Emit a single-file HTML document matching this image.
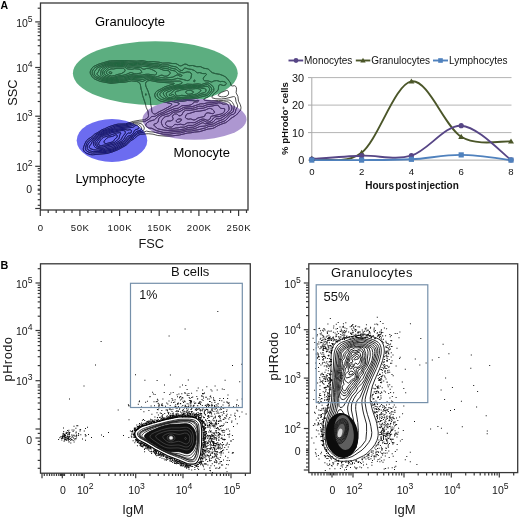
<!DOCTYPE html>
<html><head><meta charset="utf-8"><style>
html,body{margin:0;padding:0;background:#fff;width:520px;height:517px;overflow:hidden}
svg{display:block;font-family:'Liberation Sans',sans-serif}
</style></head><body>
<svg width="520" height="517" viewBox="0 0 520 517" style="will-change:transform">
<defs><clipPath id="cg"><ellipse cx="155.3" cy="73.2" rx="82.4" ry="32" /></clipPath><clipPath id="cp"><ellipse cx="194.5" cy="119.3" rx="52" ry="20.5" /></clipPath><clipPath id="cb"><ellipse cx="112" cy="140.5" rx="35.3" ry="21.5" /></clipPath></defs>
<ellipse cx="155.3" cy="73.2" rx="82.4" ry="32" fill="#5cae80"/>
<ellipse cx="194.5" cy="119.3" rx="52" ry="20.5" fill="#ad97d1"/>
<ellipse cx="112" cy="140.5" rx="35.3" ry="21.5" fill="#6c6cf0"/>
<defs><g id="cl"><path d="M93.6,154.7 92.4,154.8 90.6,154.6 88.2,153.9 86.4,153.2 84.9,152.2 84.0,151.2 83.4,149.8 83.3,148.6 83.7,146.8 85.1,143.2 86.4,140.8 88.2,139.1 92.0,136.6 94.6,134.2 97.9,132.4 102.0,129.7 104.6,128.8 108.6,126.9 115.2,124.7 118.2,124.1 125.4,123.9 133.2,121.4 139.8,120.2 144.6,119.8 147.5,118.0 148.3,116.8 148.5,115.6 148.0,111.4 146.1,107.2 145.5,104.2 142.5,95.2 142.0,92.2 141.1,89.2 140.3,84.4 139.2,82.6 138.0,81.9 136.5,81.4 131.4,80.9 124.2,82.3 120.0,82.4 111.0,83.4 100.2,81.4 94.8,79.1 93.6,78.3 92.0,76.6 90.4,73.6 90.2,72.4 90.4,71.2 91.5,68.8 92.9,67.0 94.8,65.9 99.0,64.0 108.0,61.3 110.4,60.9 117.0,60.7 124.8,60.6 136.8,61.1 142.2,60.6 148.2,61.8 153.0,61.6 159.0,62.2 162.6,63.1 168.6,62.9 172.2,63.5 175.8,63.6 177.0,64.1 179.4,65.6 180.6,65.9 181.8,65.6 184.2,64.3 186.0,64.1 189.0,65.7 192.6,65.5 196.8,66.7 200.4,66.6 204.0,68.3 207.6,68.8 208.8,69.4 211.0,71.8 212.4,72.7 215.4,73.6 219.6,74.3 223.2,75.6 225.6,77.0 227.1,78.4 230.3,82.6 231.2,85.6 232.2,86.0 234.6,85.7 235.8,86.5 236.3,87.4 236.5,89.2 236.1,92.8 237.9,96.4 238.5,101.2 240.1,104.2 240.7,106.0 241.0,107.8 240.7,109.6 240.0,110.8 236.3,115.0 231.0,118.4 227.3,121.6 225.6,122.7 222.0,123.9 217.8,125.7 214.8,127.5 212.4,128.5 208.2,129.0 199.8,131.6 194.4,132.1 190.8,132.8 187.8,133.0 179.4,135.0 172.2,135.9 165.0,136.1 157.8,135.5 153.0,134.2 148.2,133.7 140.4,134.3 138.0,135.3 134.4,138.6 130.7,140.8 126.0,145.3 118.2,149.6 112.2,152.0 106.8,153.5 93.6,154.7"/><path d="M155.8,113.8 159.0,111.8 162.6,110.2 170.3,106.0 171.7,104.8 171.8,104.2 171.0,103.6 160.2,101.0 157.2,99.4 155.5,97.6 154.8,95.8 154.7,94.6 155.4,92.8 156.3,91.6 157.2,90.9 161.7,88.6 164.4,87.0 171.0,84.7 173.1,84.4 174.3,83.8 174.1,83.2 158.4,82.1 150.0,80.5 147.8,80.8 146.1,82.0 145.6,83.2 145.6,85.0 146.1,86.8 148.0,91.0 150.4,98.8 150.6,103.6 151.5,107.8 151.8,111.4 152.4,112.6 153.5,113.8 154.8,114.1 155.8,113.8"/><path d="M226.1,96.4 227.9,95.2 228.6,94.0 228.5,92.2 228.0,91.0 227.4,90.4 226.2,90.5 221.4,92.4 219.0,94.0 218.2,95.2 218.4,95.8 219.0,96.2 221.4,96.8 223.8,96.8 226.1,96.4"/><path d="M97.2,152.8 92.4,153.1 90.6,152.8 88.2,151.9 86.6,151.0 85.8,150.0 85.4,148.6 85.5,147.4 86.8,143.2 88.2,141.2 93.5,137.2 96.0,134.8 101.4,131.3 115.8,125.7 121.2,125.1 125.4,124.9 135.0,122.1 144.6,121.6 149.0,119.2 151.8,116.5 154.2,116.4 155.4,116.1 159.6,113.6 163.2,112.2 166.8,110.0 174.6,106.2 177.4,105.4 178.4,104.8 179.0,104.2 179.2,103.6 178.7,103.0 178.2,102.8 173.4,101.7 167.4,101.1 160.8,99.2 159.2,98.2 157.8,96.6 157.2,95.2 157.2,94.0 157.8,92.8 159.0,91.8 165.0,88.3 171.0,86.4 179.2,84.4 181.0,83.8 181.9,83.2 182.1,82.6 181.6,82.0 180.6,81.4 179.4,81.1 169.8,81.2 159.0,80.8 156.0,80.5 151.2,79.3 149.4,79.0 146.5,79.6 143.4,81.2 142.2,81.5 138.0,80.3 131.4,79.3 130.2,79.4 123.6,81.3 119.4,81.3 112.2,82.3 109.8,82.2 100.8,80.1 95.4,77.6 94.2,76.7 93.2,75.4 92.3,73.6 92.2,72.4 92.4,71.2 93.0,70.0 93.8,68.8 95.1,67.6 99.0,65.5 107.4,62.6 109.8,62.1 124.2,61.7 128.4,62.1 132.0,62.0 137.4,62.4 141.6,61.8 148.2,63.1 158.4,63.8 162.6,65.0 168.0,64.8 171.6,66.1 175.8,66.8 177.6,67.8 179.9,70.0 181.2,70.5 182.4,70.5 183.0,70.0 183.7,68.8 184.8,68.0 186.0,68.2 188.4,69.0 191.4,69.4 194.4,70.5 196.8,72.5 197.4,72.8 199.8,72.6 202.8,73.6 205.9,73.6 206.5,74.2 206.4,74.8 204.0,76.9 203.3,78.4 203.5,79.6 203.8,80.2 204.7,80.8 208.2,80.9 211.2,82.0 211.8,82.0 214.2,80.9 216.6,80.6 217.9,80.8 220.2,81.7 222.0,81.4 223.2,81.5 225.0,82.0 225.8,82.6 226.2,83.2 226.3,83.8 226.0,84.4 225.0,85.2 223.2,85.5 220.2,84.5 219.6,84.7 219.0,85.4 218.5,86.8 218.4,89.2 217.9,90.4 213.2,94.6 211.9,97.0 212.0,97.6 212.4,97.9 215.9,98.8 221.4,99.0 226.2,98.4 233.4,96.6 234.6,96.7 235.4,97.6 236.0,101.8 237.4,104.8 237.7,106.0 237.4,107.2 235.9,109.6 235.4,112.0 234.9,113.2 233.4,114.3 231.6,114.7 230.4,115.2 226.8,119.2 225.0,120.8 217.8,123.6 213.6,125.8 212.4,126.1 208.8,126.4 205.8,127.8 198.0,129.8 195.0,130.2 191.4,131.0 187.2,131.1 180.6,132.9 176.4,133.1 169.2,134.2 163.2,134.2 153.0,132.0 150.0,131.8 146.4,131.1 143.4,132.3 139.2,133.1 137.4,133.8 134.0,137.2 129.6,140.1 126.0,143.8 124.8,144.7 118.2,148.4 112.8,150.8 111.0,151.4 105.0,152.6 97.2,152.8"/><path d="M194.9,81.4 195.1,80.8 195.0,80.3 194.4,80.1 193.8,80.6 193.7,81.4 194.4,81.7 194.9,81.4"/><path d="M145.8,95.3 145.5,94.6 145.8,93.7 146.1,94.6 145.8,95.3"/><path d="M115.2,80.8 112.2,81.3 110.4,81.3 103.8,79.8 101.4,79.0 96.5,76.6 95.4,75.8 94.7,74.8 94.3,73.6 94.4,71.8 96.0,69.4 97.9,67.6 107.4,63.6 110.4,63.0 113.4,63.0 116.4,62.7 120.6,62.8 124.2,62.6 129.0,63.5 133.2,63.2 137.4,63.6 141.6,63.1 150.1,64.6 154.2,65.0 158.4,65.1 162.6,66.6 167.4,66.7 171.6,68.3 175.2,68.9 176.4,69.5 178.8,71.5 181.8,72.6 183.6,72.9 187.2,71.9 189.6,72.2 191.0,73.0 191.6,74.2 191.0,77.8 190.4,79.0 189.0,80.2 187.8,80.6 186.6,80.5 183.6,79.6 177.6,78.3 174.0,79.3 171.6,79.7 157.8,79.5 155.4,79.3 150.6,78.0 148.8,77.8 146.4,78.2 143.4,79.3 142.2,79.4 135.0,78.8 132.0,78.0 130.8,78.0 123.6,80.3 119.4,80.2 115.2,80.8"/><path d="M168.0,132.4 163.2,132.4 156.3,130.6 151.8,128.3 149.4,128.1 148.2,127.8 146.2,126.4 145.7,125.2 146.0,124.0 147.0,122.8 149.4,121.3 154.4,119.8 158.2,116.2 160.8,114.6 163.8,113.5 166.8,112.0 174.0,108.9 178.2,108.2 181.8,105.8 183.0,105.6 188.4,105.4 191.1,104.8 194.4,102.2 195.0,101.9 197.4,102.0 198.5,101.2 198.8,100.6 198.0,100.3 195.0,101.0 192.6,100.6 187.2,100.5 181.8,101.4 177.0,100.8 173.4,99.9 169.2,100.0 166.8,99.5 162.3,97.6 160.5,95.8 159.8,94.6 160.1,93.4 161.2,92.2 163.6,90.4 165.6,89.3 172.2,87.2 177.0,86.0 184.1,85.0 187.2,84.1 192.6,84.4 198.0,83.8 201.6,84.5 205.8,83.1 208.2,82.9 209.9,83.8 213.3,86.8 213.8,88.6 213.8,90.4 213.1,91.6 209.4,95.8 207.6,97.1 204.2,98.8 203.9,99.4 204.2,100.0 205.8,100.5 211.2,101.0 218.4,100.4 223.2,100.5 226.8,100.0 228.6,100.0 229.8,100.3 231.3,101.2 232.4,102.4 233.8,104.8 234.2,106.0 234.2,107.2 233.3,111.4 232.8,112.1 229.6,113.8 226.8,116.5 223.2,119.4 217.8,121.4 213.6,123.8 211.8,124.3 208.8,124.7 205.2,126.0 199.8,126.5 195.9,128.2 192.6,129.1 187.8,129.3 184.2,130.5 180.0,131.3 175.8,131.5 168.0,132.4"/><path d="M105.0,151.6 102.6,151.8 99.0,151.5 93.6,151.6 91.8,151.4 90.0,150.9 88.2,149.9 87.3,148.6 87.2,146.8 87.7,145.0 88.8,143.1 92.2,139.6 94.5,137.8 97.2,135.3 102.0,132.1 103.2,131.5 112.8,128.3 115.2,127.1 117.0,126.7 126.0,125.8 131.4,124.4 134.4,123.2 136.2,122.9 138.6,123.1 141.0,123.7 142.2,124.4 142.9,125.2 144.0,127.0 144.3,128.2 144.0,129.4 143.2,130.6 141.6,131.4 138.0,132.2 136.8,132.8 133.7,136.0 129.6,138.6 124.8,143.3 117.0,147.8 111.6,150.3 108.0,150.8 105.0,151.6"/><path d="M113.4,80.2 110.4,80.4 103.8,78.7 101.7,77.8 97.9,75.4 97.3,74.8 97.0,73.6 98.4,71.7 99.6,68.8 100.8,67.9 104.4,65.9 108.0,64.3 109.8,63.9 112.8,63.9 116.4,63.5 120.6,63.7 123.6,63.5 125.4,63.8 128.4,64.8 133.2,64.3 137.4,64.9 141.6,64.4 153.0,66.3 157.8,66.3 162.6,68.1 168.0,68.8 171.6,70.4 174.0,70.7 175.2,71.1 178.2,74.0 180.6,74.4 181.4,74.8 181.9,75.4 181.8,76.0 180.6,76.3 179.6,76.0 178.2,75.1 177.0,74.9 172.8,77.1 165.6,78.1 161.4,77.7 157.8,78.2 155.4,78.2 150.6,76.9 148.8,76.7 146.4,76.9 142.8,77.7 136.2,77.7 131.4,76.8 129.6,77.2 123.6,79.2 119.4,79.1 113.4,80.2"/><path d="M184.8,99.4 182.4,100.0 180.6,100.0 177.0,99.6 173.4,98.3 170.4,98.8 168.0,98.6 166.2,97.7 164.8,96.4 163.3,94.0 163.3,92.8 164.3,91.6 165.6,90.8 174.0,87.7 178.8,86.6 184.2,86.2 187.8,85.5 191.4,85.7 197.4,85.2 202.2,85.9 205.8,84.7 207.6,84.6 209.4,85.6 211.4,88.0 211.8,89.8 211.3,91.0 208.8,94.2 207.0,95.5 200.4,97.1 196.2,98.4 190.8,99.1 184.8,99.4"/><path d="M169.2,130.6 163.8,130.1 157.8,128.8 154.3,125.8 153.9,125.2 153.8,124.6 154.5,124.0 156.6,123.3 157.8,122.3 158.3,121.0 158.8,118.6 160.2,116.8 162.3,115.6 169.2,113.4 173.4,110.9 178.8,110.0 183.6,107.4 186.0,107.0 192.0,106.7 200.4,103.8 203.4,103.8 207.0,102.9 211.8,102.7 218.4,101.6 220.2,101.6 223.2,102.1 226.2,101.7 228.0,101.8 229.8,103.0 231.5,106.0 231.9,107.2 231.8,109.0 231.5,110.2 230.5,111.4 226.2,114.9 220.8,118.3 219.0,118.8 216.0,118.8 213.6,121.6 211.8,122.6 205.8,123.9 204.6,123.6 203.4,122.9 202.2,122.8 193.8,127.1 188.4,127.5 184.2,129.0 179.4,129.8 169.2,130.6"/><path d="M105.6,150.5 102.6,150.8 98.4,150.2 93.7,149.8 90.0,148.5 89.3,147.4 89.4,146.2 91.2,143.9 92.3,141.4 93.2,140.2 98.7,135.4 103.8,132.3 106.8,131.5 109.8,130.2 112.9,129.4 115.8,128.2 125.4,127.0 131.4,125.9 132.6,125.5 134.4,124.4 135.6,124.1 137.4,124.1 138.6,124.5 139.6,125.2 140.7,126.4 141.4,127.6 141.7,128.8 141.6,129.4 141.0,130.0 136.2,131.6 132.8,135.4 129.0,137.6 123.6,142.8 119.4,145.0 116.4,147.0 112.2,149.0 111.0,149.4 108.0,149.7 105.6,150.5"/><path d="M114.6,79.1 112.2,79.5 109.8,79.3 103.8,77.5 102.2,76.6 101.0,75.4 100.6,74.2 101.1,70.6 101.7,69.4 103.8,67.7 107.4,65.6 109.2,64.9 113.4,64.8 116.4,64.4 120.6,64.7 123.6,64.5 125.4,64.8 127.2,65.8 128.4,66.1 133.2,65.5 137.4,66.2 141.0,65.9 148.8,66.9 153.6,68.0 157.8,67.9 163.8,70.3 168.0,70.6 169.2,71.2 169.8,71.8 170.2,73.0 170.1,73.6 169.1,74.8 168.0,75.6 166.2,76.2 164.4,76.1 162.0,75.1 160.8,75.3 157.5,76.6 155.4,77.0 153.6,76.7 150.6,75.8 148.8,75.6 146.4,75.7 142.2,76.4 136.2,76.6 131.4,75.7 123.6,77.9 118.8,78.0 114.6,79.1"/><path d="M184.2,98.3 181.8,98.8 178.2,98.7 177.0,98.4 174.6,97.1 173.4,96.7 170.4,97.6 168.6,97.5 167.1,96.4 166.5,95.2 166.2,93.4 166.4,92.8 167.1,92.2 169.8,91.2 173.1,89.2 175.2,88.4 178.8,87.6 184.2,87.3 187.8,86.6 192.0,86.8 195.0,86.3 197.4,86.2 202.2,87.1 205.8,86.4 207.0,86.3 208.2,86.8 208.8,87.4 209.5,88.6 209.6,89.8 209.1,91.0 207.6,93.1 206.4,94.0 204.6,94.5 201.0,95.1 196.2,97.0 189.6,98.0 184.2,98.3"/><path d="M172.8,128.9 171.0,129.0 169.2,128.9 164.4,127.5 163.6,127.0 162.6,125.8 161.5,123.4 161.3,122.2 161.7,120.4 164.1,117.4 165.6,116.6 169.2,115.8 172.2,113.3 173.4,112.5 175.2,112.0 178.2,112.0 180.0,111.6 183.6,109.3 185.4,108.6 187.2,108.3 190.8,108.5 192.6,108.3 194.7,107.8 198.6,106.3 199.8,106.2 202.8,106.4 207.0,104.8 214.8,103.8 218.4,102.9 220.4,103.0 223.2,104.2 226.8,103.9 227.4,104.2 228.3,105.4 229.1,107.8 229.0,109.6 228.3,110.8 225.8,113.2 223.8,114.7 220.2,116.3 219.0,116.6 216.0,116.7 214.8,117.0 213.5,118.0 211.8,120.4 210.0,121.5 208.2,122.1 206.4,122.1 204.0,120.8 202.8,120.6 201.6,121.0 193.8,125.1 192.6,125.4 188.4,125.4 184.2,127.2 180.6,127.2 178.2,127.8 175.8,128.0 172.8,128.9"/><path d="M105.6,149.2 103.8,149.7 102.0,149.7 97.2,148.4 95.2,147.4 93.8,145.6 93.4,143.2 93.9,141.4 94.9,140.2 100.3,135.4 103.8,133.3 107.4,132.4 110.4,130.9 115.8,129.5 121.8,128.5 132.6,127.4 133.2,127.2 135.0,125.7 136.2,125.4 137.4,125.6 138.4,126.4 139.0,127.6 138.6,128.6 135.0,130.0 134.4,130.6 133.3,133.0 132.4,134.2 130.8,135.3 127.8,136.2 125.3,139.6 123.0,141.8 118.8,144.0 115.8,146.0 112.2,147.7 111.0,148.1 108.0,148.4 105.6,149.2"/><path d="M112.8,78.5 109.8,78.3 104.4,76.3 103.1,75.4 102.5,74.2 102.7,71.8 103.5,70.0 107.4,66.9 109.2,65.9 110.4,65.7 113.4,65.8 116.4,65.5 120.0,65.7 123.6,65.4 124.8,65.7 127.2,67.2 128.4,67.4 133.2,66.9 136.8,67.5 139.8,67.4 141.0,67.7 142.8,69.0 144.0,69.3 146.4,68.5 149.4,68.6 151.7,69.4 155.1,71.2 156.0,71.8 156.5,72.4 156.6,73.0 156.3,74.2 155.7,74.8 154.8,75.1 148.2,74.2 145.8,74.3 142.2,75.0 136.2,75.4 132.0,74.5 130.8,74.5 124.2,76.5 118.8,76.9 112.8,78.5"/><path d="M188.4,97.0 178.2,97.5 176.4,96.9 173.4,94.7 172.2,94.5 170.4,95.6 169.8,95.7 169.1,95.2 169.2,94.6 169.8,94.0 171.6,92.9 173.2,91.0 174.8,89.8 176.4,89.2 180.3,88.6 184.2,88.3 187.8,87.6 192.0,87.8 196.8,87.2 199.2,87.5 202.2,88.4 204.6,88.6 205.8,89.2 206.0,89.8 206.0,91.0 205.3,92.2 204.6,92.6 201.0,93.4 197.6,95.2 196.2,95.7 188.4,97.0"/><path d="M171.6,127.1 169.6,127.0 166.7,125.8 165.7,124.6 165.5,123.4 166.2,122.1 167.4,121.1 170.4,121.0 172.0,120.4 172.8,119.8 173.2,118.6 172.4,116.8 172.5,116.2 173.2,115.0 174.6,114.0 176.4,113.9 177.5,114.4 178.8,115.7 180.0,115.9 181.7,115.0 183.4,112.0 184.2,111.1 185.4,110.4 186.6,110.2 190.2,110.3 194.4,109.7 198.6,108.5 203.4,108.2 207.6,106.6 211.8,106.1 216.0,105.2 217.2,105.2 218.3,105.4 219.6,107.4 220.8,108.3 222.0,108.5 223.8,108.5 224.4,108.6 224.7,109.0 224.7,110.2 224.4,111.4 223.6,112.6 222.9,113.2 220.8,114.1 211.2,116.3 210.7,116.8 210.5,118.0 209.8,119.2 208.2,120.2 207.0,120.3 204.0,119.1 202.2,119.1 199.8,119.9 195.0,122.5 193.8,122.7 190.8,122.6 187.2,122.9 184.2,124.8 183.0,124.8 180.6,124.2 177.6,124.7 175.2,124.4 174.5,124.6 172.8,126.4 171.6,127.1"/><path d="M104.4,148.2 101.4,148.4 98.4,147.6 96.3,146.2 95.5,145.0 95.1,143.8 95.1,142.6 95.6,141.4 99.6,137.2 101.4,135.7 103.8,134.3 107.4,133.5 111.0,131.7 114.0,131.2 120.6,129.6 124.2,129.4 127.8,130.1 130.2,129.6 131.0,130.0 131.4,130.6 131.4,131.8 130.8,133.0 130.2,133.2 128.4,133.0 127.2,133.7 125.9,135.4 123.9,139.0 121.8,141.1 114.0,145.4 111.0,146.5 107.4,147.2 104.4,148.2"/><path d="M114.0,77.2 112.2,77.4 110.4,77.3 105.0,74.8 104.4,74.2 104.2,73.6 104.2,72.4 104.8,71.2 108.6,67.7 110.0,67.0 123.0,66.6 124.7,67.0 126.6,68.5 127.8,69.0 132.0,69.3 134.4,68.7 139.2,69.1 140.4,69.8 141.7,71.8 141.8,72.4 141.2,73.0 136.2,73.9 134.4,73.7 131.4,72.6 130.2,72.6 126.8,74.2 125.0,74.8 122.4,75.4 118.2,75.8 114.0,77.2"/><path d="M188.4,95.8 186.6,95.8 181.8,95.3 178.8,95.9 177.6,95.9 176.4,95.3 175.8,94.6 175.2,92.8 175.8,91.6 177.0,91.1 178.8,90.8 181.4,89.8 184.8,89.5 188.4,88.7 192.6,89.0 195.6,88.6 198.0,88.6 199.8,89.2 200.6,89.8 200.9,90.4 200.8,91.0 200.2,91.6 196.7,94.0 188.4,95.8"/><path d="M195.0,119.9 193.2,119.9 190.8,118.9 188.4,119.2 186.6,118.6 185.7,118.0 185.4,117.4 185.6,116.2 186.5,114.4 187.4,113.8 189.6,113.4 195.7,111.4 199.8,111.1 205.2,110.1 208.2,108.7 209.4,108.4 210.6,108.5 212.4,109.3 213.4,110.2 214.5,112.0 214.5,112.6 214.0,113.2 212.4,113.7 208.2,112.8 207.0,112.9 205.6,113.8 204.6,116.2 203.1,116.8 198.0,117.9 195.0,119.9"/><path d="M178.8,122.2 177.6,122.4 177.0,122.2 176.3,121.6 176.2,121.0 176.4,120.3 177.0,119.7 178.2,119.1 180.0,118.9 181.4,119.2 181.5,119.8 180.8,121.0 178.8,122.2"/><path d="M103.2,146.9 100.8,147.2 99.0,146.7 97.5,145.6 96.8,143.8 96.9,142.6 97.5,141.4 100.2,138.1 101.8,136.6 104.4,135.3 108.0,134.6 111.0,132.9 114.0,132.3 117.0,131.5 121.8,130.5 123.7,130.6 125.0,131.2 125.4,131.8 125.4,132.4 125.0,133.6 122.6,136.6 121.5,139.0 120.4,140.2 114.0,144.1 103.2,146.9"/><path d="M114.6,75.6 111.6,76.0 109.8,75.6 106.6,73.6 106.3,73.0 106.5,71.8 107.4,70.8 108.6,69.9 111.0,68.9 113.4,69.0 117.0,68.3 122.4,68.2 123.6,68.4 124.7,69.4 125.1,70.6 125.0,71.2 124.2,71.9 121.2,73.7 117.0,74.6 114.6,75.6"/><path d="M190.2,94.1 188.4,94.2 187.2,93.9 185.9,92.8 185.6,92.2 185.8,91.6 187.2,90.7 189.0,90.2 190.8,90.4 193.3,91.6 193.5,92.2 193.1,92.8 192.2,93.4 190.2,94.1"/><path d="M101.4,145.7 100.2,145.7 99.1,145.0 98.7,144.4 98.7,143.2 99.3,142.0 100.8,139.8 102.0,138.5 103.2,137.5 104.4,137.0 107.4,136.2 116.4,133.0 120.0,132.7 121.0,133.0 119.9,134.8 119.2,137.8 118.6,139.0 114.1,142.6 106.8,144.9 103.2,145.2 101.4,145.7"/><path d="M111.0,73.7 110.1,73.6 109.2,73.0 109.0,72.4 109.2,72.1 109.8,71.8 110.4,71.7 111.8,72.4 112.0,73.0 111.6,73.5 111.0,73.7"/><path d="M107.4,143.3 106.2,143.6 105.0,143.4 104.1,142.6 103.9,142.0 104.3,140.8 106.6,138.4 108.6,137.1 112.8,136.3 115.6,134.8 116.4,134.7 117.0,135.1 117.3,136.0 117.1,137.2 114.9,139.0 113.3,141.4 112.2,142.0 107.4,143.3"/></g></defs>
<g fill="none" stroke-width="0.9" stroke-linejoin="round">
<use href="#cl" stroke="#3a3a3a"/>
<use href="#cl" clip-path="url(#cg)" stroke="#1d6b40"/>
<use href="#cl" clip-path="url(#cp)" stroke="#4a2c78"/>
<use href="#cl" clip-path="url(#cb)" stroke="#14147e"/>
</g>
<g stroke="#383838" stroke-width="1.2"><line x1="35.2" y1="166.3" x2="40.5" y2="166.3"/><line x1="35.2" y1="116.2" x2="40.5" y2="116.2"/><line x1="35.2" y1="67.5" x2="40.5" y2="67.5"/><line x1="35.2" y1="21.9" x2="40.5" y2="21.9"/><line x1="37.7" y1="151.2" x2="40.5" y2="151.2"/><line x1="37.7" y1="142.4" x2="40.5" y2="142.4"/><line x1="37.7" y1="136.1" x2="40.5" y2="136.1"/><line x1="37.7" y1="131.3" x2="40.5" y2="131.3"/><line x1="37.7" y1="127.3" x2="40.5" y2="127.3"/><line x1="37.7" y1="124.0" x2="40.5" y2="124.0"/><line x1="37.7" y1="121.1" x2="40.5" y2="121.1"/><line x1="37.7" y1="118.5" x2="40.5" y2="118.5"/><line x1="37.7" y1="101.5" x2="40.5" y2="101.5"/><line x1="37.7" y1="93.0" x2="40.5" y2="93.0"/><line x1="37.7" y1="86.9" x2="40.5" y2="86.9"/><line x1="37.7" y1="82.2" x2="40.5" y2="82.2"/><line x1="37.7" y1="78.3" x2="40.5" y2="78.3"/><line x1="37.7" y1="75.0" x2="40.5" y2="75.0"/><line x1="37.7" y1="72.2" x2="40.5" y2="72.2"/><line x1="37.7" y1="69.7" x2="40.5" y2="69.7"/><line x1="37.7" y1="53.8" x2="40.5" y2="53.8"/><line x1="37.7" y1="45.7" x2="40.5" y2="45.7"/><line x1="37.7" y1="40.0" x2="40.5" y2="40.0"/><line x1="37.7" y1="35.6" x2="40.5" y2="35.6"/><line x1="37.7" y1="32.0" x2="40.5" y2="32.0"/><line x1="37.7" y1="29.0" x2="40.5" y2="29.0"/><line x1="37.7" y1="26.3" x2="40.5" y2="26.3"/><line x1="37.7" y1="24.0" x2="40.5" y2="24.0"/><line x1="37.7" y1="8.2" x2="40.5" y2="8.2"/><line x1="37.7" y1="168.6" x2="40.5" y2="168.6"/><line x1="37.7" y1="170.8" x2="40.5" y2="170.8"/><line x1="37.7" y1="173.9" x2="40.5" y2="173.9"/><line x1="37.7" y1="177.0" x2="40.5" y2="177.0"/><line x1="37.7" y1="180.2" x2="40.5" y2="180.2"/><line x1="37.7" y1="185.5" x2="40.5" y2="185.5"/><line x1="37.7" y1="189.2" x2="40.5" y2="189.2"/><line x1="37.7" y1="190.2" x2="40.5" y2="190.2"/><line x1="37.7" y1="194.0" x2="40.5" y2="194.0"/><line x1="37.7" y1="199.7" x2="40.5" y2="199.7"/><line x1="37.7" y1="205.3" x2="40.5" y2="205.3"/><line x1="35.2" y1="208.5" x2="40.5" y2="208.5"/><line x1="40.3" y1="210" x2="40.3" y2="216"/><line x1="48.2" y1="210" x2="48.2" y2="213"/><line x1="56.2" y1="210" x2="56.2" y2="213"/><line x1="64.1" y1="210" x2="64.1" y2="213"/><line x1="72.0" y1="210" x2="72.0" y2="213"/><line x1="79.9" y1="210" x2="79.9" y2="216"/><line x1="87.9" y1="210" x2="87.9" y2="213"/><line x1="95.8" y1="210" x2="95.8" y2="213"/><line x1="103.7" y1="210" x2="103.7" y2="213"/><line x1="111.7" y1="210" x2="111.7" y2="213"/><line x1="119.6" y1="210" x2="119.6" y2="216"/><line x1="127.5" y1="210" x2="127.5" y2="213"/><line x1="135.5" y1="210" x2="135.5" y2="213"/><line x1="143.4" y1="210" x2="143.4" y2="213"/><line x1="151.3" y1="210" x2="151.3" y2="213"/><line x1="159.2" y1="210" x2="159.2" y2="216"/><line x1="167.2" y1="210" x2="167.2" y2="213"/><line x1="175.1" y1="210" x2="175.1" y2="213"/><line x1="183.0" y1="210" x2="183.0" y2="213"/><line x1="191.0" y1="210" x2="191.0" y2="213"/><line x1="198.9" y1="210" x2="198.9" y2="216"/><line x1="206.8" y1="210" x2="206.8" y2="213"/><line x1="214.8" y1="210" x2="214.8" y2="213"/><line x1="222.7" y1="210" x2="222.7" y2="213"/><line x1="230.6" y1="210" x2="230.6" y2="213"/><line x1="238.6" y1="210" x2="238.6" y2="216"/><line x1="246.5" y1="210" x2="246.5" y2="213"/></g>
<rect x="40.5" y="3" width="207.5" height="207" fill="none" stroke="#383838" stroke-width="1.3"/>
<text x="32.6" y="171.1" font-size="10.5" text-anchor="end" fill="#161616">10<tspan font-size="8.6" dy="-5">2</tspan></text>
<text x="32.6" y="121" font-size="10.5" text-anchor="end" fill="#161616">10<tspan font-size="8.6" dy="-5">3</tspan></text>
<text x="32.6" y="72.3" font-size="10.5" text-anchor="end" fill="#161616">10<tspan font-size="8.6" dy="-5">4</tspan></text>
<text x="32.6" y="26.7" font-size="10.5" text-anchor="end" fill="#161616">10<tspan font-size="8.6" dy="-5">5</tspan></text>
<text x="32" y="193.1" font-size="10.5" text-anchor="end" font-weight="normal" fill="#161616" >0</text>
<text x="40.6" y="231.2" font-size="9.6" text-anchor="middle" font-weight="normal" fill="#161616" letter-spacing="0.6">0</text>
<text x="80.2" y="231.2" font-size="9.6" text-anchor="middle" font-weight="normal" fill="#161616" letter-spacing="0.6">50K</text>
<text x="119.9" y="231.2" font-size="9.6" text-anchor="middle" font-weight="normal" fill="#161616" letter-spacing="0.6">100K</text>
<text x="159.6" y="231.2" font-size="9.6" text-anchor="middle" font-weight="normal" fill="#161616" letter-spacing="0.6">150K</text>
<text x="199.2" y="231.2" font-size="9.6" text-anchor="middle" font-weight="normal" fill="#161616" letter-spacing="0.6">200K</text>
<text x="238.9" y="231.2" font-size="9.6" text-anchor="middle" font-weight="normal" fill="#161616" letter-spacing="0.6">250K</text>
<text x="151.2" y="248.4" font-size="12.8" text-anchor="middle" font-weight="normal" fill="#161616" >FSC</text>
<text transform="translate(17.4,92.6) rotate(-90)" font-size="12.8" text-anchor="middle" fill="#161616">SSC</text>
<text x="0.6" y="8.7" font-size="10.5" text-anchor="start" font-weight="bold" fill="#000" >A</text>
<text x="95" y="26" font-size="13" text-anchor="start" font-weight="normal" fill="#000" >Granulocyte</text>
<text x="173.5" y="157.3" font-size="13" text-anchor="start" font-weight="normal" fill="#000" >Monocyte</text>
<text x="75.5" y="183.3" font-size="13" text-anchor="start" font-weight="normal" fill="#000" >Lymphocyte</text>
<line x1="311.8" y1="132.6" x2="511.5" y2="132.6" stroke="#b4b4b4" stroke-width="1"/><line x1="311.8" y1="105.1" x2="511.5" y2="105.1" stroke="#b4b4b4" stroke-width="1"/><line x1="311.8" y1="77.6" x2="511.5" y2="77.6" stroke="#b4b4b4" stroke-width="1"/><line x1="311.8" y1="77.6" x2="311.8" y2="160.1" stroke="#a8a8a8" stroke-width="1"/><line x1="311.8" y1="160.1" x2="511.8" y2="160.1" stroke="#a8a8a8" stroke-width="1"/><line x1="308" y1="160.1" x2="311.8" y2="160.1" stroke="#a8a8a8" stroke-width="1"/><line x1="308" y1="132.6" x2="311.8" y2="132.6" stroke="#a8a8a8" stroke-width="1"/><line x1="308" y1="105.1" x2="311.8" y2="105.1" stroke="#a8a8a8" stroke-width="1"/><line x1="308" y1="77.6" x2="311.8" y2="77.6" stroke="#a8a8a8" stroke-width="1"/>
<text x="304.2" y="164" font-size="10.9" text-anchor="end" font-weight="normal" fill="#111" >0</text>
<text x="304.2" y="136.5" font-size="10.9" text-anchor="end" font-weight="normal" fill="#111" >10</text>
<text x="304.2" y="109" font-size="10.9" text-anchor="end" font-weight="normal" fill="#111" >20</text>
<text x="304.2" y="81.5" font-size="10.9" text-anchor="end" font-weight="normal" fill="#111" >30</text>
<text x="311.8" y="174.7" font-size="9.6" text-anchor="middle" font-weight="normal" fill="#111" >0</text>
<text x="361.6" y="174.7" font-size="9.6" text-anchor="middle" font-weight="normal" fill="#111" >2</text>
<text x="411.4" y="174.7" font-size="9.6" text-anchor="middle" font-weight="normal" fill="#111" >4</text>
<text x="461.2" y="174.7" font-size="9.6" text-anchor="middle" font-weight="normal" fill="#111" >6</text>
<text x="511" y="174.7" font-size="9.6" text-anchor="middle" font-weight="normal" fill="#111" >8</text>
<text x="412" y="189.3" font-size="10" text-anchor="middle" font-weight="bold" fill="#111" word-spacing="-1.5">Hours post injection</text>
<text transform="translate(288.2,118.6) rotate(-90)" font-size="9.6" font-weight="bold" text-anchor="middle" fill="#111">% pHrodo<tspan font-size="6" dy="-3.5">+</tspan><tspan dy="3.5"> cells</tspan></text>
<path d="M311.8,158.7 C320.1,157.7 345.0,165.6 361.6,152.7 C378.2,139.8 394.8,84.1 411.4,81.4 C428.0,78.8 444.6,126.7 461.2,136.7 C477.8,146.7 502.7,140.6 511.0,141.4" fill="none" stroke="#4b5629" stroke-width="1.9"/>
<path d="M311.8,159.0 C320.1,158.4 345.0,156.2 361.6,155.7 C378.2,155.1 394.8,160.7 411.4,155.7 C428.0,150.7 444.6,125.0 461.2,125.7 C477.8,126.4 502.7,154.1 511.0,159.8" fill="none" stroke="#574686" stroke-width="1.9"/>
<path d="M311.8,160.1 C320.1,160.1 345.0,160.2 361.6,160.1 C378.2,160.0 394.8,160.1 411.4,159.3 C428.0,158.4 444.6,154.7 461.2,154.9 C477.8,155.0 502.7,159.2 511.0,160.1" fill="none" stroke="#4f81bd" stroke-width="1.9"/>
<path d="M308.8,160.9 L311.8,155.7 L314.8,160.9Z" fill="#4b5629"/>
<path d="M358.6,154.9 L361.6,149.7 L364.6,154.9Z" fill="#4b5629"/>
<path d="M408.4,83.6 L411.4,78.4 L414.4,83.6Z" fill="#4b5629"/>
<path d="M458.2,138.9 L461.2,133.7 L464.2,138.9Z" fill="#4b5629"/>
<path d="M508.0,143.6 L511.0,138.4 L514.0,143.6Z" fill="#4b5629"/>
<circle cx="311.8" cy="159.0" r="2.6" fill="#574686"/>
<circle cx="361.6" cy="155.7" r="2.6" fill="#574686"/>
<circle cx="411.4" cy="155.7" r="2.6" fill="#574686"/>
<circle cx="461.2" cy="125.7" r="2.6" fill="#574686"/>
<circle cx="511.0" cy="159.8" r="2.6" fill="#574686"/>
<rect x="309.2" y="157.5" width="5.2" height="5.2" fill="#4f81bd"/>
<rect x="359.0" y="157.5" width="5.2" height="5.2" fill="#4f81bd"/>
<rect x="408.8" y="156.7" width="5.2" height="5.2" fill="#4f81bd"/>
<rect x="458.6" y="152.3" width="5.2" height="5.2" fill="#4f81bd"/>
<rect x="508.4" y="157.5" width="5.2" height="5.2" fill="#4f81bd"/>
<line x1="288.5" y1="60.5" x2="303.2" y2="60.5" stroke="#574686" stroke-width="1.9"/><circle cx="296" cy="60.5" r="2.4" fill="#574686"/>
<text x="304" y="64.1" font-size="10" text-anchor="start" font-weight="normal" fill="#111" >Monocytes</text>
<line x1="355.8" y1="60.5" x2="370.3" y2="60.5" stroke="#4b5629" stroke-width="1.9"/><path d="M360.3,62.6 L363,57.8 L365.7,62.6Z" fill="#4b5629"/>
<text x="371.2" y="64.1" font-size="10" text-anchor="start" font-weight="normal" fill="#111" >Granulocytes</text>
<line x1="433" y1="60.5" x2="448" y2="60.5" stroke="#4f81bd" stroke-width="1.9"/><rect x="438.2" y="58.2" width="4.6" height="4.6" fill="#4f81bd"/>
<text x="449" y="64.1" font-size="10" text-anchor="start" font-weight="normal" fill="#111" >Lymphocytes</text>
<path d="M171.7,416.5h1.0v1.0h-1.0zM204.7,438.4h1.0v1.0h-1.0zM204.9,445.3h1.0v1.0h-1.0zM194.0,413.9h1.0v1.0h-1.0zM168.7,416.9h1.0v1.0h-1.0zM197.9,464.0h1.0v1.0h-1.0zM178.7,415.6h1.0v1.0h-1.0zM173.2,416.6h1.0v1.0h-1.0zM190.1,465.0h1.0v1.0h-1.0zM149.6,447.1h1.0v1.0h-1.0zM203.1,426.0h1.0v1.0h-1.0zM136.0,439.9h1.0v1.0h-1.0zM154.0,449.4h1.0v1.0h-1.0zM150.8,421.4h1.0v1.0h-1.0zM193.5,416.6h1.0v1.0h-1.0zM167.6,456.8h1.0v1.0h-1.0zM154.5,450.1h1.0v1.0h-1.0zM137.1,439.8h1.0v1.0h-1.0zM172.0,458.3h1.0v1.0h-1.0zM142.2,442.6h1.0v1.0h-1.0zM188.6,466.7h1.0v1.0h-1.0zM198.3,418.6h1.0v1.0h-1.0zM140.1,443.1h1.0v1.0h-1.0zM204.4,436.9h1.0v1.0h-1.0zM202.3,425.2h1.0v1.0h-1.0zM202.3,445.1h1.0v1.0h-1.0zM151.9,420.2h1.0v1.0h-1.0zM163.5,458.2h1.0v1.0h-1.0zM178.4,460.9h1.0v1.0h-1.0zM171.9,416.7h1.0v1.0h-1.0zM202.6,435.3h1.0v1.0h-1.0zM152.9,421.6h1.0v1.0h-1.0zM190.7,415.4h1.0v1.0h-1.0zM180.9,462.3h1.0v1.0h-1.0zM134.6,431.5h1.0v1.0h-1.0zM168.4,416.9h1.0v1.0h-1.0zM204.7,450.1h1.0v1.0h-1.0zM167.1,418.5h1.0v1.0h-1.0zM174.1,462.9h1.0v1.0h-1.0zM165.3,418.8h1.0v1.0h-1.0zM178.1,414.6h1.0v1.0h-1.0zM165.9,418.6h1.0v1.0h-1.0zM205.1,424.7h1.0v1.0h-1.0zM205.2,435.4h1.0v1.0h-1.0zM182.3,463.2h1.0v1.0h-1.0zM201.8,451.3h1.0v1.0h-1.0zM142.6,424.7h1.0v1.0h-1.0zM186.7,413.6h1.0v1.0h-1.0zM200.7,416.8h1.0v1.0h-1.0zM188.5,468.7h1.0v1.0h-1.0zM204.7,434.3h1.0v1.0h-1.0zM152.8,451.6h1.0v1.0h-1.0zM185.3,414.9h1.0v1.0h-1.0zM180.0,414.6h1.0v1.0h-1.0zM175.0,460.2h1.0v1.0h-1.0zM144.2,444.8h1.0v1.0h-1.0zM145.4,422.9h1.0v1.0h-1.0zM140.5,423.7h1.0v1.0h-1.0zM161.7,416.0h1.0v1.0h-1.0zM172.9,417.3h1.0v1.0h-1.0zM184.0,413.8h1.0v1.0h-1.0zM200.1,459.3h1.0v1.0h-1.0zM134.2,435.3h1.0v1.0h-1.0zM169.8,416.4h1.0v1.0h-1.0zM202.1,454.1h1.0v1.0h-1.0zM161.0,418.5h1.0v1.0h-1.0zM196.5,414.8h1.0v1.0h-1.0zM146.9,445.4h1.0v1.0h-1.0zM180.5,462.5h1.0v1.0h-1.0zM189.5,414.0h1.0v1.0h-1.0zM168.9,458.1h1.0v1.0h-1.0zM198.0,418.1h1.0v1.0h-1.0zM172.1,416.1h1.0v1.0h-1.0zM190.2,413.5h1.0v1.0h-1.0zM154.5,421.8h1.0v1.0h-1.0zM158.9,453.6h1.0v1.0h-1.0zM203.7,438.1h1.0v1.0h-1.0zM172.8,460.6h1.0v1.0h-1.0zM165.3,419.0h1.0v1.0h-1.0zM202.2,423.2h1.0v1.0h-1.0zM200.9,420.3h1.0v1.0h-1.0zM197.8,466.1h1.0v1.0h-1.0zM180.9,465.0h1.0v1.0h-1.0zM143.9,424.6h1.0v1.0h-1.0zM203.4,431.8h1.0v1.0h-1.0zM150.7,423.2h1.0v1.0h-1.0zM163.4,454.3h1.0v1.0h-1.0zM189.3,414.3h1.0v1.0h-1.0zM174.9,415.5h1.0v1.0h-1.0zM135.7,429.0h1.0v1.0h-1.0zM200.5,419.8h1.0v1.0h-1.0zM174.4,459.9h1.0v1.0h-1.0zM158.1,454.7h1.0v1.0h-1.0zM139.7,442.4h1.0v1.0h-1.0zM153.0,449.5h1.0v1.0h-1.0zM155.2,451.3h1.0v1.0h-1.0zM167.4,456.5h1.0v1.0h-1.0zM196.9,464.1h1.0v1.0h-1.0zM170.5,417.1h1.0v1.0h-1.0zM145.4,447.4h1.0v1.0h-1.0zM156.9,416.9h1.0v1.0h-1.0zM133.8,433.1h1.0v1.0h-1.0zM165.9,457.2h1.0v1.0h-1.0zM179.7,462.6h1.0v1.0h-1.0zM161.1,455.4h1.0v1.0h-1.0zM181.8,414.3h1.0v1.0h-1.0zM142.4,425.4h1.0v1.0h-1.0zM164.1,417.5h1.0v1.0h-1.0zM191.2,469.4h1.0v1.0h-1.0zM159.5,417.1h1.0v1.0h-1.0zM200.1,419.9h1.0v1.0h-1.0zM140.4,425.3h1.0v1.0h-1.0zM194.1,415.1h1.0v1.0h-1.0zM200.7,461.1h1.0v1.0h-1.0zM150.0,447.9h1.0v1.0h-1.0zM199.9,416.9h1.0v1.0h-1.0zM202.8,438.4h1.0v1.0h-1.0zM186.6,415.3h1.0v1.0h-1.0zM145.6,446.6h1.0v1.0h-1.0zM199.3,419.3h1.0v1.0h-1.0zM187.5,414.6h1.0v1.0h-1.0zM190.2,416.1h1.0v1.0h-1.0zM141.3,443.0h1.0v1.0h-1.0zM150.3,447.8h1.0v1.0h-1.0zM201.3,423.3h1.0v1.0h-1.0zM149.5,448.5h1.0v1.0h-1.0zM144.4,425.0h1.0v1.0h-1.0zM174.2,416.3h1.0v1.0h-1.0zM201.8,422.8h1.0v1.0h-1.0zM202.9,428.1h1.0v1.0h-1.0zM181.2,463.4h1.0v1.0h-1.0zM190.3,416.1h1.0v1.0h-1.0zM193.9,415.3h1.0v1.0h-1.0zM139.9,443.4h1.0v1.0h-1.0zM190.3,465.7h1.0v1.0h-1.0zM183.4,462.8h1.0v1.0h-1.0zM154.6,452.0h1.0v1.0h-1.0zM174.1,415.5h1.0v1.0h-1.0zM170.1,458.1h1.0v1.0h-1.0zM153.1,450.9h1.0v1.0h-1.0zM159.1,417.1h1.0v1.0h-1.0zM130.8,435.4h1.0v1.0h-1.0zM179.1,415.1h1.0v1.0h-1.0zM161.5,457.8h1.0v1.0h-1.0zM157.9,452.8h1.0v1.0h-1.0zM168.5,457.8h1.0v1.0h-1.0zM162.4,455.3h1.0v1.0h-1.0zM157.2,421.1h1.0v1.0h-1.0zM152.8,420.6h1.0v1.0h-1.0zM193.6,416.7h1.0v1.0h-1.0zM204.6,427.3h1.0v1.0h-1.0zM203.2,438.6h1.0v1.0h-1.0zM148.1,422.2h1.0v1.0h-1.0zM147.5,445.9h1.0v1.0h-1.0zM142.0,445.8h1.0v1.0h-1.0zM159.0,420.0h1.0v1.0h-1.0zM150.0,447.0h1.0v1.0h-1.0zM140.7,425.6h1.0v1.0h-1.0zM158.9,454.0h1.0v1.0h-1.0zM153.1,421.9h1.0v1.0h-1.0zM169.8,457.3h1.0v1.0h-1.0zM134.8,429.9h1.0v1.0h-1.0zM139.7,443.0h1.0v1.0h-1.0zM204.4,449.8h1.0v1.0h-1.0zM137.5,440.4h1.0v1.0h-1.0zM200.7,420.7h1.0v1.0h-1.0zM184.1,466.5h1.0v1.0h-1.0zM176.0,415.8h1.0v1.0h-1.0zM201.6,423.6h1.0v1.0h-1.0zM142.2,442.4h1.0v1.0h-1.0zM194.7,414.0h1.0v1.0h-1.0zM174.8,416.9h1.0v1.0h-1.0zM200.3,457.3h1.0v1.0h-1.0zM159.4,457.1h1.0v1.0h-1.0zM150.3,448.0h1.0v1.0h-1.0zM176.1,463.2h1.0v1.0h-1.0zM201.2,454.8h1.0v1.0h-1.0zM147.8,422.5h1.0v1.0h-1.0zM150.8,448.5h1.0v1.0h-1.0zM143.4,424.5h1.0v1.0h-1.0zM158.6,455.1h1.0v1.0h-1.0zM134.1,427.4h1.0v1.0h-1.0zM173.5,416.9h1.0v1.0h-1.0zM179.1,461.3h1.0v1.0h-1.0zM150.7,451.5h1.0v1.0h-1.0zM162.2,454.5h1.0v1.0h-1.0zM204.3,442.8h1.0v1.0h-1.0zM202.6,456.4h1.0v1.0h-1.0zM134.1,433.4h1.0v1.0h-1.0zM144.2,443.5h1.0v1.0h-1.0zM199.5,414.8h1.0v1.0h-1.0zM141.3,443.1h1.0v1.0h-1.0zM170.0,458.7h1.0v1.0h-1.0zM165.9,457.8h1.0v1.0h-1.0zM135.7,438.3h1.0v1.0h-1.0zM201.1,461.6h1.0v1.0h-1.0zM185.1,416.0h1.0v1.0h-1.0zM178.6,461.3h1.0v1.0h-1.0zM136.8,426.3h1.0v1.0h-1.0zM168.3,416.2h1.0v1.0h-1.0zM146.9,447.1h1.0v1.0h-1.0zM204.7,434.1h1.0v1.0h-1.0zM131.1,431.3h1.0v1.0h-1.0zM171.1,460.7h1.0v1.0h-1.0zM193.1,416.4h1.0v1.0h-1.0zM205.1,446.4h1.0v1.0h-1.0zM132.2,429.9h1.0v1.0h-1.0zM204.6,441.2h1.0v1.0h-1.0zM205.2,438.6h1.0v1.0h-1.0zM176.7,416.5h1.0v1.0h-1.0zM136.6,440.0h1.0v1.0h-1.0zM170.7,461.1h1.0v1.0h-1.0zM171.8,417.5h1.0v1.0h-1.0zM188.8,413.0h1.0v1.0h-1.0zM175.7,415.3h1.0v1.0h-1.0zM204.9,434.7h1.0v1.0h-1.0zM190.9,465.8h1.0v1.0h-1.0zM166.8,415.2h1.0v1.0h-1.0zM186.1,467.7h1.0v1.0h-1.0zM208.3,441.5h1.0v1.0h-1.0zM194.6,415.8h1.0v1.0h-1.0zM129.9,430.4h1.0v1.0h-1.0zM150.1,418.8h1.0v1.0h-1.0zM201.7,452.6h1.0v1.0h-1.0zM202.6,441.9h1.0v1.0h-1.0zM151.0,422.2h1.0v1.0h-1.0zM159.6,420.4h1.0v1.0h-1.0zM178.2,460.9h1.0v1.0h-1.0zM203.6,455.6h1.0v1.0h-1.0zM203.4,432.2h1.0v1.0h-1.0zM136.8,429.0h1.0v1.0h-1.0zM162.2,453.8h1.0v1.0h-1.0zM185.1,465.8h1.0v1.0h-1.0zM186.8,415.6h1.0v1.0h-1.0zM198.5,417.1h1.0v1.0h-1.0zM204.0,425.7h1.0v1.0h-1.0zM202.4,439.5h1.0v1.0h-1.0zM179.7,415.6h1.0v1.0h-1.0zM184.4,415.1h1.0v1.0h-1.0zM200.3,419.0h1.0v1.0h-1.0zM136.9,427.7h1.0v1.0h-1.0zM201.9,453.9h1.0v1.0h-1.0zM142.2,446.3h1.0v1.0h-1.0zM197.1,413.9h1.0v1.0h-1.0zM170.3,414.9h1.0v1.0h-1.0zM133.4,434.2h1.0v1.0h-1.0zM177.3,461.7h1.0v1.0h-1.0zM183.6,463.6h1.0v1.0h-1.0zM139.7,426.2h1.0v1.0h-1.0zM180.3,461.9h1.0v1.0h-1.0zM200.0,464.2h1.0v1.0h-1.0zM202.4,429.2h1.0v1.0h-1.0zM162.9,454.3h1.0v1.0h-1.0zM140.1,425.9h1.0v1.0h-1.0zM174.2,416.9h1.0v1.0h-1.0zM202.4,443.8h1.0v1.0h-1.0zM194.5,415.7h1.0v1.0h-1.0zM201.9,449.4h1.0v1.0h-1.0zM200.3,458.2h1.0v1.0h-1.0zM184.1,463.5h1.0v1.0h-1.0zM133.8,433.3h1.0v1.0h-1.0zM192.1,416.0h1.0v1.0h-1.0zM178.1,463.1h1.0v1.0h-1.0zM200.3,460.9h1.0v1.0h-1.0zM195.5,465.4h1.0v1.0h-1.0zM140.4,445.3h1.0v1.0h-1.0zM204.6,450.0h1.0v1.0h-1.0zM139.4,426.7h1.0v1.0h-1.0zM166.6,417.8h1.0v1.0h-1.0zM154.1,422.2h1.0v1.0h-1.0zM160.0,453.0h1.0v1.0h-1.0zM201.4,423.4h1.0v1.0h-1.0zM154.2,451.7h1.0v1.0h-1.0zM135.9,439.2h1.0v1.0h-1.0zM203.1,433.7h1.0v1.0h-1.0zM195.5,465.5h1.0v1.0h-1.0zM168.0,417.5h1.0v1.0h-1.0zM203.1,437.6h1.0v1.0h-1.0zM199.9,417.2h1.0v1.0h-1.0zM195.6,464.4h1.0v1.0h-1.0zM205.0,437.4h1.0v1.0h-1.0zM146.1,424.0h1.0v1.0h-1.0zM170.1,417.3h1.0v1.0h-1.0zM141.2,445.7h1.0v1.0h-1.0zM137.0,428.5h1.0v1.0h-1.0zM169.9,416.5h1.0v1.0h-1.0zM176.7,414.6h1.0v1.0h-1.0zM134.0,428.2h1.0v1.0h-1.0zM202.5,444.6h1.0v1.0h-1.0zM137.6,440.4h1.0v1.0h-1.0zM199.4,462.4h1.0v1.0h-1.0zM179.2,463.4h1.0v1.0h-1.0zM187.6,464.5h1.0v1.0h-1.0zM200.6,457.7h1.0v1.0h-1.0zM203.4,436.3h1.0v1.0h-1.0zM137.2,441.1h1.0v1.0h-1.0zM134.7,428.7h1.0v1.0h-1.0zM137.6,428.5h1.0v1.0h-1.0zM192.7,414.4h1.0v1.0h-1.0zM169.8,457.5h1.0v1.0h-1.0zM202.1,420.0h1.0v1.0h-1.0zM198.2,414.1h1.0v1.0h-1.0zM134.0,435.3h1.0v1.0h-1.0zM156.3,453.1h1.0v1.0h-1.0zM203.5,432.0h1.0v1.0h-1.0zM137.9,425.9h1.0v1.0h-1.0zM148.3,449.7h1.0v1.0h-1.0zM163.7,417.4h1.0v1.0h-1.0zM188.7,413.1h1.0v1.0h-1.0zM203.6,444.9h1.0v1.0h-1.0zM137.6,441.5h1.0v1.0h-1.0zM177.1,460.8h1.0v1.0h-1.0zM135.5,429.9h1.0v1.0h-1.0zM165.3,456.9h1.0v1.0h-1.0zM189.4,413.3h1.0v1.0h-1.0zM190.0,414.1h1.0v1.0h-1.0zM147.0,445.5h1.0v1.0h-1.0zM160.4,419.4h1.0v1.0h-1.0zM174.8,415.5h1.0v1.0h-1.0zM170.4,416.4h1.0v1.0h-1.0zM140.3,426.5h1.0v1.0h-1.0zM138.7,424.5h1.0v1.0h-1.0zM142.4,443.6h1.0v1.0h-1.0zM180.4,462.0h1.0v1.0h-1.0zM140.0,426.1h1.0v1.0h-1.0zM167.4,418.2h1.0v1.0h-1.0zM139.5,444.7h1.0v1.0h-1.0zM180.0,411.5h1.0v1.0h-1.0zM133.8,427.7h1.0v1.0h-1.0zM140.2,423.7h1.0v1.0h-1.0zM138.5,427.6h1.0v1.0h-1.0zM180.8,414.8h1.0v1.0h-1.0zM140.7,443.1h1.0v1.0h-1.0zM203.3,447.0h1.0v1.0h-1.0zM156.6,455.1h1.0v1.0h-1.0zM181.5,465.4h1.0v1.0h-1.0zM206.9,425.2h1.0v1.0h-1.0zM202.4,448.9h1.0v1.0h-1.0zM131.5,433.2h1.0v1.0h-1.0zM163.9,418.9h1.0v1.0h-1.0zM198.4,462.0h1.0v1.0h-1.0zM163.0,454.6h1.0v1.0h-1.0zM185.0,464.9h1.0v1.0h-1.0zM165.6,459.0h1.0v1.0h-1.0zM196.8,463.6h1.0v1.0h-1.0zM170.8,416.6h1.0v1.0h-1.0zM182.7,413.7h1.0v1.0h-1.0zM164.3,418.5h1.0v1.0h-1.0zM203.1,429.7h1.0v1.0h-1.0zM202.0,450.9h1.0v1.0h-1.0zM133.7,432.6h1.0v1.0h-1.0zM137.3,440.1h1.0v1.0h-1.0zM163.7,455.3h1.0v1.0h-1.0zM178.8,415.6h1.0v1.0h-1.0zM155.3,450.7h1.0v1.0h-1.0zM178.6,415.0h1.0v1.0h-1.0zM151.8,420.7h1.0v1.0h-1.0zM201.5,453.1h1.0v1.0h-1.0zM152.6,450.9h1.0v1.0h-1.0zM136.3,429.2h1.0v1.0h-1.0zM202.6,422.0h1.0v1.0h-1.0zM174.0,459.1h1.0v1.0h-1.0zM150.7,421.7h1.0v1.0h-1.0zM173.3,414.6h1.0v1.0h-1.0zM147.8,420.6h1.0v1.0h-1.0zM175.6,414.2h1.0v1.0h-1.0zM202.4,457.9h1.0v1.0h-1.0zM198.0,415.8h1.0v1.0h-1.0zM190.7,465.8h1.0v1.0h-1.0zM162.4,419.0h1.0v1.0h-1.0zM203.8,422.7h1.0v1.0h-1.0zM205.3,444.5h1.0v1.0h-1.0zM144.5,423.2h1.0v1.0h-1.0zM137.6,426.9h1.0v1.0h-1.0zM182.6,415.8h1.0v1.0h-1.0zM202.5,427.5h1.0v1.0h-1.0zM185.4,414.2h1.0v1.0h-1.0zM157.3,419.7h1.0v1.0h-1.0zM199.4,463.0h1.0v1.0h-1.0zM155.9,421.4h1.0v1.0h-1.0zM202.2,421.1h1.0v1.0h-1.0zM156.0,450.5h1.0v1.0h-1.0zM174.3,461.9h1.0v1.0h-1.0zM141.1,422.6h1.0v1.0h-1.0zM203.0,426.3h1.0v1.0h-1.0zM201.8,452.6h1.0v1.0h-1.0zM203.7,457.2h1.0v1.0h-1.0zM148.7,446.3h1.0v1.0h-1.0zM161.4,418.1h1.0v1.0h-1.0zM164.2,417.8h1.0v1.0h-1.0zM206.5,454.8h1.0v1.0h-1.0zM202.6,451.9h1.0v1.0h-1.0zM181.1,462.7h1.0v1.0h-1.0zM166.6,456.3h1.0v1.0h-1.0zM202.5,430.5h1.0v1.0h-1.0zM175.8,416.5h1.0v1.0h-1.0zM199.7,461.8h1.0v1.0h-1.0zM158.0,451.7h1.0v1.0h-1.0zM203.5,443.9h1.0v1.0h-1.0zM144.1,451.2h1.0v1.0h-1.0zM135.6,427.5h1.0v1.0h-1.0zM146.2,424.6h1.0v1.0h-1.0zM202.4,444.1h1.0v1.0h-1.0zM203.1,437.1h1.0v1.0h-1.0zM154.3,452.7h1.0v1.0h-1.0zM187.3,464.7h1.0v1.0h-1.0zM175.9,459.8h1.0v1.0h-1.0zM138.4,427.3h1.0v1.0h-1.0zM139.0,426.5h1.0v1.0h-1.0zM185.9,463.8h1.0v1.0h-1.0zM202.7,428.0h1.0v1.0h-1.0zM201.0,457.7h1.0v1.0h-1.0zM171.9,416.0h1.0v1.0h-1.0zM131.2,433.8h1.0v1.0h-1.0zM132.6,440.3h1.0v1.0h-1.0zM200.1,458.0h1.0v1.0h-1.0zM180.2,461.6h1.0v1.0h-1.0zM173.1,417.2h1.0v1.0h-1.0zM205.9,446.6h1.0v1.0h-1.0zM150.2,447.5h1.0v1.0h-1.0zM172.3,417.2h1.0v1.0h-1.0zM171.7,459.5h1.0v1.0h-1.0zM139.5,443.1h1.0v1.0h-1.0zM188.9,465.3h1.0v1.0h-1.0zM169.0,418.0h1.0v1.0h-1.0zM138.4,440.8h1.0v1.0h-1.0zM148.7,423.4h1.0v1.0h-1.0zM147.7,448.4h1.0v1.0h-1.0zM203.1,446.0h1.0v1.0h-1.0zM136.9,439.8h1.0v1.0h-1.0zM203.8,438.9h1.0v1.0h-1.0zM138.6,426.4h1.0v1.0h-1.0zM200.3,462.2h1.0v1.0h-1.0zM133.4,435.1h1.0v1.0h-1.0zM133.3,436.4h1.0v1.0h-1.0zM201.7,420.3h1.0v1.0h-1.0zM158.2,420.5h1.0v1.0h-1.0zM194.4,465.1h1.0v1.0h-1.0zM150.7,423.0h1.0v1.0h-1.0zM178.8,460.9h1.0v1.0h-1.0zM143.1,445.3h1.0v1.0h-1.0zM187.4,466.4h1.0v1.0h-1.0zM165.5,417.6h1.0v1.0h-1.0zM182.6,464.8h1.0v1.0h-1.0zM166.4,456.2h1.0v1.0h-1.0zM204.3,443.6h1.0v1.0h-1.0zM154.0,452.5h1.0v1.0h-1.0zM201.6,452.8h1.0v1.0h-1.0zM202.7,433.5h1.0v1.0h-1.0zM146.9,448.2h1.0v1.0h-1.0zM162.4,419.3h1.0v1.0h-1.0zM175.8,413.9h1.0v1.0h-1.0zM153.9,450.3h1.0v1.0h-1.0zM131.3,436.6h1.0v1.0h-1.0zM181.9,463.2h1.0v1.0h-1.0zM154.1,421.0h1.0v1.0h-1.0zM172.3,458.4h1.0v1.0h-1.0zM186.1,467.2h1.0v1.0h-1.0zM182.4,462.5h1.0v1.0h-1.0zM191.4,465.7h1.0v1.0h-1.0zM198.5,416.9h1.0v1.0h-1.0zM167.0,417.3h1.0v1.0h-1.0zM162.0,419.3h1.0v1.0h-1.0zM202.3,425.4h1.0v1.0h-1.0zM190.5,416.0h1.0v1.0h-1.0zM171.7,417.1h1.0v1.0h-1.0zM191.3,413.5h1.0v1.0h-1.0zM184.8,464.4h1.0v1.0h-1.0zM202.5,425.7h1.0v1.0h-1.0zM145.4,447.5h1.0v1.0h-1.0zM203.4,434.1h1.0v1.0h-1.0zM160.7,454.7h1.0v1.0h-1.0zM169.9,458.1h1.0v1.0h-1.0zM203.2,426.9h1.0v1.0h-1.0zM204.1,441.7h1.0v1.0h-1.0zM176.8,415.8h1.0v1.0h-1.0zM147.4,421.8h1.0v1.0h-1.0zM155.3,419.6h1.0v1.0h-1.0zM145.0,423.0h1.0v1.0h-1.0zM149.2,423.4h1.0v1.0h-1.0zM202.3,444.1h1.0v1.0h-1.0zM146.3,423.8h1.0v1.0h-1.0zM204.8,423.5h1.0v1.0h-1.0zM165.9,459.7h1.0v1.0h-1.0zM192.3,413.2h1.0v1.0h-1.0zM172.7,412.6h1.0v1.0h-1.0zM188.6,415.1h1.0v1.0h-1.0zM176.7,461.1h1.0v1.0h-1.0zM144.5,447.9h1.0v1.0h-1.0zM160.2,453.7h1.0v1.0h-1.0zM182.6,465.6h1.0v1.0h-1.0zM198.4,419.0h1.0v1.0h-1.0zM201.6,463.7h1.0v1.0h-1.0zM160.9,420.0h1.0v1.0h-1.0zM138.0,440.4h1.0v1.0h-1.0zM203.7,450.5h1.0v1.0h-1.0zM168.9,457.5h1.0v1.0h-1.0zM150.3,420.7h1.0v1.0h-1.0zM203.2,436.7h1.0v1.0h-1.0zM172.5,414.9h1.0v1.0h-1.0zM150.8,422.0h1.0v1.0h-1.0zM188.4,466.3h1.0v1.0h-1.0zM181.4,463.1h1.0v1.0h-1.0zM145.2,444.7h1.0v1.0h-1.0zM166.0,456.8h1.0v1.0h-1.0zM177.2,463.1h1.0v1.0h-1.0zM146.0,423.8h1.0v1.0h-1.0zM187.7,466.7h1.0v1.0h-1.0zM202.7,433.6h1.0v1.0h-1.0zM198.0,417.2h1.0v1.0h-1.0zM137.1,441.4h1.0v1.0h-1.0zM136.9,445.3h1.0v1.0h-1.0zM155.8,451.5h1.0v1.0h-1.0zM155.1,449.8h1.0v1.0h-1.0zM192.3,414.7h1.0v1.0h-1.0zM180.6,463.8h1.0v1.0h-1.0zM154.6,449.8h1.0v1.0h-1.0zM192.2,466.1h1.0v1.0h-1.0zM135.9,439.8h1.0v1.0h-1.0zM201.7,458.0h1.0v1.0h-1.0zM195.5,416.3h1.0v1.0h-1.0zM180.6,462.6h1.0v1.0h-1.0zM204.0,431.8h1.0v1.0h-1.0zM179.2,461.3h1.0v1.0h-1.0zM146.4,423.6h1.0v1.0h-1.0zM203.3,447.0h1.0v1.0h-1.0zM175.7,459.8h1.0v1.0h-1.0zM158.1,452.7h1.0v1.0h-1.0zM148.1,446.9h1.0v1.0h-1.0zM184.8,466.0h1.0v1.0h-1.0zM197.4,415.6h1.0v1.0h-1.0zM181.1,416.0h1.0v1.0h-1.0zM205.6,442.7h1.0v1.0h-1.0zM195.6,465.0h1.0v1.0h-1.0zM156.5,450.9h1.0v1.0h-1.0zM146.6,423.0h1.0v1.0h-1.0zM184.8,416.2h1.0v1.0h-1.0zM202.5,433.4h1.0v1.0h-1.0zM133.9,437.1h1.0v1.0h-1.0zM203.6,435.5h1.0v1.0h-1.0zM147.0,447.1h1.0v1.0h-1.0zM146.1,421.4h1.0v1.0h-1.0zM199.6,461.4h1.0v1.0h-1.0zM151.2,422.1h1.0v1.0h-1.0zM184.7,416.2h1.0v1.0h-1.0zM141.8,425.0h1.0v1.0h-1.0zM187.1,464.3h1.0v1.0h-1.0zM198.9,417.2h1.0v1.0h-1.0zM153.3,421.5h1.0v1.0h-1.0zM186.0,464.1h1.0v1.0h-1.0zM141.2,424.8h1.0v1.0h-1.0zM172.1,460.1h1.0v1.0h-1.0zM171.8,414.9h1.0v1.0h-1.0zM181.4,462.2h1.0v1.0h-1.0zM156.1,419.9h1.0v1.0h-1.0zM164.2,417.8h1.0v1.0h-1.0zM158.8,454.4h1.0v1.0h-1.0zM194.3,467.1h1.0v1.0h-1.0zM186.1,465.6h1.0v1.0h-1.0zM162.6,455.2h1.0v1.0h-1.0zM183.2,463.4h1.0v1.0h-1.0zM188.3,467.0h1.0v1.0h-1.0zM138.5,442.8h1.0v1.0h-1.0zM162.2,416.9h1.0v1.0h-1.0zM200.4,459.8h1.0v1.0h-1.0zM203.9,428.1h1.0v1.0h-1.0zM149.3,423.2h1.0v1.0h-1.0zM135.1,439.1h1.0v1.0h-1.0zM181.5,414.6h1.0v1.0h-1.0zM192.4,413.7h1.0v1.0h-1.0zM154.1,420.9h1.0v1.0h-1.0zM145.2,445.5h1.0v1.0h-1.0zM156.2,455.2h1.0v1.0h-1.0zM179.9,465.3h1.0v1.0h-1.0zM172.6,458.6h1.0v1.0h-1.0zM180.9,464.8h1.0v1.0h-1.0zM150.2,447.9h1.0v1.0h-1.0zM157.6,453.8h1.0v1.0h-1.0zM143.6,445.0h1.0v1.0h-1.0zM189.2,415.4h1.0v1.0h-1.0zM196.5,414.8h1.0v1.0h-1.0zM162.5,455.5h1.0v1.0h-1.0zM167.3,418.4h1.0v1.0h-1.0zM200.6,457.1h1.0v1.0h-1.0zM203.9,434.8h1.0v1.0h-1.0zM187.0,412.6h1.0v1.0h-1.0zM139.8,443.3h1.0v1.0h-1.0zM133.4,433.0h1.0v1.0h-1.0zM182.1,415.3h1.0v1.0h-1.0zM149.1,421.2h1.0v1.0h-1.0zM139.0,423.0h1.0v1.0h-1.0zM204.9,424.5h1.0v1.0h-1.0zM202.6,451.8h1.0v1.0h-1.0zM169.1,417.6h1.0v1.0h-1.0zM134.0,432.9h1.0v1.0h-1.0zM147.9,446.0h1.0v1.0h-1.0zM188.3,465.1h1.0v1.0h-1.0zM190.0,416.1h1.0v1.0h-1.0zM186.8,415.4h1.0v1.0h-1.0zM200.2,417.8h1.0v1.0h-1.0zM141.9,419.7h1.0v1.0h-1.0zM163.4,417.4h1.0v1.0h-1.0zM184.0,415.3h1.0v1.0h-1.0zM157.8,419.1h1.0v1.0h-1.0zM156.7,419.7h1.0v1.0h-1.0zM133.2,436.8h1.0v1.0h-1.0zM202.2,448.3h1.0v1.0h-1.0zM137.5,426.1h1.0v1.0h-1.0zM170.2,417.5h1.0v1.0h-1.0zM174.4,415.9h1.0v1.0h-1.0zM152.5,420.9h1.0v1.0h-1.0zM171.8,417.6h1.0v1.0h-1.0zM135.0,436.8h1.0v1.0h-1.0zM202.7,460.9h1.0v1.0h-1.0zM151.1,452.9h1.0v1.0h-1.0zM168.0,418.6h1.0v1.0h-1.0zM183.0,414.4h1.0v1.0h-1.0zM175.6,415.3h1.0v1.0h-1.0zM203.1,432.1h1.0v1.0h-1.0zM137.0,426.1h1.0v1.0h-1.0zM151.0,450.8h1.0v1.0h-1.0zM190.8,415.6h1.0v1.0h-1.0zM158.5,420.6h1.0v1.0h-1.0zM156.1,450.9h1.0v1.0h-1.0zM204.4,443.5h1.0v1.0h-1.0zM134.9,440.5h1.0v1.0h-1.0zM175.2,463.1h1.0v1.0h-1.0zM188.3,416.2h1.0v1.0h-1.0zM160.3,418.4h1.0v1.0h-1.0zM144.2,443.3h1.0v1.0h-1.0zM143.8,443.4h1.0v1.0h-1.0zM186.4,466.5h1.0v1.0h-1.0zM195.7,465.9h1.0v1.0h-1.0zM143.5,444.8h1.0v1.0h-1.0zM160.2,455.4h1.0v1.0h-1.0zM202.6,451.7h1.0v1.0h-1.0zM175.8,416.6h1.0v1.0h-1.0zM140.9,445.8h1.0v1.0h-1.0zM203.2,422.4h1.0v1.0h-1.0zM141.9,425.4h1.0v1.0h-1.0zM195.0,416.8h1.0v1.0h-1.0zM170.2,413.2h1.0v1.0h-1.0zM173.8,460.4h1.0v1.0h-1.0zM155.2,453.0h1.0v1.0h-1.0zM162.6,454.9h1.0v1.0h-1.0zM151.1,421.8h1.0v1.0h-1.0zM203.3,429.8h1.0v1.0h-1.0zM200.6,417.6h1.0v1.0h-1.0zM140.7,446.1h1.0v1.0h-1.0zM200.4,459.5h1.0v1.0h-1.0zM165.8,456.3h1.0v1.0h-1.0zM185.3,464.4h1.0v1.0h-1.0zM146.8,421.0h1.0v1.0h-1.0zM156.0,451.9h1.0v1.0h-1.0zM169.2,416.5h1.0v1.0h-1.0zM134.3,442.2h1.0v1.0h-1.0zM186.5,415.8h1.0v1.0h-1.0zM141.0,442.2h1.0v1.0h-1.0zM202.9,442.0h1.0v1.0h-1.0zM139.0,425.2h1.0v1.0h-1.0zM142.5,425.2h1.0v1.0h-1.0zM157.9,452.3h1.0v1.0h-1.0zM135.1,437.1h1.0v1.0h-1.0zM204.0,428.9h1.0v1.0h-1.0zM188.4,416.1h1.0v1.0h-1.0zM202.2,421.7h1.0v1.0h-1.0zM176.1,460.0h1.0v1.0h-1.0zM187.3,466.1h1.0v1.0h-1.0zM139.7,426.6h1.0v1.0h-1.0zM201.5,460.8h1.0v1.0h-1.0zM175.9,461.5h1.0v1.0h-1.0zM198.9,418.9h1.0v1.0h-1.0zM148.3,421.5h1.0v1.0h-1.0zM203.4,422.3h1.0v1.0h-1.0zM196.4,465.0h1.0v1.0h-1.0zM139.7,426.0h1.0v1.0h-1.0zM161.5,453.4h1.0v1.0h-1.0zM202.8,452.2h1.0v1.0h-1.0zM162.9,418.9h1.0v1.0h-1.0zM177.0,461.1h1.0v1.0h-1.0zM141.8,423.8h1.0v1.0h-1.0zM186.5,416.0h1.0v1.0h-1.0zM180.0,414.8h1.0v1.0h-1.0zM133.2,434.2h1.0v1.0h-1.0zM204.5,447.6h1.0v1.0h-1.0zM203.1,420.9h1.0v1.0h-1.0zM169.6,459.9h1.0v1.0h-1.0zM156.8,420.8h1.0v1.0h-1.0zM176.5,460.2h1.0v1.0h-1.0zM178.0,414.7h1.0v1.0h-1.0zM151.8,421.2h1.0v1.0h-1.0zM198.8,417.1h1.0v1.0h-1.0zM133.7,433.4h1.0v1.0h-1.0zM143.3,425.0h1.0v1.0h-1.0zM202.7,428.1h1.0v1.0h-1.0zM169.4,460.5h1.0v1.0h-1.0zM142.8,444.3h1.0v1.0h-1.0zM147.2,446.0h1.0v1.0h-1.0zM203.6,427.3h1.0v1.0h-1.0zM171.0,457.9h1.0v1.0h-1.0zM136.2,439.2h1.0v1.0h-1.0zM163.1,454.6h1.0v1.0h-1.0zM182.5,463.6h1.0v1.0h-1.0zM147.1,446.6h1.0v1.0h-1.0zM202.6,432.1h1.0v1.0h-1.0zM153.3,420.9h1.0v1.0h-1.0zM179.6,463.6h1.0v1.0h-1.0zM201.7,455.3h1.0v1.0h-1.0zM200.6,457.3h1.0v1.0h-1.0zM151.6,419.4h1.0v1.0h-1.0zM204.7,431.8h1.0v1.0h-1.0zM176.1,462.1h1.0v1.0h-1.0zM202.0,419.9h1.0v1.0h-1.0zM169.0,458.3h1.0v1.0h-1.0zM139.6,442.1h1.0v1.0h-1.0zM199.6,419.2h1.0v1.0h-1.0zM201.8,426.6h1.0v1.0h-1.0zM183.8,415.7h1.0v1.0h-1.0zM203.4,450.1h1.0v1.0h-1.0zM159.2,453.7h1.0v1.0h-1.0zM195.4,414.1h1.0v1.0h-1.0zM150.4,422.6h1.0v1.0h-1.0zM163.2,456.1h1.0v1.0h-1.0zM165.8,418.3h1.0v1.0h-1.0zM136.9,441.9h1.0v1.0h-1.0zM169.4,458.1h1.0v1.0h-1.0zM140.3,443.9h1.0v1.0h-1.0zM198.1,416.2h1.0v1.0h-1.0zM198.9,462.8h1.0v1.0h-1.0zM163.5,454.3h1.0v1.0h-1.0zM143.4,443.4h1.0v1.0h-1.0zM146.3,423.9h1.0v1.0h-1.0zM145.7,444.7h1.0v1.0h-1.0zM134.8,427.8h1.0v1.0h-1.0zM192.9,416.2h1.0v1.0h-1.0zM197.6,416.2h1.0v1.0h-1.0zM171.4,414.8h1.0v1.0h-1.0zM171.5,417.7h1.0v1.0h-1.0zM201.4,420.1h1.0v1.0h-1.0zM148.5,447.8h1.0v1.0h-1.0zM143.4,444.7h1.0v1.0h-1.0zM146.5,444.8h1.0v1.0h-1.0zM167.3,458.9h1.0v1.0h-1.0zM174.8,415.9h1.0v1.0h-1.0zM202.5,427.4h1.0v1.0h-1.0zM187.2,415.3h1.0v1.0h-1.0zM132.2,430.4h1.0v1.0h-1.0zM186.7,415.5h1.0v1.0h-1.0zM173.5,415.5h1.0v1.0h-1.0zM182.6,416.0h1.0v1.0h-1.0zM203.6,427.7h1.0v1.0h-1.0zM165.1,455.7h1.0v1.0h-1.0zM201.7,421.3h1.0v1.0h-1.0zM157.9,454.6h1.0v1.0h-1.0zM202.0,419.6h1.0v1.0h-1.0zM150.1,422.2h1.0v1.0h-1.0zM134.4,435.9h1.0v1.0h-1.0zM182.8,415.7h1.0v1.0h-1.0zM202.7,433.5h1.0v1.0h-1.0zM202.8,444.5h1.0v1.0h-1.0zM171.7,459.0h1.0v1.0h-1.0zM187.7,415.0h1.0v1.0h-1.0zM200.8,457.6h1.0v1.0h-1.0zM140.1,444.0h1.0v1.0h-1.0zM140.4,444.7h1.0v1.0h-1.0zM181.4,415.0h1.0v1.0h-1.0zM199.2,461.3h1.0v1.0h-1.0zM153.7,421.3h1.0v1.0h-1.0zM140.1,442.5h1.0v1.0h-1.0zM139.5,442.0h1.0v1.0h-1.0zM201.2,463.2h1.0v1.0h-1.0zM204.5,445.5h1.0v1.0h-1.0zM188.2,467.3h1.0v1.0h-1.0zM200.1,419.4h1.0v1.0h-1.0zM153.3,449.5h1.0v1.0h-1.0zM204.6,444.1h1.0v1.0h-1.0zM202.7,440.1h1.0v1.0h-1.0zM148.7,447.6h1.0v1.0h-1.0zM203.6,442.4h1.0v1.0h-1.0zM136.3,424.5h1.0v1.0h-1.0zM206.7,447.9h1.0v1.0h-1.0zM190.5,415.3h1.0v1.0h-1.0zM128.3,437.1h1.0v1.0h-1.0zM133.9,434.1h1.0v1.0h-1.0zM162.4,419.2h1.0v1.0h-1.0zM204.7,443.6h1.0v1.0h-1.0zM154.3,449.9h1.0v1.0h-1.0zM166.2,416.3h1.0v1.0h-1.0zM144.8,422.5h1.0v1.0h-1.0zM196.6,414.9h1.0v1.0h-1.0zM145.9,445.5h1.0v1.0h-1.0zM189.0,415.4h1.0v1.0h-1.0zM162.8,419.3h1.0v1.0h-1.0zM134.2,433.3h1.0v1.0h-1.0zM132.8,433.9h1.0v1.0h-1.0zM178.0,414.5h1.0v1.0h-1.0zM189.6,464.8h1.0v1.0h-1.0zM163.5,419.3h1.0v1.0h-1.0zM142.4,446.4h1.0v1.0h-1.0zM153.9,419.6h1.0v1.0h-1.0zM144.7,445.6h1.0v1.0h-1.0zM201.8,425.0h1.0v1.0h-1.0zM143.3,423.3h1.0v1.0h-1.0zM131.2,436.7h1.0v1.0h-1.0zM141.7,445.2h1.0v1.0h-1.0zM147.1,445.4h1.0v1.0h-1.0zM202.5,450.8h1.0v1.0h-1.0zM157.7,421.0h1.0v1.0h-1.0zM170.0,415.8h1.0v1.0h-1.0zM157.8,420.4h1.0v1.0h-1.0zM204.0,423.4h1.0v1.0h-1.0zM202.5,445.9h1.0v1.0h-1.0zM134.0,430.2h1.0v1.0h-1.0zM148.7,422.9h1.0v1.0h-1.0zM177.8,415.8h1.0v1.0h-1.0zM145.7,445.5h1.0v1.0h-1.0zM186.5,416.2h1.0v1.0h-1.0zM135.6,440.4h1.0v1.0h-1.0zM202.5,451.0h1.0v1.0h-1.0zM202.4,446.9h1.0v1.0h-1.0zM199.9,417.1h1.0v1.0h-1.0zM138.9,425.4h1.0v1.0h-1.0zM180.5,464.9h1.0v1.0h-1.0zM168.0,416.2h1.0v1.0h-1.0zM156.2,450.7h1.0v1.0h-1.0zM203.8,432.1h1.0v1.0h-1.0zM148.0,446.6h1.0v1.0h-1.0zM138.0,428.2h1.0v1.0h-1.0zM161.7,416.3h1.0v1.0h-1.0zM141.1,443.5h1.0v1.0h-1.0zM181.1,412.6h1.0v1.0h-1.0zM175.1,460.8h1.0v1.0h-1.0zM170.0,457.7h1.0v1.0h-1.0zM140.2,426.6h1.0v1.0h-1.0zM137.7,442.1h1.0v1.0h-1.0zM203.5,441.2h1.0v1.0h-1.0zM184.8,466.5h1.0v1.0h-1.0zM162.0,415.2h1.0v1.0h-1.0zM146.4,422.4h1.0v1.0h-1.0zM202.8,429.2h1.0v1.0h-1.0zM166.9,457.0h1.0v1.0h-1.0zM161.7,453.6h1.0v1.0h-1.0zM131.4,430.9h1.0v1.0h-1.0zM190.0,413.0h1.0v1.0h-1.0zM201.9,448.5h1.0v1.0h-1.0zM202.8,429.0h1.0v1.0h-1.0zM191.5,416.2h1.0v1.0h-1.0zM203.7,433.2h1.0v1.0h-1.0zM209.1,422.3h1.0v1.0h-1.0zM158.2,420.9h1.0v1.0h-1.0zM203.7,440.3h1.0v1.0h-1.0zM149.5,420.3h1.0v1.0h-1.0zM137.3,428.0h1.0v1.0h-1.0zM183.4,464.8h1.0v1.0h-1.0zM203.3,436.6h1.0v1.0h-1.0zM158.1,420.7h1.0v1.0h-1.0zM203.8,440.7h1.0v1.0h-1.0zM185.1,463.3h1.0v1.0h-1.0zM177.4,460.9h1.0v1.0h-1.0zM154.5,450.5h1.0v1.0h-1.0zM198.1,462.3h1.0v1.0h-1.0zM201.9,455.1h1.0v1.0h-1.0zM202.3,450.5h1.0v1.0h-1.0zM205.9,431.0h1.0v1.0h-1.0zM170.7,416.8h1.0v1.0h-1.0zM203.0,453.3h1.0v1.0h-1.0zM146.4,448.2h1.0v1.0h-1.0zM195.8,465.5h1.0v1.0h-1.0zM146.3,423.4h1.0v1.0h-1.0zM178.9,461.7h1.0v1.0h-1.0zM199.1,418.8h1.0v1.0h-1.0zM188.5,464.9h1.0v1.0h-1.0zM197.2,467.8h1.0v1.0h-1.0zM176.2,415.1h1.0v1.0h-1.0zM201.5,423.7h1.0v1.0h-1.0zM194.4,468.9h1.0v1.0h-1.0zM196.6,465.7h1.0v1.0h-1.0zM154.8,450.2h1.0v1.0h-1.0zM177.1,416.4h1.0v1.0h-1.0zM184.7,412.7h1.0v1.0h-1.0zM153.1,420.4h1.0v1.0h-1.0zM186.8,465.1h1.0v1.0h-1.0zM168.5,458.0h1.0v1.0h-1.0zM132.2,431.4h1.0v1.0h-1.0zM163.5,455.6h1.0v1.0h-1.0zM177.7,462.8h1.0v1.0h-1.0zM149.3,422.5h1.0v1.0h-1.0zM177.0,461.5h1.0v1.0h-1.0zM200.5,421.1h1.0v1.0h-1.0zM142.1,424.1h1.0v1.0h-1.0zM169.5,415.2h1.0v1.0h-1.0zM203.4,417.2h1.0v1.0h-1.0zM204.1,442.7h1.0v1.0h-1.0zM182.3,413.9h1.0v1.0h-1.0zM139.4,442.3h1.0v1.0h-1.0zM171.5,417.6h1.0v1.0h-1.0zM203.6,454.3h1.0v1.0h-1.0zM171.0,416.7h1.0v1.0h-1.0zM143.0,419.0h1.0v1.0h-1.0zM158.1,420.9h1.0v1.0h-1.0zM145.6,444.3h1.0v1.0h-1.0zM200.2,458.2h1.0v1.0h-1.0zM163.5,455.2h1.0v1.0h-1.0zM155.0,454.3h1.0v1.0h-1.0zM205.3,450.6h1.0v1.0h-1.0zM204.8,441.8h1.0v1.0h-1.0zM145.4,424.6h1.0v1.0h-1.0zM162.9,418.0h1.0v1.0h-1.0zM174.5,461.1h1.0v1.0h-1.0zM133.8,429.3h1.0v1.0h-1.0zM144.0,449.1h1.0v1.0h-1.0zM176.2,415.6h1.0v1.0h-1.0zM201.8,425.7h1.0v1.0h-1.0zM179.4,416.0h1.0v1.0h-1.0zM205.0,424.9h1.0v1.0h-1.0zM155.3,454.0h1.0v1.0h-1.0zM144.3,424.6h1.0v1.0h-1.0zM149.5,451.1h1.0v1.0h-1.0zM154.4,416.5h1.0v1.0h-1.0zM135.2,427.6h1.0v1.0h-1.0zM135.5,429.6h1.0v1.0h-1.0zM203.6,439.5h1.0v1.0h-1.0zM161.9,419.6h1.0v1.0h-1.0zM204.4,451.4h1.0v1.0h-1.0zM172.2,461.9h1.0v1.0h-1.0zM167.1,458.4h1.0v1.0h-1.0zM172.2,414.6h1.0v1.0h-1.0zM203.9,437.7h1.0v1.0h-1.0zM201.8,424.4h1.0v1.0h-1.0zM144.1,444.1h1.0v1.0h-1.0zM190.3,415.5h1.0v1.0h-1.0zM161.3,453.7h1.0v1.0h-1.0zM202.9,429.8h1.0v1.0h-1.0zM186.1,465.1h1.0v1.0h-1.0zM194.4,413.7h1.0v1.0h-1.0zM204.1,430.2h1.0v1.0h-1.0zM202.5,437.5h1.0v1.0h-1.0zM164.4,459.5h1.0v1.0h-1.0zM201.5,455.2h1.0v1.0h-1.0zM165.6,418.2h1.0v1.0h-1.0zM143.3,422.9h1.0v1.0h-1.0zM160.5,454.2h1.0v1.0h-1.0zM134.3,430.3h1.0v1.0h-1.0zM152.7,420.8h1.0v1.0h-1.0zM209.9,447.7h1.0v1.0h-1.0zM198.9,418.4h1.0v1.0h-1.0zM203.3,432.7h1.0v1.0h-1.0zM200.9,462.5h1.0v1.0h-1.0zM211.5,437.8h1.0v1.0h-1.0zM220.7,425.0h1.0v1.0h-1.0zM210.5,389.3h1.0v1.0h-1.0zM204.2,445.8h1.0v1.0h-1.0zM206.9,441.7h1.0v1.0h-1.0zM214.6,450.4h1.0v1.0h-1.0zM218.4,439.9h1.0v1.0h-1.0zM216.9,442.3h1.0v1.0h-1.0zM223.2,439.0h1.0v1.0h-1.0zM211.7,452.8h1.0v1.0h-1.0zM223.1,449.4h1.0v1.0h-1.0zM204.3,463.4h1.0v1.0h-1.0zM204.6,423.7h1.0v1.0h-1.0zM212.2,452.7h1.0v1.0h-1.0zM209.1,467.6h1.0v1.0h-1.0zM209.3,451.1h1.0v1.0h-1.0zM209.4,444.3h1.0v1.0h-1.0zM211.8,463.2h1.0v1.0h-1.0zM206.3,446.0h1.0v1.0h-1.0zM216.0,439.8h1.0v1.0h-1.0zM213.3,436.5h1.0v1.0h-1.0zM205.0,459.5h1.0v1.0h-1.0zM228.2,451.8h1.0v1.0h-1.0zM202.9,466.3h1.0v1.0h-1.0zM219.3,434.3h1.0v1.0h-1.0zM207.2,434.7h1.0v1.0h-1.0zM216.3,432.6h1.0v1.0h-1.0zM217.6,444.8h1.0v1.0h-1.0zM220.4,428.2h1.0v1.0h-1.0zM225.0,455.7h1.0v1.0h-1.0zM206.5,445.8h1.0v1.0h-1.0zM236.8,423.3h1.0v1.0h-1.0zM216.7,389.6h1.0v1.0h-1.0zM206.8,409.0h1.0v1.0h-1.0zM202.4,464.4h1.0v1.0h-1.0zM232.6,438.9h1.0v1.0h-1.0zM226.9,442.5h1.0v1.0h-1.0zM213.4,432.8h1.0v1.0h-1.0zM219.8,446.7h1.0v1.0h-1.0zM224.3,407.3h1.0v1.0h-1.0zM214.4,406.0h1.0v1.0h-1.0zM210.1,412.2h1.0v1.0h-1.0zM213.3,441.1h1.0v1.0h-1.0zM220.5,451.9h1.0v1.0h-1.0zM213.8,448.0h1.0v1.0h-1.0zM203.6,437.8h1.0v1.0h-1.0zM219.8,418.2h1.0v1.0h-1.0zM207.5,435.2h1.0v1.0h-1.0zM223.7,439.6h1.0v1.0h-1.0zM215.6,438.7h1.0v1.0h-1.0zM215.5,432.0h1.0v1.0h-1.0zM214.5,427.6h1.0v1.0h-1.0zM222.1,429.9h1.0v1.0h-1.0zM213.2,418.0h1.0v1.0h-1.0zM215.6,437.0h1.0v1.0h-1.0zM196.8,409.1h1.0v1.0h-1.0zM226.6,459.9h1.0v1.0h-1.0zM222.1,438.7h1.0v1.0h-1.0zM209.8,437.2h1.0v1.0h-1.0zM213.0,426.2h1.0v1.0h-1.0zM214.3,426.0h1.0v1.0h-1.0zM221.8,414.5h1.0v1.0h-1.0zM207.3,455.2h1.0v1.0h-1.0zM206.4,436.3h1.0v1.0h-1.0zM208.4,452.1h1.0v1.0h-1.0zM214.7,454.0h1.0v1.0h-1.0zM215.7,431.4h1.0v1.0h-1.0zM210.3,435.9h1.0v1.0h-1.0zM219.8,434.1h1.0v1.0h-1.0zM205.2,457.4h1.0v1.0h-1.0zM212.9,442.2h1.0v1.0h-1.0zM207.9,442.8h1.0v1.0h-1.0zM205.3,452.2h1.0v1.0h-1.0zM223.6,438.7h1.0v1.0h-1.0zM205.3,424.2h1.0v1.0h-1.0zM213.9,461.3h1.0v1.0h-1.0zM205.4,463.8h1.0v1.0h-1.0zM218.4,420.6h1.0v1.0h-1.0zM220.5,454.6h1.0v1.0h-1.0zM222.0,444.7h1.0v1.0h-1.0zM204.9,454.8h1.0v1.0h-1.0zM212.4,419.6h1.0v1.0h-1.0zM228.7,444.1h1.0v1.0h-1.0zM211.8,423.3h1.0v1.0h-1.0zM223.9,434.4h1.0v1.0h-1.0zM226.1,464.1h1.0v1.0h-1.0zM202.3,437.7h1.0v1.0h-1.0zM223.5,401.7h1.0v1.0h-1.0zM219.8,416.2h1.0v1.0h-1.0zM220.8,420.6h1.0v1.0h-1.0zM227.4,457.3h1.0v1.0h-1.0zM217.4,428.1h1.0v1.0h-1.0zM214.2,413.5h1.0v1.0h-1.0zM218.6,459.0h1.0v1.0h-1.0zM210.8,444.3h1.0v1.0h-1.0zM217.7,445.8h1.0v1.0h-1.0zM227.8,464.3h1.0v1.0h-1.0zM209.3,437.9h1.0v1.0h-1.0zM218.0,406.4h1.0v1.0h-1.0zM216.2,420.7h1.0v1.0h-1.0zM214.5,425.7h1.0v1.0h-1.0zM214.5,437.3h1.0v1.0h-1.0zM214.1,453.0h1.0v1.0h-1.0zM209.1,429.8h1.0v1.0h-1.0zM205.2,441.4h1.0v1.0h-1.0zM205.0,431.0h1.0v1.0h-1.0zM230.9,440.6h1.0v1.0h-1.0zM223.5,418.7h1.0v1.0h-1.0zM226.4,449.1h1.0v1.0h-1.0zM213.5,456.5h1.0v1.0h-1.0zM215.8,430.1h1.0v1.0h-1.0zM219.8,457.0h1.0v1.0h-1.0zM218.2,435.1h1.0v1.0h-1.0zM212.9,444.9h1.0v1.0h-1.0zM207.6,426.4h1.0v1.0h-1.0zM201.2,414.5h1.0v1.0h-1.0zM226.4,443.7h1.0v1.0h-1.0zM210.2,435.2h1.0v1.0h-1.0zM212.0,435.7h1.0v1.0h-1.0zM215.8,420.8h1.0v1.0h-1.0zM213.6,420.1h1.0v1.0h-1.0zM217.8,429.3h1.0v1.0h-1.0zM208.4,448.0h1.0v1.0h-1.0zM227.7,428.4h1.0v1.0h-1.0zM207.6,445.0h1.0v1.0h-1.0zM209.5,469.9h1.0v1.0h-1.0zM206.9,441.8h1.0v1.0h-1.0zM213.5,447.4h1.0v1.0h-1.0zM219.5,462.6h1.0v1.0h-1.0zM204.8,431.0h1.0v1.0h-1.0zM215.7,460.0h1.0v1.0h-1.0zM207.8,419.9h1.0v1.0h-1.0zM223.1,444.1h1.0v1.0h-1.0zM203.3,434.3h1.0v1.0h-1.0zM214.1,406.1h1.0v1.0h-1.0zM219.1,416.8h1.0v1.0h-1.0zM202.2,459.2h1.0v1.0h-1.0zM214.2,448.3h1.0v1.0h-1.0zM214.5,462.0h1.0v1.0h-1.0zM206.8,443.3h1.0v1.0h-1.0zM211.5,390.6h1.0v1.0h-1.0zM221.3,444.2h1.0v1.0h-1.0zM215.2,430.3h1.0v1.0h-1.0zM209.9,431.4h1.0v1.0h-1.0zM211.5,432.3h1.0v1.0h-1.0zM216.9,426.9h1.0v1.0h-1.0zM223.5,423.6h1.0v1.0h-1.0zM219.7,461.1h1.0v1.0h-1.0zM219.1,447.5h1.0v1.0h-1.0zM225.9,428.8h1.0v1.0h-1.0zM201.6,456.5h1.0v1.0h-1.0zM219.9,443.2h1.0v1.0h-1.0zM212.8,432.5h1.0v1.0h-1.0zM219.2,420.6h1.0v1.0h-1.0zM201.8,407.3h1.0v1.0h-1.0zM207.8,455.1h1.0v1.0h-1.0zM211.0,434.3h1.0v1.0h-1.0zM219.0,432.9h1.0v1.0h-1.0zM215.7,452.7h1.0v1.0h-1.0zM214.2,449.8h1.0v1.0h-1.0zM214.4,455.7h1.0v1.0h-1.0zM223.1,418.7h1.0v1.0h-1.0zM214.9,442.9h1.0v1.0h-1.0zM212.9,443.6h1.0v1.0h-1.0zM210.4,465.2h1.0v1.0h-1.0zM218.3,440.0h1.0v1.0h-1.0zM210.7,423.8h1.0v1.0h-1.0zM218.3,438.7h1.0v1.0h-1.0zM213.9,432.5h1.0v1.0h-1.0zM222.1,464.4h1.0v1.0h-1.0zM206.7,451.2h1.0v1.0h-1.0zM213.6,445.6h1.0v1.0h-1.0zM215.9,442.9h1.0v1.0h-1.0zM216.4,454.2h1.0v1.0h-1.0zM222.1,431.5h1.0v1.0h-1.0zM216.2,424.2h1.0v1.0h-1.0zM220.3,407.8h1.0v1.0h-1.0zM228.8,460.0h1.0v1.0h-1.0zM219.8,448.4h1.0v1.0h-1.0zM204.5,450.7h1.0v1.0h-1.0zM218.4,468.1h1.0v1.0h-1.0zM210.0,423.1h1.0v1.0h-1.0zM215.4,460.2h1.0v1.0h-1.0zM211.6,425.4h1.0v1.0h-1.0zM223.5,432.1h1.0v1.0h-1.0zM222.7,419.1h1.0v1.0h-1.0zM204.0,441.3h1.0v1.0h-1.0zM215.2,434.8h1.0v1.0h-1.0zM210.6,447.1h1.0v1.0h-1.0zM202.5,429.8h1.0v1.0h-1.0zM218.2,416.0h1.0v1.0h-1.0zM211.9,449.3h1.0v1.0h-1.0zM216.6,461.6h1.0v1.0h-1.0zM232.9,452.2h1.0v1.0h-1.0zM223.7,438.7h1.0v1.0h-1.0zM221.9,446.5h1.0v1.0h-1.0zM209.8,410.8h1.0v1.0h-1.0zM203.5,434.0h1.0v1.0h-1.0zM223.0,459.4h1.0v1.0h-1.0zM210.6,447.4h1.0v1.0h-1.0zM213.4,425.1h1.0v1.0h-1.0zM210.0,454.2h1.0v1.0h-1.0zM213.8,437.4h1.0v1.0h-1.0zM232.3,452.0h1.0v1.0h-1.0zM210.5,415.7h1.0v1.0h-1.0zM210.8,430.6h1.0v1.0h-1.0zM214.6,445.1h1.0v1.0h-1.0zM215.3,444.8h1.0v1.0h-1.0zM203.4,449.0h1.0v1.0h-1.0zM208.3,436.2h1.0v1.0h-1.0zM211.3,447.6h1.0v1.0h-1.0zM206.7,454.3h1.0v1.0h-1.0zM204.9,413.9h1.0v1.0h-1.0zM205.4,434.1h1.0v1.0h-1.0zM209.7,436.2h1.0v1.0h-1.0zM211.9,442.3h1.0v1.0h-1.0zM208.5,417.1h1.0v1.0h-1.0zM215.7,448.7h1.0v1.0h-1.0zM211.8,410.2h1.0v1.0h-1.0zM201.9,426.8h1.0v1.0h-1.0zM210.0,430.8h1.0v1.0h-1.0zM212.7,435.0h1.0v1.0h-1.0zM219.0,429.2h1.0v1.0h-1.0zM218.3,433.8h1.0v1.0h-1.0zM209.1,435.0h1.0v1.0h-1.0zM214.4,408.4h1.0v1.0h-1.0zM218.2,415.9h1.0v1.0h-1.0zM205.8,432.2h1.0v1.0h-1.0zM206.3,448.6h1.0v1.0h-1.0zM211.9,456.6h1.0v1.0h-1.0zM208.4,441.5h1.0v1.0h-1.0zM207.2,442.7h1.0v1.0h-1.0zM215.8,451.2h1.0v1.0h-1.0zM222.0,442.0h1.0v1.0h-1.0zM208.7,421.7h1.0v1.0h-1.0zM210.1,437.9h1.0v1.0h-1.0zM211.3,438.9h1.0v1.0h-1.0zM211.6,415.8h1.0v1.0h-1.0zM205.1,419.2h1.0v1.0h-1.0zM209.1,459.9h1.0v1.0h-1.0zM214.4,401.9h1.0v1.0h-1.0zM213.5,442.5h1.0v1.0h-1.0zM212.8,435.2h1.0v1.0h-1.0zM204.6,463.1h1.0v1.0h-1.0zM208.3,450.0h1.0v1.0h-1.0zM207.0,425.0h1.0v1.0h-1.0zM221.0,461.0h1.0v1.0h-1.0zM224.2,430.2h1.0v1.0h-1.0zM225.4,467.7h1.0v1.0h-1.0zM210.3,438.3h1.0v1.0h-1.0zM210.4,452.8h1.0v1.0h-1.0zM202.3,442.8h1.0v1.0h-1.0zM214.5,424.4h1.0v1.0h-1.0zM209.1,457.7h1.0v1.0h-1.0zM213.4,446.9h1.0v1.0h-1.0zM216.6,454.1h1.0v1.0h-1.0zM210.8,457.8h1.0v1.0h-1.0zM203.8,463.6h1.0v1.0h-1.0zM212.3,457.3h1.0v1.0h-1.0zM212.1,438.3h1.0v1.0h-1.0zM212.9,441.3h1.0v1.0h-1.0zM218.1,446.8h1.0v1.0h-1.0zM211.0,437.8h1.0v1.0h-1.0zM210.6,435.9h1.0v1.0h-1.0zM226.5,471.3h1.0v1.0h-1.0zM221.3,448.1h1.0v1.0h-1.0zM212.0,471.9h1.0v1.0h-1.0zM205.3,426.9h1.0v1.0h-1.0zM209.2,439.2h1.0v1.0h-1.0zM215.8,432.6h1.0v1.0h-1.0zM219.5,433.3h1.0v1.0h-1.0zM231.9,435.0h1.0v1.0h-1.0zM210.9,437.8h1.0v1.0h-1.0zM214.0,432.6h1.0v1.0h-1.0zM210.0,470.3h1.0v1.0h-1.0zM213.5,451.3h1.0v1.0h-1.0zM209.8,427.4h1.0v1.0h-1.0zM204.4,430.8h1.0v1.0h-1.0zM221.0,452.5h1.0v1.0h-1.0zM213.9,449.1h1.0v1.0h-1.0zM223.1,429.7h1.0v1.0h-1.0zM208.9,455.5h1.0v1.0h-1.0zM215.0,415.8h1.0v1.0h-1.0zM218.2,432.0h1.0v1.0h-1.0zM198.1,469.0h1.0v1.0h-1.0zM202.5,396.1h1.0v1.0h-1.0zM218.9,436.5h1.0v1.0h-1.0zM213.8,456.6h1.0v1.0h-1.0zM207.2,426.8h1.0v1.0h-1.0zM204.7,425.0h1.0v1.0h-1.0zM209.2,404.9h1.0v1.0h-1.0zM225.3,417.7h1.0v1.0h-1.0zM208.5,441.1h1.0v1.0h-1.0zM229.1,430.4h1.0v1.0h-1.0zM211.1,439.8h1.0v1.0h-1.0zM207.3,437.5h1.0v1.0h-1.0zM225.5,444.8h1.0v1.0h-1.0zM220.6,412.0h1.0v1.0h-1.0zM224.0,434.8h1.0v1.0h-1.0zM228.5,434.3h1.0v1.0h-1.0zM221.5,434.7h1.0v1.0h-1.0zM222.8,425.0h1.0v1.0h-1.0zM199.6,403.1h1.0v1.0h-1.0zM206.7,450.6h1.0v1.0h-1.0zM216.7,453.7h1.0v1.0h-1.0zM218.9,452.3h1.0v1.0h-1.0zM209.5,467.6h1.0v1.0h-1.0zM222.0,450.0h1.0v1.0h-1.0zM229.2,433.6h1.0v1.0h-1.0zM217.9,448.3h1.0v1.0h-1.0zM219.9,420.3h1.0v1.0h-1.0zM217.3,444.1h1.0v1.0h-1.0zM220.7,438.1h1.0v1.0h-1.0zM215.0,422.2h1.0v1.0h-1.0zM209.4,460.5h1.0v1.0h-1.0zM214.9,458.8h1.0v1.0h-1.0zM214.2,447.8h1.0v1.0h-1.0zM201.3,453.7h1.0v1.0h-1.0zM215.2,467.7h1.0v1.0h-1.0zM213.6,437.8h1.0v1.0h-1.0zM215.0,417.2h1.0v1.0h-1.0zM209.0,424.0h1.0v1.0h-1.0zM217.2,451.8h1.0v1.0h-1.0zM218.3,443.9h1.0v1.0h-1.0zM207.8,415.0h1.0v1.0h-1.0zM215.9,462.3h1.0v1.0h-1.0zM219.5,443.7h1.0v1.0h-1.0zM219.2,467.2h1.0v1.0h-1.0zM206.1,459.1h1.0v1.0h-1.0zM205.2,432.8h1.0v1.0h-1.0zM213.5,441.7h1.0v1.0h-1.0zM205.0,427.7h1.0v1.0h-1.0zM233.0,426.0h1.0v1.0h-1.0zM206.8,435.1h1.0v1.0h-1.0zM206.9,448.6h1.0v1.0h-1.0zM218.3,463.2h1.0v1.0h-1.0zM209.4,425.1h1.0v1.0h-1.0zM211.9,440.9h1.0v1.0h-1.0zM205.2,436.5h1.0v1.0h-1.0zM208.9,459.3h1.0v1.0h-1.0zM205.8,463.5h1.0v1.0h-1.0zM211.6,434.7h1.0v1.0h-1.0zM212.3,424.8h1.0v1.0h-1.0zM204.0,453.3h1.0v1.0h-1.0zM207.1,415.8h1.0v1.0h-1.0zM206.0,420.4h1.0v1.0h-1.0zM213.8,437.3h1.0v1.0h-1.0zM211.5,440.5h1.0v1.0h-1.0zM202.8,435.9h1.0v1.0h-1.0zM217.7,407.1h1.0v1.0h-1.0zM207.1,417.9h1.0v1.0h-1.0zM215.7,449.1h1.0v1.0h-1.0zM205.4,449.6h1.0v1.0h-1.0zM214.9,423.4h1.0v1.0h-1.0zM211.6,445.0h1.0v1.0h-1.0zM213.0,444.0h1.0v1.0h-1.0zM216.5,457.7h1.0v1.0h-1.0zM216.0,428.1h1.0v1.0h-1.0zM213.9,465.2h1.0v1.0h-1.0zM213.8,435.4h1.0v1.0h-1.0zM202.5,464.9h1.0v1.0h-1.0zM212.0,456.2h1.0v1.0h-1.0zM210.1,445.4h1.0v1.0h-1.0zM210.8,457.8h1.0v1.0h-1.0zM224.3,417.2h1.0v1.0h-1.0zM217.8,432.1h1.0v1.0h-1.0zM221.3,451.1h1.0v1.0h-1.0zM210.1,448.7h1.0v1.0h-1.0zM216.1,422.8h1.0v1.0h-1.0zM221.8,425.4h1.0v1.0h-1.0zM216.8,447.8h1.0v1.0h-1.0zM215.4,423.3h1.0v1.0h-1.0zM213.4,444.5h1.0v1.0h-1.0zM205.4,456.1h1.0v1.0h-1.0zM205.6,440.8h1.0v1.0h-1.0zM201.4,395.2h1.0v1.0h-1.0zM215.9,460.4h1.0v1.0h-1.0zM210.6,460.0h1.0v1.0h-1.0zM207.4,464.6h1.0v1.0h-1.0zM215.5,455.1h1.0v1.0h-1.0zM208.2,412.1h1.0v1.0h-1.0zM221.0,464.5h1.0v1.0h-1.0zM227.8,446.4h1.0v1.0h-1.0zM216.3,456.5h1.0v1.0h-1.0zM207.3,437.9h1.0v1.0h-1.0zM228.7,436.6h1.0v1.0h-1.0zM216.4,467.6h1.0v1.0h-1.0zM203.5,445.2h1.0v1.0h-1.0zM221.3,437.2h1.0v1.0h-1.0zM199.6,418.9h1.0v1.0h-1.0zM209.3,448.5h1.0v1.0h-1.0zM210.9,440.8h1.0v1.0h-1.0zM210.0,443.2h1.0v1.0h-1.0zM203.8,457.3h1.0v1.0h-1.0zM231.8,452.8h1.0v1.0h-1.0zM209.7,440.7h1.0v1.0h-1.0zM215.9,444.3h1.0v1.0h-1.0zM213.1,442.1h1.0v1.0h-1.0zM208.5,452.3h1.0v1.0h-1.0zM214.5,443.0h1.0v1.0h-1.0zM220.2,426.1h1.0v1.0h-1.0zM210.1,454.9h1.0v1.0h-1.0zM215.8,455.9h1.0v1.0h-1.0zM210.2,422.5h1.0v1.0h-1.0zM217.5,447.2h1.0v1.0h-1.0zM217.6,403.5h1.0v1.0h-1.0zM207.9,439.8h1.0v1.0h-1.0zM208.3,456.6h1.0v1.0h-1.0zM204.4,428.6h1.0v1.0h-1.0zM217.7,457.8h1.0v1.0h-1.0zM231.2,421.8h1.0v1.0h-1.0zM207.3,424.5h1.0v1.0h-1.0zM207.7,435.1h1.0v1.0h-1.0zM216.8,451.0h1.0v1.0h-1.0zM215.2,451.1h1.0v1.0h-1.0zM208.2,431.5h1.0v1.0h-1.0zM211.6,435.2h1.0v1.0h-1.0zM209.9,441.9h1.0v1.0h-1.0zM217.8,433.8h1.0v1.0h-1.0zM219.2,425.8h1.0v1.0h-1.0zM226.9,421.9h1.0v1.0h-1.0zM220.2,452.5h1.0v1.0h-1.0zM218.2,436.7h1.0v1.0h-1.0zM220.4,451.0h1.0v1.0h-1.0zM205.1,427.6h1.0v1.0h-1.0zM230.1,440.4h1.0v1.0h-1.0zM215.2,446.2h1.0v1.0h-1.0zM224.2,447.1h1.0v1.0h-1.0zM206.6,447.9h1.0v1.0h-1.0zM221.2,448.1h1.0v1.0h-1.0zM216.2,438.0h1.0v1.0h-1.0zM211.5,451.4h1.0v1.0h-1.0zM206.0,432.9h1.0v1.0h-1.0zM227.3,433.9h1.0v1.0h-1.0zM222.7,452.4h1.0v1.0h-1.0zM213.9,461.5h1.0v1.0h-1.0zM214.5,454.2h1.0v1.0h-1.0zM207.2,461.0h1.0v1.0h-1.0zM208.2,451.5h1.0v1.0h-1.0zM211.8,451.8h1.0v1.0h-1.0zM203.7,468.7h1.0v1.0h-1.0zM219.3,466.8h1.0v1.0h-1.0zM217.1,409.4h1.0v1.0h-1.0zM214.3,453.5h1.0v1.0h-1.0zM211.3,404.6h1.0v1.0h-1.0zM212.8,447.0h1.0v1.0h-1.0zM202.9,437.5h1.0v1.0h-1.0zM228.3,418.6h1.0v1.0h-1.0zM217.9,423.1h1.0v1.0h-1.0zM209.9,436.6h1.0v1.0h-1.0zM225.7,414.9h1.0v1.0h-1.0zM221.9,438.4h1.0v1.0h-1.0zM216.6,442.2h1.0v1.0h-1.0zM214.8,437.6h1.0v1.0h-1.0zM219.2,445.3h1.0v1.0h-1.0zM224.7,439.0h1.0v1.0h-1.0zM213.6,420.5h1.0v1.0h-1.0zM211.2,422.7h1.0v1.0h-1.0zM217.6,442.4h1.0v1.0h-1.0zM213.7,442.7h1.0v1.0h-1.0zM209.7,431.6h1.0v1.0h-1.0zM212.9,442.9h1.0v1.0h-1.0zM211.5,409.5h1.0v1.0h-1.0zM215.7,423.2h1.0v1.0h-1.0zM213.8,433.7h1.0v1.0h-1.0zM213.5,439.0h1.0v1.0h-1.0zM211.9,434.6h1.0v1.0h-1.0zM216.6,435.5h1.0v1.0h-1.0zM208.9,419.9h1.0v1.0h-1.0zM220.9,430.3h1.0v1.0h-1.0zM214.6,408.8h1.0v1.0h-1.0zM163.7,392.0h1.0v1.0h-1.0zM182.4,411.5h1.0v1.0h-1.0zM222.5,404.6h1.0v1.0h-1.0zM204.8,410.0h1.0v1.0h-1.0zM224.3,417.1h1.0v1.0h-1.0zM219.4,397.9h1.0v1.0h-1.0zM180.2,396.0h1.0v1.0h-1.0zM188.5,412.1h1.0v1.0h-1.0zM164.2,412.9h1.0v1.0h-1.0zM215.8,407.9h1.0v1.0h-1.0zM206.0,405.9h1.0v1.0h-1.0zM203.0,397.4h1.0v1.0h-1.0zM204.5,409.3h1.0v1.0h-1.0zM200.1,404.1h1.0v1.0h-1.0zM194.6,413.5h1.0v1.0h-1.0zM196.1,417.6h1.0v1.0h-1.0zM216.6,405.6h1.0v1.0h-1.0zM172.7,413.3h1.0v1.0h-1.0zM167.1,411.5h1.0v1.0h-1.0zM190.1,415.6h1.0v1.0h-1.0zM215.5,422.2h1.0v1.0h-1.0zM195.3,415.3h1.0v1.0h-1.0zM185.5,415.7h1.0v1.0h-1.0zM208.3,416.3h1.0v1.0h-1.0zM192.5,406.6h1.0v1.0h-1.0zM148.4,410.0h1.0v1.0h-1.0zM168.0,412.8h1.0v1.0h-1.0zM144.2,419.9h1.0v1.0h-1.0zM199.7,401.3h1.0v1.0h-1.0zM236.4,409.7h1.0v1.0h-1.0zM177.0,396.3h1.0v1.0h-1.0zM190.3,405.8h1.0v1.0h-1.0zM181.7,396.9h1.0v1.0h-1.0zM128.5,419.3h1.0v1.0h-1.0zM173.4,416.0h1.0v1.0h-1.0zM174.3,401.5h1.0v1.0h-1.0zM196.1,412.7h1.0v1.0h-1.0zM171.7,415.9h1.0v1.0h-1.0zM203.0,416.6h1.0v1.0h-1.0zM188.7,411.0h1.0v1.0h-1.0zM170.5,409.3h1.0v1.0h-1.0zM173.5,415.0h1.0v1.0h-1.0zM183.5,412.4h1.0v1.0h-1.0zM208.1,406.2h1.0v1.0h-1.0zM221.3,400.3h1.0v1.0h-1.0zM161.5,418.4h1.0v1.0h-1.0zM215.7,404.3h1.0v1.0h-1.0zM191.3,407.9h1.0v1.0h-1.0zM198.1,416.4h1.0v1.0h-1.0zM211.4,409.6h1.0v1.0h-1.0zM209.0,401.1h1.0v1.0h-1.0zM161.6,416.1h1.0v1.0h-1.0zM179.9,399.5h1.0v1.0h-1.0zM171.5,398.1h1.0v1.0h-1.0zM227.1,401.7h1.0v1.0h-1.0zM226.1,411.0h1.0v1.0h-1.0zM206.8,404.7h1.0v1.0h-1.0zM201.5,399.0h1.0v1.0h-1.0zM228.4,402.4h1.0v1.0h-1.0zM220.8,409.1h1.0v1.0h-1.0zM210.0,412.0h1.0v1.0h-1.0zM187.8,406.2h1.0v1.0h-1.0zM182.7,412.9h1.0v1.0h-1.0zM188.5,414.9h1.0v1.0h-1.0zM219.4,409.2h1.0v1.0h-1.0zM169.7,418.3h1.0v1.0h-1.0zM192.9,405.3h1.0v1.0h-1.0zM226.2,401.6h1.0v1.0h-1.0zM209.8,411.6h1.0v1.0h-1.0zM228.6,402.3h1.0v1.0h-1.0zM199.6,413.0h1.0v1.0h-1.0zM199.9,409.2h1.0v1.0h-1.0zM220.8,406.3h1.0v1.0h-1.0zM204.9,414.6h1.0v1.0h-1.0zM198.1,414.3h1.0v1.0h-1.0zM179.5,386.4h1.0v1.0h-1.0zM158.3,407.5h1.0v1.0h-1.0zM223.3,411.1h1.0v1.0h-1.0zM181.6,413.9h1.0v1.0h-1.0zM174.5,405.7h1.0v1.0h-1.0zM209.7,400.9h1.0v1.0h-1.0zM171.5,411.0h1.0v1.0h-1.0zM161.4,415.4h1.0v1.0h-1.0zM178.4,393.6h1.0v1.0h-1.0zM189.5,398.0h1.0v1.0h-1.0zM196.9,405.3h1.0v1.0h-1.0zM202.1,389.4h1.0v1.0h-1.0zM212.1,405.2h1.0v1.0h-1.0zM188.4,416.6h1.0v1.0h-1.0zM199.0,401.5h1.0v1.0h-1.0zM188.6,411.1h1.0v1.0h-1.0zM177.1,402.9h1.0v1.0h-1.0zM199.8,413.4h1.0v1.0h-1.0zM198.7,415.2h1.0v1.0h-1.0zM231.4,420.4h1.0v1.0h-1.0zM204.1,410.6h1.0v1.0h-1.0zM204.1,413.2h1.0v1.0h-1.0zM185.6,406.2h1.0v1.0h-1.0zM225.4,421.7h1.0v1.0h-1.0zM154.0,405.2h1.0v1.0h-1.0zM176.7,411.3h1.0v1.0h-1.0zM193.7,416.9h1.0v1.0h-1.0zM188.3,403.4h1.0v1.0h-1.0zM156.5,412.3h1.0v1.0h-1.0zM150.6,405.6h1.0v1.0h-1.0zM195.1,408.8h1.0v1.0h-1.0zM223.0,398.0h1.0v1.0h-1.0zM222.7,411.7h1.0v1.0h-1.0zM182.4,397.6h1.0v1.0h-1.0zM201.1,412.9h1.0v1.0h-1.0zM172.3,413.0h1.0v1.0h-1.0zM159.7,416.7h1.0v1.0h-1.0zM217.8,427.8h1.0v1.0h-1.0zM205.8,396.8h1.0v1.0h-1.0zM183.9,400.5h1.0v1.0h-1.0zM183.0,402.0h1.0v1.0h-1.0zM211.1,405.5h1.0v1.0h-1.0zM198.1,417.0h1.0v1.0h-1.0zM183.9,407.3h1.0v1.0h-1.0zM197.3,405.3h1.0v1.0h-1.0zM191.0,401.0h1.0v1.0h-1.0zM182.3,405.0h1.0v1.0h-1.0zM175.6,406.5h1.0v1.0h-1.0zM211.3,409.1h1.0v1.0h-1.0zM181.0,398.5h1.0v1.0h-1.0zM165.6,409.4h1.0v1.0h-1.0zM230.4,414.5h1.0v1.0h-1.0zM218.3,412.8h1.0v1.0h-1.0zM202.6,400.0h1.0v1.0h-1.0zM189.8,416.5h1.0v1.0h-1.0zM195.5,416.4h1.0v1.0h-1.0zM159.8,412.4h1.0v1.0h-1.0zM190.8,400.2h1.0v1.0h-1.0zM197.2,398.2h1.0v1.0h-1.0zM186.9,410.3h1.0v1.0h-1.0zM200.6,401.8h1.0v1.0h-1.0zM174.6,399.3h1.0v1.0h-1.0zM195.1,417.1h1.0v1.0h-1.0zM157.1,417.3h1.0v1.0h-1.0zM190.5,415.1h1.0v1.0h-1.0zM162.3,417.2h1.0v1.0h-1.0zM182.4,400.7h1.0v1.0h-1.0zM178.1,410.9h1.0v1.0h-1.0zM211.0,413.5h1.0v1.0h-1.0zM211.1,413.5h1.0v1.0h-1.0zM206.6,422.6h1.0v1.0h-1.0zM177.8,410.4h1.0v1.0h-1.0zM221.8,406.9h1.0v1.0h-1.0zM161.4,404.3h1.0v1.0h-1.0zM202.3,408.9h1.0v1.0h-1.0zM192.2,396.5h1.0v1.0h-1.0zM207.3,409.5h1.0v1.0h-1.0zM156.9,409.0h1.0v1.0h-1.0zM165.0,405.7h1.0v1.0h-1.0zM172.7,392.1h1.0v1.0h-1.0zM191.1,392.8h1.0v1.0h-1.0zM192.4,415.6h1.0v1.0h-1.0zM190.9,402.3h1.0v1.0h-1.0zM175.2,404.3h1.0v1.0h-1.0zM160.9,412.9h1.0v1.0h-1.0zM181.2,398.4h1.0v1.0h-1.0zM201.8,404.9h1.0v1.0h-1.0zM212.3,408.2h1.0v1.0h-1.0zM179.4,414.6h1.0v1.0h-1.0zM213.5,423.4h1.0v1.0h-1.0zM161.1,417.7h1.0v1.0h-1.0zM207.1,398.4h1.0v1.0h-1.0zM166.9,410.0h1.0v1.0h-1.0zM195.6,408.7h1.0v1.0h-1.0zM169.7,404.9h1.0v1.0h-1.0zM169.4,414.7h1.0v1.0h-1.0zM220.9,406.3h1.0v1.0h-1.0zM203.6,421.2h1.0v1.0h-1.0zM193.6,401.5h1.0v1.0h-1.0zM203.8,412.4h1.0v1.0h-1.0zM191.2,412.0h1.0v1.0h-1.0zM177.7,415.2h1.0v1.0h-1.0zM197.9,403.1h1.0v1.0h-1.0zM168.3,412.1h1.0v1.0h-1.0zM205.9,408.7h1.0v1.0h-1.0zM175.2,406.1h1.0v1.0h-1.0zM184.3,400.8h1.0v1.0h-1.0zM207.3,403.8h1.0v1.0h-1.0zM213.5,400.1h1.0v1.0h-1.0zM176.6,394.3h1.0v1.0h-1.0zM211.5,410.6h1.0v1.0h-1.0zM128.3,405.1h1.0v1.0h-1.0zM219.1,400.0h1.0v1.0h-1.0zM218.1,415.8h1.0v1.0h-1.0zM167.3,403.6h1.0v1.0h-1.0zM215.9,419.7h1.0v1.0h-1.0zM198.1,408.6h1.0v1.0h-1.0zM200.1,412.7h1.0v1.0h-1.0zM140.4,409.0h1.0v1.0h-1.0zM179.7,415.2h1.0v1.0h-1.0zM181.4,406.4h1.0v1.0h-1.0zM181.9,409.9h1.0v1.0h-1.0zM128.5,405.4h1.0v1.0h-1.0zM175.3,406.9h1.0v1.0h-1.0zM188.3,405.5h1.0v1.0h-1.0zM179.5,396.5h1.0v1.0h-1.0zM190.1,403.2h1.0v1.0h-1.0zM196.3,396.1h1.0v1.0h-1.0zM228.4,405.4h1.0v1.0h-1.0zM172.4,415.5h1.0v1.0h-1.0zM226.5,409.5h1.0v1.0h-1.0zM184.9,405.2h1.0v1.0h-1.0zM170.9,401.8h1.0v1.0h-1.0zM158.9,404.5h1.0v1.0h-1.0zM208.7,398.4h1.0v1.0h-1.0zM157.5,399.8h1.0v1.0h-1.0zM209.7,425.6h1.0v1.0h-1.0zM197.6,411.9h1.0v1.0h-1.0zM177.9,402.7h1.0v1.0h-1.0zM175.7,415.4h1.0v1.0h-1.0zM200.5,422.0h1.0v1.0h-1.0zM193.4,404.9h1.0v1.0h-1.0zM206.1,409.1h1.0v1.0h-1.0zM190.0,399.9h1.0v1.0h-1.0zM179.0,397.2h1.0v1.0h-1.0zM201.6,421.0h1.0v1.0h-1.0zM208.3,404.1h1.0v1.0h-1.0zM191.2,397.0h1.0v1.0h-1.0zM168.1,418.5h1.0v1.0h-1.0zM183.0,413.8h1.0v1.0h-1.0zM150.8,421.8h1.0v1.0h-1.0zM220.0,407.3h1.0v1.0h-1.0zM210.9,412.2h1.0v1.0h-1.0zM166.4,416.3h1.0v1.0h-1.0zM187.6,407.5h1.0v1.0h-1.0zM226.6,413.8h1.0v1.0h-1.0zM198.7,408.1h1.0v1.0h-1.0zM168.1,413.6h1.0v1.0h-1.0zM143.4,411.3h1.0v1.0h-1.0zM154.6,394.1h1.0v1.0h-1.0zM215.8,410.7h1.0v1.0h-1.0zM196.9,398.5h1.0v1.0h-1.0zM161.7,403.2h1.0v1.0h-1.0zM205.3,396.7h1.0v1.0h-1.0zM182.1,416.5h1.0v1.0h-1.0zM175.5,407.4h1.0v1.0h-1.0zM178.7,406.9h1.0v1.0h-1.0zM226.2,415.7h1.0v1.0h-1.0zM169.5,408.3h1.0v1.0h-1.0zM181.3,393.3h1.0v1.0h-1.0zM218.9,415.3h1.0v1.0h-1.0zM222.7,407.9h1.0v1.0h-1.0zM168.7,407.1h1.0v1.0h-1.0zM234.9,415.8h1.0v1.0h-1.0zM214.0,404.9h1.0v1.0h-1.0zM157.7,409.3h1.0v1.0h-1.0zM229.3,417.1h1.0v1.0h-1.0zM157.9,414.5h1.0v1.0h-1.0zM204.8,405.1h1.0v1.0h-1.0zM151.3,419.2h1.0v1.0h-1.0zM208.6,425.1h1.0v1.0h-1.0zM199.2,409.5h1.0v1.0h-1.0zM188.2,411.7h1.0v1.0h-1.0zM187.8,413.5h1.0v1.0h-1.0zM184.4,411.1h1.0v1.0h-1.0zM166.7,409.2h1.0v1.0h-1.0zM202.7,407.6h1.0v1.0h-1.0zM190.5,404.8h1.0v1.0h-1.0zM184.7,404.8h1.0v1.0h-1.0zM177.6,413.3h1.0v1.0h-1.0zM183.9,407.6h1.0v1.0h-1.0zM156.9,398.7h1.0v1.0h-1.0zM183.3,410.4h1.0v1.0h-1.0zM218.0,420.9h1.0v1.0h-1.0zM169.3,393.9h1.0v1.0h-1.0zM180.2,403.2h1.0v1.0h-1.0zM190.4,416.2h1.0v1.0h-1.0zM207.4,410.7h1.0v1.0h-1.0zM200.1,410.6h1.0v1.0h-1.0zM190.4,409.0h1.0v1.0h-1.0zM237.2,410.5h1.0v1.0h-1.0zM189.7,401.9h1.0v1.0h-1.0zM170.6,408.9h1.0v1.0h-1.0zM211.0,422.3h1.0v1.0h-1.0zM199.7,418.7h1.0v1.0h-1.0zM161.3,410.0h1.0v1.0h-1.0zM176.4,410.0h1.0v1.0h-1.0zM208.2,405.3h1.0v1.0h-1.0zM158.4,406.1h1.0v1.0h-1.0zM186.0,408.2h1.0v1.0h-1.0zM210.4,420.7h1.0v1.0h-1.0zM184.8,406.6h1.0v1.0h-1.0zM195.9,414.6h1.0v1.0h-1.0zM175.4,413.5h1.0v1.0h-1.0zM176.4,413.3h1.0v1.0h-1.0zM176.6,407.8h1.0v1.0h-1.0zM182.3,415.9h1.0v1.0h-1.0zM203.8,411.4h1.0v1.0h-1.0zM191.7,410.9h1.0v1.0h-1.0zM233.0,406.3h1.0v1.0h-1.0zM202.0,393.0h1.0v1.0h-1.0zM196.1,415.9h1.0v1.0h-1.0zM239.1,416.2h1.0v1.0h-1.0zM187.6,406.1h1.0v1.0h-1.0zM172.4,408.7h1.0v1.0h-1.0zM193.3,412.4h1.0v1.0h-1.0zM166.2,402.4h1.0v1.0h-1.0zM201.3,415.8h1.0v1.0h-1.0zM219.8,415.8h1.0v1.0h-1.0zM203.9,417.0h1.0v1.0h-1.0zM186.8,395.1h1.0v1.0h-1.0zM200.6,414.4h1.0v1.0h-1.0zM215.8,406.7h1.0v1.0h-1.0zM213.7,416.7h1.0v1.0h-1.0zM194.8,409.6h1.0v1.0h-1.0zM200.6,409.8h1.0v1.0h-1.0zM173.1,401.9h1.0v1.0h-1.0zM213.2,398.7h1.0v1.0h-1.0zM198.6,418.6h1.0v1.0h-1.0zM245.6,413.5h1.0v1.0h-1.0zM172.4,399.8h1.0v1.0h-1.0zM193.2,405.6h1.0v1.0h-1.0zM234.1,414.8h1.0v1.0h-1.0zM190.9,408.7h1.0v1.0h-1.0zM198.4,413.3h1.0v1.0h-1.0zM158.4,404.9h1.0v1.0h-1.0zM211.4,404.1h1.0v1.0h-1.0zM209.2,412.7h1.0v1.0h-1.0zM208.1,416.2h1.0v1.0h-1.0zM186.2,410.4h1.0v1.0h-1.0zM198.2,402.6h1.0v1.0h-1.0zM188.7,397.1h1.0v1.0h-1.0zM208.7,426.4h1.0v1.0h-1.0zM189.9,401.3h1.0v1.0h-1.0zM207.3,403.4h1.0v1.0h-1.0zM161.0,404.5h1.0v1.0h-1.0zM127.9,404.3h1.0v1.0h-1.0zM186.9,414.6h1.0v1.0h-1.0zM207.0,412.6h1.0v1.0h-1.0zM184.5,401.2h1.0v1.0h-1.0zM241.5,411.5h1.0v1.0h-1.0zM168.5,400.5h1.0v1.0h-1.0zM182.8,409.0h1.0v1.0h-1.0zM170.0,416.1h1.0v1.0h-1.0zM179.2,408.3h1.0v1.0h-1.0zM179.9,403.0h1.0v1.0h-1.0zM157.9,406.9h1.0v1.0h-1.0zM168.8,408.7h1.0v1.0h-1.0zM234.5,412.8h1.0v1.0h-1.0zM184.4,392.0h1.0v1.0h-1.0zM210.1,395.5h1.0v1.0h-1.0zM162.4,414.0h1.0v1.0h-1.0zM187.6,409.2h1.0v1.0h-1.0zM201.9,410.2h1.0v1.0h-1.0zM186.4,411.7h1.0v1.0h-1.0zM178.9,408.8h1.0v1.0h-1.0zM186.0,406.4h1.0v1.0h-1.0zM190.7,410.9h1.0v1.0h-1.0zM208.3,415.3h1.0v1.0h-1.0zM216.5,412.7h1.0v1.0h-1.0zM161.3,410.1h1.0v1.0h-1.0zM145.1,401.7h1.0v1.0h-1.0zM185.9,411.8h1.0v1.0h-1.0zM190.2,400.8h1.0v1.0h-1.0zM205.7,404.6h1.0v1.0h-1.0zM213.4,411.1h1.0v1.0h-1.0zM175.5,410.9h1.0v1.0h-1.0zM235.1,418.6h1.0v1.0h-1.0zM195.7,416.9h1.0v1.0h-1.0zM151.4,413.8h1.0v1.0h-1.0zM211.1,407.4h1.0v1.0h-1.0zM196.1,409.9h1.0v1.0h-1.0zM196.3,408.0h1.0v1.0h-1.0zM183.4,413.6h1.0v1.0h-1.0zM193.5,404.8h1.0v1.0h-1.0zM186.7,403.3h1.0v1.0h-1.0zM205.1,419.8h1.0v1.0h-1.0zM217.5,403.1h1.0v1.0h-1.0zM223.4,412.9h1.0v1.0h-1.0zM217.4,411.4h1.0v1.0h-1.0zM227.7,403.1h1.0v1.0h-1.0zM195.8,413.6h1.0v1.0h-1.0zM208.8,411.6h1.0v1.0h-1.0zM184.8,416.3h1.0v1.0h-1.0zM159.6,420.7h1.0v1.0h-1.0zM203.3,393.1h1.0v1.0h-1.0zM137.8,403.7h1.0v1.0h-1.0zM186.7,393.6h1.0v1.0h-1.0zM214.6,385.4h1.0v1.0h-1.0zM164.0,384.5h1.0v1.0h-1.0zM155.7,401.3h1.0v1.0h-1.0zM238.0,405.3h1.0v1.0h-1.0zM156.7,401.0h1.0v1.0h-1.0zM197.7,387.5h1.0v1.0h-1.0zM184.6,328.6h1.0v1.0h-1.0zM232.0,364.9h1.0v1.0h-1.0zM202.5,393.5h1.0v1.0h-1.0zM186.6,388.9h1.0v1.0h-1.0zM162.2,405.3h1.0v1.0h-1.0zM224.6,379.7h1.0v1.0h-1.0zM168.6,335.4h1.0v1.0h-1.0zM221.8,388.4h1.0v1.0h-1.0zM209.7,396.1h1.0v1.0h-1.0zM194.2,402.9h1.0v1.0h-1.0zM241.6,398.4h1.0v1.0h-1.0zM204.0,392.4h1.0v1.0h-1.0zM199.0,402.8h1.0v1.0h-1.0zM210.6,397.2h1.0v1.0h-1.0zM152.9,393.6h1.0v1.0h-1.0zM182.0,384.4h1.0v1.0h-1.0zM135.0,374.3h1.0v1.0h-1.0zM149.6,396.1h1.0v1.0h-1.0zM138.7,401.3h1.0v1.0h-1.0zM196.4,390.3h1.0v1.0h-1.0zM169.9,374.5h1.0v1.0h-1.0zM153.5,401.3h1.0v1.0h-1.0zM177.8,402.4h1.0v1.0h-1.0zM236.7,399.5h1.0v1.0h-1.0zM141.0,406.6h1.0v1.0h-1.0zM146.9,400.8h1.0v1.0h-1.0zM228.8,404.4h1.0v1.0h-1.0zM158.3,403.5h1.0v1.0h-1.0zM206.3,386.3h1.0v1.0h-1.0zM144.4,379.8h1.0v1.0h-1.0zM139.0,400.6h1.0v1.0h-1.0zM201.0,395.5h1.0v1.0h-1.0zM214.4,400.3h1.0v1.0h-1.0zM156.6,379.9h1.0v1.0h-1.0zM184.6,393.0h1.0v1.0h-1.0zM152.1,391.8h1.0v1.0h-1.0zM223.6,389.0h1.0v1.0h-1.0zM149.4,396.2h1.0v1.0h-1.0zM195.2,402.6h1.0v1.0h-1.0zM236.2,404.1h1.0v1.0h-1.0zM157.6,402.8h1.0v1.0h-1.0zM213.0,397.3h1.0v1.0h-1.0zM187.8,379.6h1.0v1.0h-1.0zM227.1,398.0h1.0v1.0h-1.0zM227.5,394.6h1.0v1.0h-1.0zM188.4,392.9h1.0v1.0h-1.0zM185.3,385.1h1.0v1.0h-1.0zM217.3,311.1h1.0v1.0h-1.0zM211.3,402.2h1.0v1.0h-1.0zM170.3,392.4h1.0v1.0h-1.0zM236.0,405.4h1.0v1.0h-1.0zM188.9,400.1h1.0v1.0h-1.0zM161.4,405.1h1.0v1.0h-1.0zM177.3,403.9h1.0v1.0h-1.0zM177.9,406.0h1.0v1.0h-1.0zM188.4,395.0h1.0v1.0h-1.0zM171.9,399.5h1.0v1.0h-1.0zM184.1,406.5h1.0v1.0h-1.0zM239.2,381.2h1.0v1.0h-1.0zM241.2,363.8h1.0v1.0h-1.0zM162.4,398.6h1.0v1.0h-1.0zM61.1,438.1h1.0v1.0h-1.0zM70.3,442.4h1.0v1.0h-1.0zM61.6,436.0h1.0v1.0h-1.0zM70.9,439.1h1.0v1.0h-1.0zM66.3,438.6h1.0v1.0h-1.0zM62.5,433.2h1.0v1.0h-1.0zM68.8,432.9h1.0v1.0h-1.0zM66.6,436.5h1.0v1.0h-1.0zM63.2,430.9h1.0v1.0h-1.0zM64.1,436.6h1.0v1.0h-1.0zM68.1,437.2h1.0v1.0h-1.0zM62.0,437.8h1.0v1.0h-1.0zM63.6,437.7h1.0v1.0h-1.0zM72.6,440.0h1.0v1.0h-1.0zM64.0,435.7h1.0v1.0h-1.0zM67.7,440.1h1.0v1.0h-1.0zM68.0,437.9h1.0v1.0h-1.0zM69.7,437.9h1.0v1.0h-1.0zM69.4,436.1h1.0v1.0h-1.0zM58.1,439.1h1.0v1.0h-1.0zM64.9,434.6h1.0v1.0h-1.0zM70.4,438.5h1.0v1.0h-1.0zM63.9,439.5h1.0v1.0h-1.0zM72.5,434.8h1.0v1.0h-1.0zM67.3,434.1h1.0v1.0h-1.0zM62.5,434.6h1.0v1.0h-1.0zM68.4,436.5h1.0v1.0h-1.0zM73.0,437.5h1.0v1.0h-1.0zM64.3,438.9h1.0v1.0h-1.0zM68.4,441.5h1.0v1.0h-1.0zM63.6,440.8h1.0v1.0h-1.0zM64.6,437.3h1.0v1.0h-1.0zM66.9,435.5h1.0v1.0h-1.0zM68.2,433.4h1.0v1.0h-1.0zM67.7,438.7h1.0v1.0h-1.0zM67.2,437.9h1.0v1.0h-1.0zM74.5,435.8h1.0v1.0h-1.0zM62.9,436.1h1.0v1.0h-1.0zM60.3,436.3h1.0v1.0h-1.0zM68.4,429.8h1.0v1.0h-1.0zM67.1,436.4h1.0v1.0h-1.0zM61.7,437.4h1.0v1.0h-1.0zM72.2,436.2h1.0v1.0h-1.0zM64.2,433.8h1.0v1.0h-1.0zM61.8,436.7h1.0v1.0h-1.0zM67.9,437.8h1.0v1.0h-1.0zM68.6,441.3h1.0v1.0h-1.0zM74.3,439.3h1.0v1.0h-1.0zM61.4,438.1h1.0v1.0h-1.0zM62.3,436.4h1.0v1.0h-1.0zM65.6,433.0h1.0v1.0h-1.0zM65.1,435.3h1.0v1.0h-1.0zM66.3,433.0h1.0v1.0h-1.0zM64.2,436.3h1.0v1.0h-1.0zM61.3,439.4h1.0v1.0h-1.0zM65.0,439.3h1.0v1.0h-1.0zM68.9,438.9h1.0v1.0h-1.0zM69.1,436.6h1.0v1.0h-1.0zM64.3,439.2h1.0v1.0h-1.0zM68.3,435.8h1.0v1.0h-1.0zM67.9,431.4h1.0v1.0h-1.0zM64.9,436.9h1.0v1.0h-1.0zM65.4,436.7h1.0v1.0h-1.0zM66.7,432.0h1.0v1.0h-1.0zM75.8,435.2h1.0v1.0h-1.0zM67.1,430.1h1.0v1.0h-1.0zM63.6,435.3h1.0v1.0h-1.0zM66.0,439.7h1.0v1.0h-1.0zM64.7,434.9h1.0v1.0h-1.0zM70.3,440.0h1.0v1.0h-1.0zM59.3,437.2h1.0v1.0h-1.0zM62.9,434.6h1.0v1.0h-1.0zM69.3,431.9h1.0v1.0h-1.0zM67.9,438.5h1.0v1.0h-1.0zM66.6,438.3h1.0v1.0h-1.0zM68.9,432.6h1.0v1.0h-1.0zM62.1,435.4h1.0v1.0h-1.0zM67.7,439.5h1.0v1.0h-1.0zM62.7,434.6h1.0v1.0h-1.0zM62.3,437.6h1.0v1.0h-1.0zM68.2,431.4h1.0v1.0h-1.0zM63.9,434.1h1.0v1.0h-1.0zM65.3,438.5h1.0v1.0h-1.0zM68.6,433.4h1.0v1.0h-1.0zM63.1,432.8h1.0v1.0h-1.0zM64.3,435.6h1.0v1.0h-1.0zM71.5,438.9h1.0v1.0h-1.0zM63.0,427.5h1.0v1.0h-1.0zM73.4,429.6h1.0v1.0h-1.0zM78.1,434.6h1.0v1.0h-1.0zM85.0,439.7h1.0v1.0h-1.0zM71.3,436.7h1.0v1.0h-1.0zM85.6,435.2h1.0v1.0h-1.0zM78.1,432.9h1.0v1.0h-1.0zM72.6,431.1h1.0v1.0h-1.0zM77.8,434.9h1.0v1.0h-1.0zM84.9,435.4h1.0v1.0h-1.0zM84.8,433.9h1.0v1.0h-1.0zM79.5,430.5h1.0v1.0h-1.0zM73.5,425.8h1.0v1.0h-1.0zM80.1,429.3h1.0v1.0h-1.0zM75.7,431.4h1.0v1.0h-1.0zM75.4,427.8h1.0v1.0h-1.0zM76.0,434.6h1.0v1.0h-1.0zM87.0,426.7h1.0v1.0h-1.0zM65.7,431.7h1.0v1.0h-1.0zM73.6,434.7h1.0v1.0h-1.0zM66.4,436.8h1.0v1.0h-1.0zM80.3,434.2h1.0v1.0h-1.0zM82.0,438.6h1.0v1.0h-1.0zM83.8,430.4h1.0v1.0h-1.0zM71.6,429.6h1.0v1.0h-1.0zM74.5,438.1h1.0v1.0h-1.0zM79.6,429.1h1.0v1.0h-1.0zM75.5,432.4h1.0v1.0h-1.0zM76.3,425.2h1.0v1.0h-1.0zM75.6,438.2h1.0v1.0h-1.0zM76.1,436.4h1.0v1.0h-1.0zM73.4,429.7h1.0v1.0h-1.0zM77.3,425.2h1.0v1.0h-1.0zM63.8,434.3h1.0v1.0h-1.0zM71.2,434.4h1.0v1.0h-1.0zM64.8,438.4h1.0v1.0h-1.0zM73.6,441.5h1.0v1.0h-1.0zM69.0,434.2h1.0v1.0h-1.0zM100.6,340.9h1.0v1.0h-1.0zM95.0,364.6h1.0v1.0h-1.0zM83.5,385.5h1.0v1.0h-1.0zM69.0,398.5h1.0v1.0h-1.0zM117.7,409.6h1.0v1.0h-1.0zM101.0,434.6h1.0v1.0h-1.0zM103.0,436.0h1.0v1.0h-1.0zM108.0,432.0h1.0v1.0h-1.0zM123.0,435.0h1.0v1.0h-1.0zM88.0,434.0h1.0v1.0h-1.0zM91.0,437.0h1.0v1.0h-1.0zM85.0,428.0h1.0v1.0h-1.0z" fill="#111"/>
<path d="M345.0,331.2h1.0v1.0h-1.0zM379.8,380.1h1.0v1.0h-1.0zM321.0,431.1h1.0v1.0h-1.0zM329.1,463.4h1.0v1.0h-1.0zM376.0,391.0h1.0v1.0h-1.0zM320.6,415.8h1.0v1.0h-1.0zM327.6,394.8h1.0v1.0h-1.0zM344.5,337.5h1.0v1.0h-1.0zM360.4,336.2h1.0v1.0h-1.0zM326.6,405.0h1.0v1.0h-1.0zM332.0,456.3h1.0v1.0h-1.0zM384.1,359.1h1.0v1.0h-1.0zM382.9,435.9h1.0v1.0h-1.0zM379.2,415.4h1.0v1.0h-1.0zM323.6,420.5h1.0v1.0h-1.0zM358.1,334.7h1.0v1.0h-1.0zM322.0,359.2h1.0v1.0h-1.0zM329.6,378.8h1.0v1.0h-1.0zM323.9,418.1h1.0v1.0h-1.0zM382.3,332.0h1.0v1.0h-1.0zM342.3,332.8h1.0v1.0h-1.0zM348.0,461.1h1.0v1.0h-1.0zM371.1,401.0h1.0v1.0h-1.0zM379.3,458.6h1.0v1.0h-1.0zM383.1,342.3h1.0v1.0h-1.0zM325.4,378.6h1.0v1.0h-1.0zM355.1,467.5h1.0v1.0h-1.0zM370.1,326.8h1.0v1.0h-1.0zM359.4,466.6h1.0v1.0h-1.0zM323.7,437.5h1.0v1.0h-1.0zM379.2,380.1h1.0v1.0h-1.0zM318.4,423.8h1.0v1.0h-1.0zM329.4,330.7h1.0v1.0h-1.0zM329.0,374.3h1.0v1.0h-1.0zM379.2,331.8h1.0v1.0h-1.0zM327.3,386.0h1.0v1.0h-1.0zM322.4,425.2h1.0v1.0h-1.0zM367.6,330.2h1.0v1.0h-1.0zM365.4,458.5h1.0v1.0h-1.0zM355.9,335.9h1.0v1.0h-1.0zM385.7,355.6h1.0v1.0h-1.0zM378.1,379.8h1.0v1.0h-1.0zM364.6,337.1h1.0v1.0h-1.0zM315.8,436.3h1.0v1.0h-1.0zM314.4,424.3h1.0v1.0h-1.0zM319.8,410.0h1.0v1.0h-1.0zM376.4,386.0h1.0v1.0h-1.0zM378.3,410.4h1.0v1.0h-1.0zM377.8,377.9h1.0v1.0h-1.0zM322.6,422.2h1.0v1.0h-1.0zM361.4,458.6h1.0v1.0h-1.0zM386.2,440.4h1.0v1.0h-1.0zM381.3,376.3h1.0v1.0h-1.0zM367.4,457.6h1.0v1.0h-1.0zM382.9,368.2h1.0v1.0h-1.0zM395.5,424.1h1.0v1.0h-1.0zM387.5,434.4h1.0v1.0h-1.0zM328.0,383.3h1.0v1.0h-1.0zM317.9,455.1h1.0v1.0h-1.0zM371.4,464.8h1.0v1.0h-1.0zM351.6,337.6h1.0v1.0h-1.0zM368.4,332.8h1.0v1.0h-1.0zM385.6,364.9h1.0v1.0h-1.0zM364.0,330.8h1.0v1.0h-1.0zM367.4,467.3h1.0v1.0h-1.0zM386.6,360.9h1.0v1.0h-1.0zM325.5,340.9h1.0v1.0h-1.0zM383.1,409.1h1.0v1.0h-1.0zM360.8,463.0h1.0v1.0h-1.0zM375.5,456.2h1.0v1.0h-1.0zM364.5,456.4h1.0v1.0h-1.0zM330.5,348.5h1.0v1.0h-1.0zM330.4,361.1h1.0v1.0h-1.0zM351.8,336.0h1.0v1.0h-1.0zM323.5,427.4h1.0v1.0h-1.0zM377.6,375.1h1.0v1.0h-1.0zM323.0,421.7h1.0v1.0h-1.0zM350.4,332.2h1.0v1.0h-1.0zM383.8,434.9h1.0v1.0h-1.0zM330.4,338.0h1.0v1.0h-1.0zM339.9,468.0h1.0v1.0h-1.0zM383.8,361.2h1.0v1.0h-1.0zM375.4,448.9h1.0v1.0h-1.0zM381.5,416.1h1.0v1.0h-1.0zM361.2,335.7h1.0v1.0h-1.0zM341.9,461.2h1.0v1.0h-1.0zM321.1,433.8h1.0v1.0h-1.0zM311.3,437.5h1.0v1.0h-1.0zM327.4,398.4h1.0v1.0h-1.0zM385.7,342.1h1.0v1.0h-1.0zM380.1,420.0h1.0v1.0h-1.0zM328.1,367.9h1.0v1.0h-1.0zM326.2,450.8h1.0v1.0h-1.0zM384.7,370.7h1.0v1.0h-1.0zM384.7,422.7h1.0v1.0h-1.0zM318.6,403.0h1.0v1.0h-1.0zM332.7,340.6h1.0v1.0h-1.0zM312.9,425.0h1.0v1.0h-1.0zM363.0,464.4h1.0v1.0h-1.0zM380.3,333.9h1.0v1.0h-1.0zM321.9,418.9h1.0v1.0h-1.0zM379.9,451.5h1.0v1.0h-1.0zM381.1,369.0h1.0v1.0h-1.0zM325.5,450.5h1.0v1.0h-1.0zM322.8,434.8h1.0v1.0h-1.0zM386.5,347.1h1.0v1.0h-1.0zM322.4,436.1h1.0v1.0h-1.0zM330.1,389.2h1.0v1.0h-1.0zM389.1,349.3h1.0v1.0h-1.0zM390.7,356.5h1.0v1.0h-1.0zM384.2,371.6h1.0v1.0h-1.0zM382.5,434.6h1.0v1.0h-1.0zM390.4,340.0h1.0v1.0h-1.0zM377.0,418.0h1.0v1.0h-1.0zM315.4,448.7h1.0v1.0h-1.0zM326.0,399.5h1.0v1.0h-1.0zM329.1,460.2h1.0v1.0h-1.0zM381.1,431.0h1.0v1.0h-1.0zM336.9,464.4h1.0v1.0h-1.0zM374.3,404.1h1.0v1.0h-1.0zM381.2,339.5h1.0v1.0h-1.0zM386.2,351.6h1.0v1.0h-1.0zM326.1,449.6h1.0v1.0h-1.0zM367.7,454.0h1.0v1.0h-1.0zM325.3,381.1h1.0v1.0h-1.0zM381.6,375.4h1.0v1.0h-1.0zM331.4,349.9h1.0v1.0h-1.0zM326.2,453.1h1.0v1.0h-1.0zM356.5,467.3h1.0v1.0h-1.0zM341.0,461.8h1.0v1.0h-1.0zM376.9,387.8h1.0v1.0h-1.0zM331.0,458.4h1.0v1.0h-1.0zM328.2,349.3h1.0v1.0h-1.0zM353.7,334.8h1.0v1.0h-1.0zM374.4,405.6h1.0v1.0h-1.0zM385.2,372.8h1.0v1.0h-1.0zM324.2,394.0h1.0v1.0h-1.0zM362.5,335.0h1.0v1.0h-1.0zM332.0,344.2h1.0v1.0h-1.0zM377.1,397.3h1.0v1.0h-1.0zM320.5,430.7h1.0v1.0h-1.0zM379.2,434.3h1.0v1.0h-1.0zM329.0,379.6h1.0v1.0h-1.0zM328.6,389.3h1.0v1.0h-1.0zM391.2,362.8h1.0v1.0h-1.0zM385.4,340.7h1.0v1.0h-1.0zM329.7,382.1h1.0v1.0h-1.0zM375.3,408.3h1.0v1.0h-1.0zM389.1,434.6h1.0v1.0h-1.0zM381.4,449.7h1.0v1.0h-1.0zM342.2,461.3h1.0v1.0h-1.0zM345.6,460.5h1.0v1.0h-1.0zM332.7,344.3h1.0v1.0h-1.0zM380.4,369.0h1.0v1.0h-1.0zM391.5,360.3h1.0v1.0h-1.0zM375.5,445.8h1.0v1.0h-1.0zM320.2,394.9h1.0v1.0h-1.0zM333.2,462.6h1.0v1.0h-1.0zM325.3,407.5h1.0v1.0h-1.0zM341.7,331.5h1.0v1.0h-1.0zM386.4,356.5h1.0v1.0h-1.0zM380.0,382.0h1.0v1.0h-1.0zM374.8,337.8h1.0v1.0h-1.0zM380.0,405.5h1.0v1.0h-1.0zM319.7,333.3h1.0v1.0h-1.0zM322.0,356.8h1.0v1.0h-1.0zM351.3,328.4h1.0v1.0h-1.0zM348.7,337.3h1.0v1.0h-1.0zM320.5,428.8h1.0v1.0h-1.0zM377.8,397.0h1.0v1.0h-1.0zM348.1,463.3h1.0v1.0h-1.0zM349.8,338.2h1.0v1.0h-1.0zM332.1,347.2h1.0v1.0h-1.0zM335.5,334.6h1.0v1.0h-1.0zM389.9,348.4h1.0v1.0h-1.0zM326.5,365.6h1.0v1.0h-1.0zM377.4,385.8h1.0v1.0h-1.0zM323.0,358.2h1.0v1.0h-1.0zM386.5,343.1h1.0v1.0h-1.0zM385.5,378.5h1.0v1.0h-1.0zM360.3,333.5h1.0v1.0h-1.0zM326.0,449.4h1.0v1.0h-1.0zM328.2,407.2h1.0v1.0h-1.0zM373.2,398.1h1.0v1.0h-1.0zM376.5,391.3h1.0v1.0h-1.0zM321.6,404.8h1.0v1.0h-1.0zM324.8,470.1h1.0v1.0h-1.0zM379.6,378.9h1.0v1.0h-1.0zM376.8,406.5h1.0v1.0h-1.0zM386.8,350.6h1.0v1.0h-1.0zM329.6,380.9h1.0v1.0h-1.0zM329.4,336.6h1.0v1.0h-1.0zM325.5,455.6h1.0v1.0h-1.0zM321.3,424.3h1.0v1.0h-1.0zM321.9,440.0h1.0v1.0h-1.0zM390.8,438.7h1.0v1.0h-1.0zM374.2,338.1h1.0v1.0h-1.0zM320.3,416.9h1.0v1.0h-1.0zM334.7,339.4h1.0v1.0h-1.0zM376.3,414.2h1.0v1.0h-1.0zM374.9,338.1h1.0v1.0h-1.0zM336.1,340.9h1.0v1.0h-1.0zM365.1,337.5h1.0v1.0h-1.0zM375.3,401.9h1.0v1.0h-1.0zM341.9,337.7h1.0v1.0h-1.0zM321.8,376.3h1.0v1.0h-1.0zM329.9,385.3h1.0v1.0h-1.0zM334.4,468.2h1.0v1.0h-1.0zM378.0,441.9h1.0v1.0h-1.0zM376.6,408.9h1.0v1.0h-1.0zM323.3,433.7h1.0v1.0h-1.0zM386.1,328.2h1.0v1.0h-1.0zM329.2,377.0h1.0v1.0h-1.0zM382.4,363.8h1.0v1.0h-1.0zM380.1,420.9h1.0v1.0h-1.0zM339.0,337.8h1.0v1.0h-1.0zM324.4,462.3h1.0v1.0h-1.0zM330.5,369.8h1.0v1.0h-1.0zM324.8,456.5h1.0v1.0h-1.0zM315.6,453.5h1.0v1.0h-1.0zM378.0,391.3h1.0v1.0h-1.0zM374.4,323.8h1.0v1.0h-1.0zM347.3,337.3h1.0v1.0h-1.0zM381.2,379.3h1.0v1.0h-1.0zM322.6,434.3h1.0v1.0h-1.0zM379.8,392.9h1.0v1.0h-1.0zM362.6,461.4h1.0v1.0h-1.0zM361.8,459.3h1.0v1.0h-1.0zM388.5,369.8h1.0v1.0h-1.0zM329.3,468.3h1.0v1.0h-1.0zM320.7,401.0h1.0v1.0h-1.0zM370.1,334.8h1.0v1.0h-1.0zM334.6,332.6h1.0v1.0h-1.0zM327.9,377.2h1.0v1.0h-1.0zM329.9,383.9h1.0v1.0h-1.0zM387.3,344.9h1.0v1.0h-1.0zM361.7,459.1h1.0v1.0h-1.0zM383.8,367.5h1.0v1.0h-1.0zM382.1,440.3h1.0v1.0h-1.0zM387.9,352.2h1.0v1.0h-1.0zM326.3,386.8h1.0v1.0h-1.0zM378.8,379.0h1.0v1.0h-1.0zM378.4,439.4h1.0v1.0h-1.0zM385.7,352.8h1.0v1.0h-1.0zM370.6,451.5h1.0v1.0h-1.0zM315.8,419.5h1.0v1.0h-1.0zM386.8,343.0h1.0v1.0h-1.0zM323.0,356.0h1.0v1.0h-1.0zM355.7,336.5h1.0v1.0h-1.0zM325.9,450.9h1.0v1.0h-1.0zM375.0,384.5h1.0v1.0h-1.0zM371.4,450.3h1.0v1.0h-1.0zM326.7,408.8h1.0v1.0h-1.0zM322.9,444.5h1.0v1.0h-1.0zM387.4,437.5h1.0v1.0h-1.0zM373.6,391.5h1.0v1.0h-1.0zM330.9,359.0h1.0v1.0h-1.0zM320.2,380.6h1.0v1.0h-1.0zM320.1,401.4h1.0v1.0h-1.0zM330.7,363.9h1.0v1.0h-1.0zM380.5,433.9h1.0v1.0h-1.0zM383.8,358.9h1.0v1.0h-1.0zM320.9,416.3h1.0v1.0h-1.0zM321.9,434.2h1.0v1.0h-1.0zM345.3,322.2h1.0v1.0h-1.0zM385.9,432.7h1.0v1.0h-1.0zM384.8,455.5h1.0v1.0h-1.0zM355.8,459.7h1.0v1.0h-1.0zM330.5,456.6h1.0v1.0h-1.0zM330.8,378.9h1.0v1.0h-1.0zM335.7,339.5h1.0v1.0h-1.0zM387.3,372.3h1.0v1.0h-1.0zM368.3,457.2h1.0v1.0h-1.0zM381.5,423.4h1.0v1.0h-1.0zM329.2,397.7h1.0v1.0h-1.0zM359.1,326.6h1.0v1.0h-1.0zM359.7,335.0h1.0v1.0h-1.0zM386.0,404.4h1.0v1.0h-1.0zM366.4,456.1h1.0v1.0h-1.0zM322.3,412.9h1.0v1.0h-1.0zM392.7,375.3h1.0v1.0h-1.0zM353.0,326.4h1.0v1.0h-1.0zM326.7,351.1h1.0v1.0h-1.0zM381.2,413.6h1.0v1.0h-1.0zM329.6,364.8h1.0v1.0h-1.0zM374.1,402.2h1.0v1.0h-1.0zM369.8,332.4h1.0v1.0h-1.0zM371.7,402.7h1.0v1.0h-1.0zM383.7,390.5h1.0v1.0h-1.0zM355.0,330.7h1.0v1.0h-1.0zM389.0,443.0h1.0v1.0h-1.0zM379.0,337.0h1.0v1.0h-1.0zM320.8,415.3h1.0v1.0h-1.0zM366.7,454.6h1.0v1.0h-1.0zM373.4,398.5h1.0v1.0h-1.0zM380.8,437.2h1.0v1.0h-1.0zM362.0,337.7h1.0v1.0h-1.0zM378.3,333.9h1.0v1.0h-1.0zM328.2,355.4h1.0v1.0h-1.0zM380.7,439.4h1.0v1.0h-1.0zM328.1,364.6h1.0v1.0h-1.0zM368.8,452.7h1.0v1.0h-1.0zM377.7,334.6h1.0v1.0h-1.0zM372.8,393.8h1.0v1.0h-1.0zM377.6,387.1h1.0v1.0h-1.0zM325.3,447.3h1.0v1.0h-1.0zM382.1,422.7h1.0v1.0h-1.0zM320.6,435.7h1.0v1.0h-1.0zM324.4,412.4h1.0v1.0h-1.0zM337.4,340.9h1.0v1.0h-1.0zM383.7,431.0h1.0v1.0h-1.0zM386.8,433.1h1.0v1.0h-1.0zM376.7,390.6h1.0v1.0h-1.0zM319.5,385.3h1.0v1.0h-1.0zM338.4,339.5h1.0v1.0h-1.0zM377.0,448.1h1.0v1.0h-1.0zM330.3,387.2h1.0v1.0h-1.0zM354.0,462.8h1.0v1.0h-1.0zM383.6,361.5h1.0v1.0h-1.0zM319.0,394.4h1.0v1.0h-1.0zM325.8,374.5h1.0v1.0h-1.0zM326.1,412.5h1.0v1.0h-1.0zM341.5,464.4h1.0v1.0h-1.0zM331.2,379.6h1.0v1.0h-1.0zM328.6,365.4h1.0v1.0h-1.0zM389.8,336.2h1.0v1.0h-1.0zM381.0,331.9h1.0v1.0h-1.0zM344.1,469.6h1.0v1.0h-1.0zM331.1,371.1h1.0v1.0h-1.0zM322.4,428.8h1.0v1.0h-1.0zM389.0,417.4h1.0v1.0h-1.0zM330.3,360.7h1.0v1.0h-1.0zM314.3,423.0h1.0v1.0h-1.0zM356.2,460.7h1.0v1.0h-1.0zM325.4,390.6h1.0v1.0h-1.0zM318.5,458.6h1.0v1.0h-1.0zM323.9,454.9h1.0v1.0h-1.0zM322.9,440.4h1.0v1.0h-1.0zM379.9,427.2h1.0v1.0h-1.0zM349.8,463.6h1.0v1.0h-1.0zM326.8,397.2h1.0v1.0h-1.0zM350.3,460.6h1.0v1.0h-1.0zM351.1,336.1h1.0v1.0h-1.0zM315.9,429.6h1.0v1.0h-1.0zM346.0,337.4h1.0v1.0h-1.0zM384.6,376.8h1.0v1.0h-1.0zM376.0,409.0h1.0v1.0h-1.0zM322.7,426.5h1.0v1.0h-1.0zM330.2,344.9h1.0v1.0h-1.0zM354.9,335.9h1.0v1.0h-1.0zM336.2,339.2h1.0v1.0h-1.0zM379.2,414.0h1.0v1.0h-1.0zM327.6,345.0h1.0v1.0h-1.0zM336.2,460.6h1.0v1.0h-1.0zM318.3,424.3h1.0v1.0h-1.0zM328.7,366.3h1.0v1.0h-1.0zM376.8,416.2h1.0v1.0h-1.0zM366.1,334.8h1.0v1.0h-1.0zM373.8,412.2h1.0v1.0h-1.0zM321.0,416.3h1.0v1.0h-1.0zM319.0,363.0h1.0v1.0h-1.0zM371.9,404.4h1.0v1.0h-1.0zM382.0,428.1h1.0v1.0h-1.0zM384.9,352.7h1.0v1.0h-1.0zM367.9,333.9h1.0v1.0h-1.0zM333.7,338.8h1.0v1.0h-1.0zM371.4,451.7h1.0v1.0h-1.0zM337.2,463.1h1.0v1.0h-1.0zM325.5,407.9h1.0v1.0h-1.0zM380.2,335.7h1.0v1.0h-1.0zM376.1,411.0h1.0v1.0h-1.0zM389.2,371.8h1.0v1.0h-1.0zM390.1,343.4h1.0v1.0h-1.0zM321.6,436.1h1.0v1.0h-1.0zM324.7,455.4h1.0v1.0h-1.0zM373.6,401.6h1.0v1.0h-1.0zM373.2,407.3h1.0v1.0h-1.0zM341.1,462.6h1.0v1.0h-1.0zM352.0,324.4h1.0v1.0h-1.0zM376.9,453.9h1.0v1.0h-1.0zM358.4,461.1h1.0v1.0h-1.0zM372.7,452.8h1.0v1.0h-1.0zM376.9,404.0h1.0v1.0h-1.0zM370.4,458.2h1.0v1.0h-1.0zM377.7,396.1h1.0v1.0h-1.0zM325.6,376.8h1.0v1.0h-1.0zM327.9,396.3h1.0v1.0h-1.0zM350.1,333.1h1.0v1.0h-1.0zM362.5,331.3h1.0v1.0h-1.0zM328.8,399.3h1.0v1.0h-1.0zM321.2,409.8h1.0v1.0h-1.0zM344.3,334.8h1.0v1.0h-1.0zM324.2,439.1h1.0v1.0h-1.0zM331.0,339.9h1.0v1.0h-1.0zM326.0,351.3h1.0v1.0h-1.0zM375.0,393.1h1.0v1.0h-1.0zM323.0,441.0h1.0v1.0h-1.0zM371.7,395.0h1.0v1.0h-1.0zM361.9,459.1h1.0v1.0h-1.0zM316.0,405.8h1.0v1.0h-1.0zM325.2,455.8h1.0v1.0h-1.0zM379.3,373.4h1.0v1.0h-1.0zM322.8,408.3h1.0v1.0h-1.0zM386.9,418.0h1.0v1.0h-1.0zM365.7,336.2h1.0v1.0h-1.0zM387.0,359.8h1.0v1.0h-1.0zM354.1,466.6h1.0v1.0h-1.0zM381.6,367.1h1.0v1.0h-1.0zM336.8,460.2h1.0v1.0h-1.0zM361.5,333.5h1.0v1.0h-1.0zM328.8,358.1h1.0v1.0h-1.0zM392.5,354.6h1.0v1.0h-1.0zM376.3,323.6h1.0v1.0h-1.0zM323.6,431.9h1.0v1.0h-1.0zM385.5,355.2h1.0v1.0h-1.0zM379.0,409.0h1.0v1.0h-1.0zM340.5,336.4h1.0v1.0h-1.0zM327.5,407.7h1.0v1.0h-1.0zM329.5,396.1h1.0v1.0h-1.0zM328.4,392.4h1.0v1.0h-1.0zM378.2,443.6h1.0v1.0h-1.0zM391.5,374.0h1.0v1.0h-1.0zM321.3,430.6h1.0v1.0h-1.0zM380.9,446.7h1.0v1.0h-1.0zM325.1,356.8h1.0v1.0h-1.0zM387.0,365.6h1.0v1.0h-1.0zM380.5,413.2h1.0v1.0h-1.0zM385.5,345.7h1.0v1.0h-1.0zM357.6,326.2h1.0v1.0h-1.0zM374.2,412.5h1.0v1.0h-1.0zM321.3,428.4h1.0v1.0h-1.0zM343.2,336.9h1.0v1.0h-1.0zM328.5,406.8h1.0v1.0h-1.0zM327.6,393.1h1.0v1.0h-1.0zM321.5,398.3h1.0v1.0h-1.0zM357.5,461.7h1.0v1.0h-1.0zM350.9,333.2h1.0v1.0h-1.0zM330.6,346.0h1.0v1.0h-1.0zM369.0,335.6h1.0v1.0h-1.0zM318.6,414.4h1.0v1.0h-1.0zM327.3,455.2h1.0v1.0h-1.0zM376.8,402.2h1.0v1.0h-1.0zM399.4,331.6h1.0v1.0h-1.0zM377.9,397.0h1.0v1.0h-1.0zM356.9,336.8h1.0v1.0h-1.0zM343.5,336.2h1.0v1.0h-1.0zM388.6,366.3h1.0v1.0h-1.0zM368.2,453.7h1.0v1.0h-1.0zM378.7,427.0h1.0v1.0h-1.0zM361.1,467.2h1.0v1.0h-1.0zM372.2,393.9h1.0v1.0h-1.0zM391.5,345.9h1.0v1.0h-1.0zM380.6,376.1h1.0v1.0h-1.0zM382.2,335.6h1.0v1.0h-1.0zM386.6,381.5h1.0v1.0h-1.0zM314.0,411.8h1.0v1.0h-1.0zM319.2,420.3h1.0v1.0h-1.0zM327.6,465.0h1.0v1.0h-1.0zM330.2,378.4h1.0v1.0h-1.0zM348.7,336.1h1.0v1.0h-1.0zM368.5,455.2h1.0v1.0h-1.0zM381.8,370.0h1.0v1.0h-1.0zM339.9,338.8h1.0v1.0h-1.0zM323.6,429.4h1.0v1.0h-1.0zM330.3,457.7h1.0v1.0h-1.0zM328.6,351.2h1.0v1.0h-1.0zM321.4,408.3h1.0v1.0h-1.0zM340.3,331.1h1.0v1.0h-1.0zM385.2,425.2h1.0v1.0h-1.0zM381.3,339.2h1.0v1.0h-1.0zM386.2,368.0h1.0v1.0h-1.0zM327.6,404.4h1.0v1.0h-1.0zM324.9,390.8h1.0v1.0h-1.0zM322.4,440.9h1.0v1.0h-1.0zM352.0,331.8h1.0v1.0h-1.0zM325.9,351.0h1.0v1.0h-1.0zM388.1,348.4h1.0v1.0h-1.0zM328.1,380.2h1.0v1.0h-1.0zM320.3,453.3h1.0v1.0h-1.0zM351.4,463.8h1.0v1.0h-1.0zM342.6,464.2h1.0v1.0h-1.0zM390.8,346.1h1.0v1.0h-1.0zM323.1,350.1h1.0v1.0h-1.0zM384.1,364.1h1.0v1.0h-1.0zM323.7,409.8h1.0v1.0h-1.0zM375.7,450.8h1.0v1.0h-1.0zM344.2,332.5h1.0v1.0h-1.0zM380.3,424.5h1.0v1.0h-1.0zM318.3,414.6h1.0v1.0h-1.0zM327.0,378.5h1.0v1.0h-1.0zM328.3,402.0h1.0v1.0h-1.0zM387.5,356.1h1.0v1.0h-1.0zM384.4,366.0h1.0v1.0h-1.0zM325.1,409.3h1.0v1.0h-1.0zM325.5,377.5h1.0v1.0h-1.0zM327.4,372.9h1.0v1.0h-1.0zM342.1,338.9h1.0v1.0h-1.0zM373.7,456.4h1.0v1.0h-1.0zM379.4,399.1h1.0v1.0h-1.0zM377.8,454.9h1.0v1.0h-1.0zM384.3,409.8h1.0v1.0h-1.0zM369.7,335.1h1.0v1.0h-1.0zM377.1,332.2h1.0v1.0h-1.0zM389.3,344.2h1.0v1.0h-1.0zM378.9,376.9h1.0v1.0h-1.0zM332.1,343.3h1.0v1.0h-1.0zM379.8,374.0h1.0v1.0h-1.0zM338.0,460.7h1.0v1.0h-1.0zM361.8,329.4h1.0v1.0h-1.0zM378.4,334.9h1.0v1.0h-1.0zM320.5,430.2h1.0v1.0h-1.0zM318.5,433.6h1.0v1.0h-1.0zM388.7,359.1h1.0v1.0h-1.0zM377.5,335.1h1.0v1.0h-1.0zM387.7,371.8h1.0v1.0h-1.0zM320.0,427.0h1.0v1.0h-1.0zM325.5,362.4h1.0v1.0h-1.0zM320.9,398.1h1.0v1.0h-1.0zM376.9,387.1h1.0v1.0h-1.0zM335.7,458.5h1.0v1.0h-1.0zM321.0,414.1h1.0v1.0h-1.0zM328.8,373.3h1.0v1.0h-1.0zM324.8,381.0h1.0v1.0h-1.0zM371.1,337.3h1.0v1.0h-1.0zM385.5,346.8h1.0v1.0h-1.0zM370.6,336.9h1.0v1.0h-1.0zM384.8,370.2h1.0v1.0h-1.0zM377.3,421.7h1.0v1.0h-1.0zM375.4,400.4h1.0v1.0h-1.0zM383.9,327.5h1.0v1.0h-1.0zM378.1,408.4h1.0v1.0h-1.0zM322.2,434.9h1.0v1.0h-1.0zM321.0,433.5h1.0v1.0h-1.0zM326.6,350.2h1.0v1.0h-1.0zM382.1,335.2h1.0v1.0h-1.0zM380.9,377.7h1.0v1.0h-1.0zM331.0,351.2h1.0v1.0h-1.0zM332.7,463.7h1.0v1.0h-1.0zM383.7,424.3h1.0v1.0h-1.0zM388.2,366.8h1.0v1.0h-1.0zM326.5,449.4h1.0v1.0h-1.0zM324.3,411.3h1.0v1.0h-1.0zM380.9,332.4h1.0v1.0h-1.0zM386.5,351.8h1.0v1.0h-1.0zM322.9,359.5h1.0v1.0h-1.0zM334.6,460.7h1.0v1.0h-1.0zM376.9,417.6h1.0v1.0h-1.0zM389.0,346.6h1.0v1.0h-1.0zM328.0,453.0h1.0v1.0h-1.0zM331.2,380.2h1.0v1.0h-1.0zM346.0,469.1h1.0v1.0h-1.0zM372.6,404.7h1.0v1.0h-1.0zM364.7,328.3h1.0v1.0h-1.0zM386.6,381.9h1.0v1.0h-1.0zM318.1,423.1h1.0v1.0h-1.0zM324.2,386.9h1.0v1.0h-1.0zM322.5,420.9h1.0v1.0h-1.0zM379.4,335.9h1.0v1.0h-1.0zM380.9,329.2h1.0v1.0h-1.0zM377.3,335.9h1.0v1.0h-1.0zM317.3,417.6h1.0v1.0h-1.0zM330.7,352.9h1.0v1.0h-1.0zM324.2,448.6h1.0v1.0h-1.0zM321.7,444.0h1.0v1.0h-1.0zM332.9,337.8h1.0v1.0h-1.0zM366.8,334.1h1.0v1.0h-1.0zM317.6,422.3h1.0v1.0h-1.0zM382.5,427.5h1.0v1.0h-1.0zM327.5,458.1h1.0v1.0h-1.0zM379.0,373.9h1.0v1.0h-1.0zM369.0,330.9h1.0v1.0h-1.0zM380.1,437.4h1.0v1.0h-1.0zM373.5,410.8h1.0v1.0h-1.0zM352.0,463.0h1.0v1.0h-1.0zM318.0,367.1h1.0v1.0h-1.0zM346.3,328.2h1.0v1.0h-1.0zM355.4,333.8h1.0v1.0h-1.0zM362.4,457.4h1.0v1.0h-1.0zM382.4,374.7h1.0v1.0h-1.0zM372.6,335.0h1.0v1.0h-1.0zM348.2,331.5h1.0v1.0h-1.0zM323.4,417.5h1.0v1.0h-1.0zM384.1,375.5h1.0v1.0h-1.0zM385.5,435.1h1.0v1.0h-1.0zM386.3,354.5h1.0v1.0h-1.0zM374.9,412.3h1.0v1.0h-1.0zM330.2,380.8h1.0v1.0h-1.0zM320.2,422.9h1.0v1.0h-1.0zM399.7,356.8h1.0v1.0h-1.0zM383.6,366.4h1.0v1.0h-1.0zM332.6,343.0h1.0v1.0h-1.0zM374.3,338.2h1.0v1.0h-1.0zM380.8,382.2h1.0v1.0h-1.0zM323.7,413.5h1.0v1.0h-1.0zM318.3,409.4h1.0v1.0h-1.0zM332.3,347.0h1.0v1.0h-1.0zM330.2,379.9h1.0v1.0h-1.0zM324.5,387.7h1.0v1.0h-1.0zM390.8,352.2h1.0v1.0h-1.0zM381.9,372.3h1.0v1.0h-1.0zM353.0,336.6h1.0v1.0h-1.0zM323.3,425.2h1.0v1.0h-1.0zM388.0,343.4h1.0v1.0h-1.0zM322.3,440.3h1.0v1.0h-1.0zM381.0,337.6h1.0v1.0h-1.0zM373.5,404.0h1.0v1.0h-1.0zM326.9,410.2h1.0v1.0h-1.0zM323.9,361.7h1.0v1.0h-1.0zM370.4,336.8h1.0v1.0h-1.0zM328.7,382.4h1.0v1.0h-1.0zM327.7,355.1h1.0v1.0h-1.0zM324.9,379.3h1.0v1.0h-1.0zM379.6,338.6h1.0v1.0h-1.0zM381.2,381.6h1.0v1.0h-1.0zM355.1,460.5h1.0v1.0h-1.0zM365.6,327.5h1.0v1.0h-1.0zM322.8,407.7h1.0v1.0h-1.0zM389.2,384.2h1.0v1.0h-1.0zM375.3,452.6h1.0v1.0h-1.0zM321.2,440.1h1.0v1.0h-1.0zM330.4,389.3h1.0v1.0h-1.0zM329.9,358.9h1.0v1.0h-1.0zM358.0,462.1h1.0v1.0h-1.0zM325.9,449.1h1.0v1.0h-1.0zM330.3,457.4h1.0v1.0h-1.0zM338.3,336.0h1.0v1.0h-1.0zM383.2,380.4h1.0v1.0h-1.0zM326.9,392.2h1.0v1.0h-1.0zM323.8,365.5h1.0v1.0h-1.0zM387.9,352.9h1.0v1.0h-1.0zM387.0,370.2h1.0v1.0h-1.0zM326.8,343.5h1.0v1.0h-1.0zM326.6,463.6h1.0v1.0h-1.0zM368.5,458.9h1.0v1.0h-1.0zM376.7,414.5h1.0v1.0h-1.0zM323.4,407.4h1.0v1.0h-1.0zM355.8,468.3h1.0v1.0h-1.0zM371.5,396.6h1.0v1.0h-1.0zM385.7,438.6h1.0v1.0h-1.0zM343.3,332.1h1.0v1.0h-1.0zM327.6,385.5h1.0v1.0h-1.0zM320.5,347.6h1.0v1.0h-1.0zM385.1,335.3h1.0v1.0h-1.0zM314.9,452.3h1.0v1.0h-1.0zM389.2,432.9h1.0v1.0h-1.0zM326.5,375.1h1.0v1.0h-1.0zM357.9,337.5h1.0v1.0h-1.0zM379.9,444.9h1.0v1.0h-1.0zM329.6,374.6h1.0v1.0h-1.0zM313.4,442.4h1.0v1.0h-1.0zM380.9,411.9h1.0v1.0h-1.0zM321.2,431.6h1.0v1.0h-1.0zM326.9,411.2h1.0v1.0h-1.0zM366.1,463.7h1.0v1.0h-1.0zM317.8,356.4h1.0v1.0h-1.0zM370.8,456.0h1.0v1.0h-1.0zM377.1,414.9h1.0v1.0h-1.0zM323.4,426.8h1.0v1.0h-1.0zM350.0,466.9h1.0v1.0h-1.0zM357.9,332.1h1.0v1.0h-1.0zM330.7,361.1h1.0v1.0h-1.0zM379.6,432.0h1.0v1.0h-1.0zM377.4,443.4h1.0v1.0h-1.0zM326.9,357.9h1.0v1.0h-1.0zM328.4,392.4h1.0v1.0h-1.0zM367.6,454.7h1.0v1.0h-1.0zM331.6,465.4h1.0v1.0h-1.0zM346.9,464.9h1.0v1.0h-1.0zM386.5,350.7h1.0v1.0h-1.0zM380.1,378.3h1.0v1.0h-1.0zM391.4,386.2h1.0v1.0h-1.0zM329.9,394.5h1.0v1.0h-1.0zM371.5,454.6h1.0v1.0h-1.0zM327.0,394.5h1.0v1.0h-1.0zM383.3,365.1h1.0v1.0h-1.0zM324.4,443.5h1.0v1.0h-1.0zM314.8,412.7h1.0v1.0h-1.0zM350.9,461.0h1.0v1.0h-1.0zM341.9,466.5h1.0v1.0h-1.0zM380.6,436.1h1.0v1.0h-1.0zM332.8,458.0h1.0v1.0h-1.0zM346.2,335.9h1.0v1.0h-1.0zM374.2,408.6h1.0v1.0h-1.0zM380.7,330.5h1.0v1.0h-1.0zM326.3,361.3h1.0v1.0h-1.0zM324.8,418.0h1.0v1.0h-1.0zM385.3,450.0h1.0v1.0h-1.0zM377.8,451.7h1.0v1.0h-1.0zM382.8,361.7h1.0v1.0h-1.0zM375.1,388.2h1.0v1.0h-1.0zM320.6,440.3h1.0v1.0h-1.0zM385.3,350.7h1.0v1.0h-1.0zM363.9,457.2h1.0v1.0h-1.0zM379.4,331.5h1.0v1.0h-1.0zM323.7,378.4h1.0v1.0h-1.0zM338.1,333.0h1.0v1.0h-1.0zM390.0,362.8h1.0v1.0h-1.0zM377.9,452.1h1.0v1.0h-1.0zM345.4,466.9h1.0v1.0h-1.0zM377.9,385.4h1.0v1.0h-1.0zM385.6,355.5h1.0v1.0h-1.0zM327.8,370.2h1.0v1.0h-1.0zM321.0,451.8h1.0v1.0h-1.0zM387.6,347.5h1.0v1.0h-1.0zM322.5,440.2h1.0v1.0h-1.0zM385.0,367.7h1.0v1.0h-1.0zM324.6,357.8h1.0v1.0h-1.0zM373.8,458.4h1.0v1.0h-1.0zM385.3,352.3h1.0v1.0h-1.0zM348.8,462.1h1.0v1.0h-1.0zM378.4,387.8h1.0v1.0h-1.0zM382.9,433.2h1.0v1.0h-1.0zM377.4,451.1h1.0v1.0h-1.0zM374.1,403.2h1.0v1.0h-1.0zM331.1,465.1h1.0v1.0h-1.0zM317.6,430.3h1.0v1.0h-1.0zM323.6,387.3h1.0v1.0h-1.0zM359.8,334.2h1.0v1.0h-1.0zM331.9,346.8h1.0v1.0h-1.0zM329.5,455.4h1.0v1.0h-1.0zM352.1,462.0h1.0v1.0h-1.0zM374.0,331.6h1.0v1.0h-1.0zM323.5,383.7h1.0v1.0h-1.0zM325.6,389.1h1.0v1.0h-1.0zM382.0,341.3h1.0v1.0h-1.0zM352.9,331.8h1.0v1.0h-1.0zM327.2,455.0h1.0v1.0h-1.0zM362.5,457.4h1.0v1.0h-1.0zM395.6,365.6h1.0v1.0h-1.0zM326.3,458.0h1.0v1.0h-1.0zM340.6,465.4h1.0v1.0h-1.0zM322.0,445.0h1.0v1.0h-1.0zM330.7,373.7h1.0v1.0h-1.0zM329.6,378.1h1.0v1.0h-1.0zM324.3,396.8h1.0v1.0h-1.0zM372.0,460.0h1.0v1.0h-1.0zM377.7,396.6h1.0v1.0h-1.0zM379.8,385.7h1.0v1.0h-1.0zM343.1,334.4h1.0v1.0h-1.0zM384.4,370.2h1.0v1.0h-1.0zM378.2,392.3h1.0v1.0h-1.0zM376.2,392.8h1.0v1.0h-1.0zM328.4,347.8h1.0v1.0h-1.0zM336.1,335.8h1.0v1.0h-1.0zM376.9,416.6h1.0v1.0h-1.0zM384.0,356.3h1.0v1.0h-1.0zM377.3,421.6h1.0v1.0h-1.0zM383.6,406.5h1.0v1.0h-1.0zM329.3,456.2h1.0v1.0h-1.0zM386.3,359.9h1.0v1.0h-1.0zM347.3,465.2h1.0v1.0h-1.0zM381.2,452.7h1.0v1.0h-1.0zM328.6,396.0h1.0v1.0h-1.0zM323.1,373.9h1.0v1.0h-1.0zM388.2,350.5h1.0v1.0h-1.0zM382.1,406.7h1.0v1.0h-1.0zM328.3,346.2h1.0v1.0h-1.0zM326.8,375.1h1.0v1.0h-1.0zM355.3,334.4h1.0v1.0h-1.0zM317.8,422.3h1.0v1.0h-1.0zM376.3,411.7h1.0v1.0h-1.0zM316.9,424.6h1.0v1.0h-1.0zM327.9,452.4h1.0v1.0h-1.0zM328.0,403.9h1.0v1.0h-1.0zM329.0,377.7h1.0v1.0h-1.0zM399.1,357.9h1.0v1.0h-1.0zM324.0,399.8h1.0v1.0h-1.0zM324.2,387.6h1.0v1.0h-1.0zM372.6,387.7h1.0v1.0h-1.0zM329.3,361.1h1.0v1.0h-1.0zM396.5,347.8h1.0v1.0h-1.0zM377.4,444.4h1.0v1.0h-1.0zM346.1,465.4h1.0v1.0h-1.0zM320.8,422.7h1.0v1.0h-1.0zM326.2,411.9h1.0v1.0h-1.0zM322.6,343.4h1.0v1.0h-1.0zM374.2,388.3h1.0v1.0h-1.0zM345.4,461.9h1.0v1.0h-1.0zM329.2,464.2h1.0v1.0h-1.0zM369.3,334.9h1.0v1.0h-1.0zM375.6,452.1h1.0v1.0h-1.0zM330.8,352.2h1.0v1.0h-1.0zM332.2,462.3h1.0v1.0h-1.0zM388.4,353.4h1.0v1.0h-1.0zM337.9,463.3h1.0v1.0h-1.0zM380.6,332.8h1.0v1.0h-1.0zM373.5,328.7h1.0v1.0h-1.0zM376.4,401.7h1.0v1.0h-1.0zM328.3,386.5h1.0v1.0h-1.0zM347.7,462.2h1.0v1.0h-1.0zM330.0,364.9h1.0v1.0h-1.0zM374.9,330.0h1.0v1.0h-1.0zM328.1,456.1h1.0v1.0h-1.0zM374.6,411.4h1.0v1.0h-1.0zM326.7,399.1h1.0v1.0h-1.0zM376.1,416.1h1.0v1.0h-1.0zM338.2,459.7h1.0v1.0h-1.0zM330.6,360.2h1.0v1.0h-1.0zM386.6,357.9h1.0v1.0h-1.0zM385.1,468.0h1.0v1.0h-1.0zM327.2,399.5h1.0v1.0h-1.0zM357.3,332.0h1.0v1.0h-1.0zM375.5,406.0h1.0v1.0h-1.0zM376.6,332.8h1.0v1.0h-1.0zM325.4,377.8h1.0v1.0h-1.0zM325.0,410.4h1.0v1.0h-1.0zM315.9,455.7h1.0v1.0h-1.0zM378.8,421.2h1.0v1.0h-1.0zM379.4,417.1h1.0v1.0h-1.0zM320.2,436.2h1.0v1.0h-1.0zM326.9,385.1h1.0v1.0h-1.0zM374.4,447.6h1.0v1.0h-1.0zM335.3,336.3h1.0v1.0h-1.0zM379.9,431.8h1.0v1.0h-1.0zM334.7,458.7h1.0v1.0h-1.0zM359.9,461.9h1.0v1.0h-1.0zM329.5,388.2h1.0v1.0h-1.0zM356.5,337.3h1.0v1.0h-1.0zM344.1,330.0h1.0v1.0h-1.0zM368.9,332.2h1.0v1.0h-1.0zM373.5,330.5h1.0v1.0h-1.0zM339.7,330.7h1.0v1.0h-1.0zM329.8,318.1h1.0v1.0h-1.0zM343.6,337.2h1.0v1.0h-1.0zM340.8,328.8h1.0v1.0h-1.0zM389.3,334.1h1.0v1.0h-1.0zM377.2,324.2h1.0v1.0h-1.0zM322.1,334.8h1.0v1.0h-1.0zM365.3,328.7h1.0v1.0h-1.0zM344.8,337.1h1.0v1.0h-1.0zM314.3,342.0h1.0v1.0h-1.0zM354.8,326.0h1.0v1.0h-1.0zM335.8,323.8h1.0v1.0h-1.0zM336.4,333.7h1.0v1.0h-1.0zM379.9,321.0h1.0v1.0h-1.0zM352.4,324.1h1.0v1.0h-1.0zM333.7,339.5h1.0v1.0h-1.0zM316.5,344.4h1.0v1.0h-1.0zM394.7,332.9h1.0v1.0h-1.0zM333.3,325.4h1.0v1.0h-1.0zM355.3,325.3h1.0v1.0h-1.0zM367.6,329.5h1.0v1.0h-1.0zM322.1,329.8h1.0v1.0h-1.0zM351.6,336.9h1.0v1.0h-1.0zM319.1,327.7h1.0v1.0h-1.0zM343.7,334.5h1.0v1.0h-1.0zM391.2,340.3h1.0v1.0h-1.0zM337.3,340.3h1.0v1.0h-1.0zM326.7,331.4h1.0v1.0h-1.0zM409.9,323.2h1.0v1.0h-1.0zM341.6,334.8h1.0v1.0h-1.0zM357.4,335.0h1.0v1.0h-1.0zM346.4,335.4h1.0v1.0h-1.0zM336.9,331.3h1.0v1.0h-1.0zM370.9,336.4h1.0v1.0h-1.0zM344.5,327.4h1.0v1.0h-1.0zM330.5,338.7h1.0v1.0h-1.0zM342.8,334.5h1.0v1.0h-1.0zM350.9,334.0h1.0v1.0h-1.0zM351.7,337.6h1.0v1.0h-1.0zM332.3,337.1h1.0v1.0h-1.0zM338.4,337.2h1.0v1.0h-1.0zM390.8,335.0h1.0v1.0h-1.0zM343.4,332.0h1.0v1.0h-1.0zM339.5,326.4h1.0v1.0h-1.0zM335.6,328.5h1.0v1.0h-1.0zM337.0,327.9h1.0v1.0h-1.0zM365.9,324.3h1.0v1.0h-1.0zM373.8,327.4h1.0v1.0h-1.0zM369.9,327.8h1.0v1.0h-1.0zM336.7,341.8h1.0v1.0h-1.0zM341.3,330.0h1.0v1.0h-1.0zM324.5,329.4h1.0v1.0h-1.0zM353.4,327.7h1.0v1.0h-1.0zM364.3,333.5h1.0v1.0h-1.0zM352.3,333.5h1.0v1.0h-1.0zM332.5,337.1h1.0v1.0h-1.0zM355.8,329.4h1.0v1.0h-1.0zM349.7,326.3h1.0v1.0h-1.0zM357.5,333.2h1.0v1.0h-1.0zM344.0,338.9h1.0v1.0h-1.0zM333.1,327.6h1.0v1.0h-1.0zM330.8,330.6h1.0v1.0h-1.0zM352.2,330.1h1.0v1.0h-1.0zM351.2,325.1h1.0v1.0h-1.0zM328.4,334.8h1.0v1.0h-1.0zM379.3,331.5h1.0v1.0h-1.0zM372.8,335.4h1.0v1.0h-1.0zM383.0,338.8h1.0v1.0h-1.0zM345.9,330.6h1.0v1.0h-1.0zM343.1,326.7h1.0v1.0h-1.0zM355.1,329.0h1.0v1.0h-1.0zM379.2,334.2h1.0v1.0h-1.0zM329.0,338.4h1.0v1.0h-1.0zM345.1,331.5h1.0v1.0h-1.0zM343.3,330.7h1.0v1.0h-1.0zM367.2,329.8h1.0v1.0h-1.0zM362.7,333.6h1.0v1.0h-1.0zM396.7,332.9h1.0v1.0h-1.0zM362.7,332.2h1.0v1.0h-1.0zM340.2,334.0h1.0v1.0h-1.0zM333.4,339.5h1.0v1.0h-1.0zM354.2,329.6h1.0v1.0h-1.0zM382.5,323.0h1.0v1.0h-1.0zM323.3,336.2h1.0v1.0h-1.0zM329.3,345.1h1.0v1.0h-1.0zM341.9,326.4h1.0v1.0h-1.0zM367.1,336.4h1.0v1.0h-1.0zM339.4,340.5h1.0v1.0h-1.0zM376.8,316.8h1.0v1.0h-1.0zM322.5,337.2h1.0v1.0h-1.0zM313.6,329.0h1.0v1.0h-1.0zM318.5,328.1h1.0v1.0h-1.0zM342.9,323.3h1.0v1.0h-1.0zM351.2,325.9h1.0v1.0h-1.0zM359.8,331.4h1.0v1.0h-1.0zM312.6,337.7h1.0v1.0h-1.0zM335.4,341.2h1.0v1.0h-1.0zM357.6,331.3h1.0v1.0h-1.0zM323.6,328.6h1.0v1.0h-1.0zM340.0,336.5h1.0v1.0h-1.0zM358.8,331.6h1.0v1.0h-1.0zM330.9,338.3h1.0v1.0h-1.0zM314.7,329.2h1.0v1.0h-1.0zM342.9,325.7h1.0v1.0h-1.0zM365.8,330.4h1.0v1.0h-1.0zM322.8,348.0h1.0v1.0h-1.0zM322.8,348.2h1.0v1.0h-1.0zM317.4,354.3h1.0v1.0h-1.0zM328.1,337.2h1.0v1.0h-1.0zM326.9,333.1h1.0v1.0h-1.0zM324.1,356.0h1.0v1.0h-1.0zM326.7,349.0h1.0v1.0h-1.0zM321.4,341.9h1.0v1.0h-1.0zM328.7,339.9h1.0v1.0h-1.0zM320.9,332.6h1.0v1.0h-1.0zM318.4,343.4h1.0v1.0h-1.0zM322.9,330.4h1.0v1.0h-1.0zM322.8,347.2h1.0v1.0h-1.0zM325.6,348.4h1.0v1.0h-1.0zM327.3,339.8h1.0v1.0h-1.0zM317.1,352.6h1.0v1.0h-1.0zM315.7,347.5h1.0v1.0h-1.0zM325.3,339.0h1.0v1.0h-1.0zM330.5,339.8h1.0v1.0h-1.0zM329.1,337.2h1.0v1.0h-1.0zM323.4,328.0h1.0v1.0h-1.0zM322.7,345.6h1.0v1.0h-1.0zM322.5,352.1h1.0v1.0h-1.0zM332.9,331.8h1.0v1.0h-1.0zM322.9,348.7h1.0v1.0h-1.0zM325.6,343.2h1.0v1.0h-1.0zM317.8,346.4h1.0v1.0h-1.0zM328.7,351.8h1.0v1.0h-1.0zM323.3,353.7h1.0v1.0h-1.0zM322.7,339.2h1.0v1.0h-1.0zM322.5,352.0h1.0v1.0h-1.0zM323.4,341.5h1.0v1.0h-1.0zM337.7,322.1h1.0v1.0h-1.0zM327.1,363.6h1.0v1.0h-1.0zM327.4,345.6h1.0v1.0h-1.0zM320.2,342.3h1.0v1.0h-1.0zM316.9,357.3h1.0v1.0h-1.0zM313.2,349.3h1.0v1.0h-1.0zM321.1,340.1h1.0v1.0h-1.0zM324.9,347.1h1.0v1.0h-1.0zM325.2,348.1h1.0v1.0h-1.0zM316.7,343.3h1.0v1.0h-1.0zM327.4,323.6h1.0v1.0h-1.0zM321.2,346.5h1.0v1.0h-1.0zM329.8,336.6h1.0v1.0h-1.0zM322.8,335.6h1.0v1.0h-1.0zM324.3,345.5h1.0v1.0h-1.0zM320.4,364.6h1.0v1.0h-1.0zM320.6,334.3h1.0v1.0h-1.0zM324.3,347.9h1.0v1.0h-1.0zM327.0,331.7h1.0v1.0h-1.0zM327.7,330.5h1.0v1.0h-1.0zM320.5,341.7h1.0v1.0h-1.0zM317.9,353.4h1.0v1.0h-1.0zM326.3,347.6h1.0v1.0h-1.0zM330.6,347.6h1.0v1.0h-1.0zM321.6,356.1h1.0v1.0h-1.0zM322.0,349.5h1.0v1.0h-1.0zM321.9,339.7h1.0v1.0h-1.0zM325.8,336.4h1.0v1.0h-1.0zM328.9,342.3h1.0v1.0h-1.0zM319.4,348.2h1.0v1.0h-1.0zM326.3,342.1h1.0v1.0h-1.0zM331.4,342.9h1.0v1.0h-1.0zM327.1,340.0h1.0v1.0h-1.0zM320.3,337.8h1.0v1.0h-1.0zM316.9,334.2h1.0v1.0h-1.0zM324.4,337.8h1.0v1.0h-1.0zM331.0,361.2h1.0v1.0h-1.0zM328.2,354.8h1.0v1.0h-1.0zM322.4,346.1h1.0v1.0h-1.0zM324.5,343.9h1.0v1.0h-1.0zM320.2,352.4h1.0v1.0h-1.0zM327.0,341.6h1.0v1.0h-1.0zM323.3,355.4h1.0v1.0h-1.0zM320.3,346.3h1.0v1.0h-1.0zM322.3,352.3h1.0v1.0h-1.0zM327.1,338.0h1.0v1.0h-1.0zM328.7,361.5h1.0v1.0h-1.0zM328.2,347.0h1.0v1.0h-1.0zM328.1,338.3h1.0v1.0h-1.0zM319.7,338.8h1.0v1.0h-1.0zM329.7,351.4h1.0v1.0h-1.0zM320.1,330.2h1.0v1.0h-1.0zM318.8,356.3h1.0v1.0h-1.0zM328.0,339.7h1.0v1.0h-1.0zM321.4,353.8h1.0v1.0h-1.0zM324.4,339.2h1.0v1.0h-1.0zM321.8,344.7h1.0v1.0h-1.0zM323.4,345.8h1.0v1.0h-1.0zM315.7,353.4h1.0v1.0h-1.0zM328.9,337.3h1.0v1.0h-1.0zM330.5,350.1h1.0v1.0h-1.0zM323.2,347.7h1.0v1.0h-1.0zM330.6,352.1h1.0v1.0h-1.0zM328.7,337.5h1.0v1.0h-1.0zM330.4,345.1h1.0v1.0h-1.0zM331.8,338.4h1.0v1.0h-1.0zM318.3,341.6h1.0v1.0h-1.0zM328.5,354.8h1.0v1.0h-1.0zM323.7,355.8h1.0v1.0h-1.0zM328.3,336.7h1.0v1.0h-1.0zM323.1,343.6h1.0v1.0h-1.0zM332.8,336.5h1.0v1.0h-1.0zM324.4,341.5h1.0v1.0h-1.0zM326.7,335.4h1.0v1.0h-1.0zM324.3,399.2h1.0v1.0h-1.0zM318.2,424.2h1.0v1.0h-1.0zM327.7,401.3h1.0v1.0h-1.0zM314.1,389.7h1.0v1.0h-1.0zM324.3,375.9h1.0v1.0h-1.0zM324.5,371.7h1.0v1.0h-1.0zM319.4,378.8h1.0v1.0h-1.0zM315.2,368.0h1.0v1.0h-1.0zM322.7,391.3h1.0v1.0h-1.0zM317.1,382.5h1.0v1.0h-1.0zM326.4,375.8h1.0v1.0h-1.0zM322.4,362.0h1.0v1.0h-1.0zM321.9,382.1h1.0v1.0h-1.0zM322.4,374.1h1.0v1.0h-1.0zM325.0,387.1h1.0v1.0h-1.0zM321.9,363.2h1.0v1.0h-1.0zM324.2,392.3h1.0v1.0h-1.0zM323.4,378.1h1.0v1.0h-1.0zM319.9,414.5h1.0v1.0h-1.0zM326.4,366.6h1.0v1.0h-1.0zM322.4,380.0h1.0v1.0h-1.0zM324.7,417.2h1.0v1.0h-1.0zM317.7,401.1h1.0v1.0h-1.0zM318.7,359.1h1.0v1.0h-1.0zM318.4,370.9h1.0v1.0h-1.0zM319.6,399.2h1.0v1.0h-1.0zM325.3,386.7h1.0v1.0h-1.0zM318.6,396.9h1.0v1.0h-1.0zM319.4,389.0h1.0v1.0h-1.0zM315.9,407.5h1.0v1.0h-1.0zM319.2,377.1h1.0v1.0h-1.0zM315.3,362.5h1.0v1.0h-1.0zM325.5,369.5h1.0v1.0h-1.0zM321.3,380.9h1.0v1.0h-1.0zM325.6,365.2h1.0v1.0h-1.0zM327.4,380.8h1.0v1.0h-1.0zM323.8,377.6h1.0v1.0h-1.0zM323.2,375.7h1.0v1.0h-1.0zM322.4,380.6h1.0v1.0h-1.0zM320.2,374.4h1.0v1.0h-1.0zM313.3,399.0h1.0v1.0h-1.0zM322.6,383.1h1.0v1.0h-1.0zM319.1,395.1h1.0v1.0h-1.0zM318.0,355.6h1.0v1.0h-1.0zM319.6,381.8h1.0v1.0h-1.0zM321.8,372.8h1.0v1.0h-1.0zM324.7,346.3h1.0v1.0h-1.0zM318.0,417.8h1.0v1.0h-1.0zM316.9,357.7h1.0v1.0h-1.0zM326.2,396.0h1.0v1.0h-1.0zM324.1,394.7h1.0v1.0h-1.0zM325.1,402.0h1.0v1.0h-1.0zM320.8,373.4h1.0v1.0h-1.0zM316.4,335.5h1.0v1.0h-1.0zM327.2,392.6h1.0v1.0h-1.0zM326.9,379.5h1.0v1.0h-1.0zM319.5,393.1h1.0v1.0h-1.0zM323.6,378.6h1.0v1.0h-1.0zM395.5,432.3h1.0v1.0h-1.0zM390.2,417.8h1.0v1.0h-1.0zM384.1,426.4h1.0v1.0h-1.0zM403.3,405.6h1.0v1.0h-1.0zM382.4,410.7h1.0v1.0h-1.0zM387.4,427.2h1.0v1.0h-1.0zM389.9,439.1h1.0v1.0h-1.0zM390.6,430.3h1.0v1.0h-1.0zM382.9,437.1h1.0v1.0h-1.0zM386.5,425.6h1.0v1.0h-1.0zM380.8,437.6h1.0v1.0h-1.0zM383.7,468.4h1.0v1.0h-1.0zM391.3,411.0h1.0v1.0h-1.0zM383.0,429.7h1.0v1.0h-1.0zM391.6,419.7h1.0v1.0h-1.0zM384.9,435.8h1.0v1.0h-1.0zM387.2,435.3h1.0v1.0h-1.0zM384.4,414.1h1.0v1.0h-1.0zM394.6,430.2h1.0v1.0h-1.0zM387.4,431.2h1.0v1.0h-1.0zM381.1,425.9h1.0v1.0h-1.0zM387.5,433.0h1.0v1.0h-1.0zM394.8,450.9h1.0v1.0h-1.0zM388.4,438.0h1.0v1.0h-1.0zM379.2,423.5h1.0v1.0h-1.0zM381.3,431.9h1.0v1.0h-1.0zM379.4,461.3h1.0v1.0h-1.0zM396.0,417.6h1.0v1.0h-1.0zM387.8,446.7h1.0v1.0h-1.0zM392.6,416.8h1.0v1.0h-1.0zM392.2,401.3h1.0v1.0h-1.0zM384.2,416.5h1.0v1.0h-1.0zM394.1,433.7h1.0v1.0h-1.0zM385.7,424.0h1.0v1.0h-1.0zM388.7,416.3h1.0v1.0h-1.0zM385.7,411.9h1.0v1.0h-1.0zM383.4,410.2h1.0v1.0h-1.0zM380.9,417.8h1.0v1.0h-1.0zM387.7,386.3h1.0v1.0h-1.0zM384.3,432.7h1.0v1.0h-1.0zM384.5,443.1h1.0v1.0h-1.0zM381.2,417.9h1.0v1.0h-1.0zM398.1,427.7h1.0v1.0h-1.0zM387.4,384.4h1.0v1.0h-1.0zM390.2,430.9h1.0v1.0h-1.0zM383.0,437.9h1.0v1.0h-1.0zM377.9,441.9h1.0v1.0h-1.0zM395.1,424.8h1.0v1.0h-1.0zM392.7,406.6h1.0v1.0h-1.0zM386.8,433.4h1.0v1.0h-1.0zM387.1,441.8h1.0v1.0h-1.0zM386.7,442.9h1.0v1.0h-1.0zM385.6,418.9h1.0v1.0h-1.0zM390.5,412.3h1.0v1.0h-1.0zM390.0,423.1h1.0v1.0h-1.0zM384.9,410.3h1.0v1.0h-1.0zM380.9,391.6h1.0v1.0h-1.0zM397.2,433.7h1.0v1.0h-1.0zM382.9,434.9h1.0v1.0h-1.0zM380.9,438.5h1.0v1.0h-1.0zM402.1,413.2h1.0v1.0h-1.0zM386.7,426.8h1.0v1.0h-1.0zM385.0,407.2h1.0v1.0h-1.0zM376.6,402.7h1.0v1.0h-1.0zM395.6,397.0h1.0v1.0h-1.0zM383.9,421.7h1.0v1.0h-1.0zM394.2,466.7h1.0v1.0h-1.0zM378.6,447.7h1.0v1.0h-1.0zM391.9,438.7h1.0v1.0h-1.0zM387.3,437.5h1.0v1.0h-1.0zM383.5,424.1h1.0v1.0h-1.0zM395.8,461.1h1.0v1.0h-1.0zM387.4,424.2h1.0v1.0h-1.0zM386.3,417.6h1.0v1.0h-1.0zM392.7,438.7h1.0v1.0h-1.0zM379.5,426.6h1.0v1.0h-1.0zM396.5,449.3h1.0v1.0h-1.0zM392.3,417.0h1.0v1.0h-1.0zM390.6,413.8h1.0v1.0h-1.0zM390.9,420.9h1.0v1.0h-1.0zM382.1,454.4h1.0v1.0h-1.0zM385.6,443.3h1.0v1.0h-1.0zM389.8,432.1h1.0v1.0h-1.0zM383.2,429.3h1.0v1.0h-1.0zM396.2,433.6h1.0v1.0h-1.0zM392.5,411.6h1.0v1.0h-1.0zM396.5,436.4h1.0v1.0h-1.0zM376.3,419.6h1.0v1.0h-1.0zM397.6,431.8h1.0v1.0h-1.0zM383.4,428.3h1.0v1.0h-1.0zM381.4,433.0h1.0v1.0h-1.0zM384.7,420.3h1.0v1.0h-1.0zM396.7,443.9h1.0v1.0h-1.0zM390.0,434.0h1.0v1.0h-1.0zM389.6,415.2h1.0v1.0h-1.0zM394.0,435.4h1.0v1.0h-1.0zM394.3,422.3h1.0v1.0h-1.0zM394.8,434.5h1.0v1.0h-1.0zM393.4,442.2h1.0v1.0h-1.0zM388.9,419.9h1.0v1.0h-1.0zM390.4,427.5h1.0v1.0h-1.0zM385.7,428.7h1.0v1.0h-1.0zM371.4,462.0h1.0v1.0h-1.0zM386.1,434.0h1.0v1.0h-1.0zM387.4,409.1h1.0v1.0h-1.0zM381.4,430.0h1.0v1.0h-1.0zM383.0,419.0h1.0v1.0h-1.0zM394.0,468.9h1.0v1.0h-1.0zM384.2,417.6h1.0v1.0h-1.0zM386.8,409.7h1.0v1.0h-1.0zM399.9,440.4h1.0v1.0h-1.0zM388.9,419.5h1.0v1.0h-1.0zM393.0,421.8h1.0v1.0h-1.0zM389.7,424.3h1.0v1.0h-1.0zM390.5,417.0h1.0v1.0h-1.0zM394.5,421.3h1.0v1.0h-1.0zM385.0,391.6h1.0v1.0h-1.0zM391.7,426.6h1.0v1.0h-1.0zM383.1,439.0h1.0v1.0h-1.0zM383.6,459.5h1.0v1.0h-1.0zM390.8,429.4h1.0v1.0h-1.0zM382.2,442.2h1.0v1.0h-1.0zM384.8,452.8h1.0v1.0h-1.0zM395.3,465.8h1.0v1.0h-1.0zM379.3,434.1h1.0v1.0h-1.0zM390.4,422.8h1.0v1.0h-1.0zM383.7,429.4h1.0v1.0h-1.0zM375.7,454.4h1.0v1.0h-1.0zM384.0,407.8h1.0v1.0h-1.0zM394.4,412.0h1.0v1.0h-1.0zM383.4,414.8h1.0v1.0h-1.0zM388.7,433.1h1.0v1.0h-1.0zM386.0,439.4h1.0v1.0h-1.0zM375.8,444.8h1.0v1.0h-1.0zM383.3,452.5h1.0v1.0h-1.0zM394.2,409.8h1.0v1.0h-1.0zM391.6,429.9h1.0v1.0h-1.0zM383.4,441.6h1.0v1.0h-1.0zM381.0,433.3h1.0v1.0h-1.0zM385.4,447.5h1.0v1.0h-1.0zM387.7,423.8h1.0v1.0h-1.0zM374.6,391.3h1.0v1.0h-1.0zM380.7,397.4h1.0v1.0h-1.0zM391.8,441.9h1.0v1.0h-1.0zM385.9,409.5h1.0v1.0h-1.0zM381.4,433.8h1.0v1.0h-1.0zM386.9,439.5h1.0v1.0h-1.0zM384.1,426.7h1.0v1.0h-1.0zM387.6,445.6h1.0v1.0h-1.0zM393.4,417.9h1.0v1.0h-1.0zM385.2,438.5h1.0v1.0h-1.0zM388.8,403.8h1.0v1.0h-1.0zM380.4,395.2h1.0v1.0h-1.0zM393.9,425.4h1.0v1.0h-1.0zM392.7,455.8h1.0v1.0h-1.0zM385.8,448.0h1.0v1.0h-1.0zM389.1,436.5h1.0v1.0h-1.0zM383.6,424.5h1.0v1.0h-1.0zM388.3,450.5h1.0v1.0h-1.0zM395.3,433.0h1.0v1.0h-1.0zM381.3,420.1h1.0v1.0h-1.0zM380.1,439.8h1.0v1.0h-1.0zM380.8,426.6h1.0v1.0h-1.0zM387.2,441.5h1.0v1.0h-1.0zM376.1,408.3h1.0v1.0h-1.0zM391.2,408.1h1.0v1.0h-1.0zM376.9,460.8h1.0v1.0h-1.0zM401.6,439.1h1.0v1.0h-1.0zM385.1,410.5h1.0v1.0h-1.0zM386.6,401.3h1.0v1.0h-1.0zM388.0,410.9h1.0v1.0h-1.0zM372.8,450.6h1.0v1.0h-1.0zM391.8,396.0h1.0v1.0h-1.0zM381.5,448.9h1.0v1.0h-1.0zM387.7,411.1h1.0v1.0h-1.0zM389.5,407.2h1.0v1.0h-1.0zM392.4,428.9h1.0v1.0h-1.0zM395.3,406.8h1.0v1.0h-1.0zM393.7,418.2h1.0v1.0h-1.0zM391.1,418.7h1.0v1.0h-1.0zM381.7,387.2h1.0v1.0h-1.0zM378.1,408.0h1.0v1.0h-1.0zM391.1,433.7h1.0v1.0h-1.0zM388.2,393.0h1.0v1.0h-1.0zM382.4,404.9h1.0v1.0h-1.0zM385.6,412.4h1.0v1.0h-1.0zM392.5,443.4h1.0v1.0h-1.0zM392.2,443.4h1.0v1.0h-1.0zM381.8,453.0h1.0v1.0h-1.0zM376.9,411.6h1.0v1.0h-1.0zM382.8,431.8h1.0v1.0h-1.0zM383.8,405.8h1.0v1.0h-1.0zM393.3,427.6h1.0v1.0h-1.0zM399.1,416.5h1.0v1.0h-1.0zM380.7,409.4h1.0v1.0h-1.0zM391.1,400.4h1.0v1.0h-1.0zM385.2,436.2h1.0v1.0h-1.0zM389.9,435.2h1.0v1.0h-1.0zM387.2,422.9h1.0v1.0h-1.0zM385.4,421.2h1.0v1.0h-1.0zM392.5,417.6h1.0v1.0h-1.0zM390.9,440.6h1.0v1.0h-1.0zM383.2,431.0h1.0v1.0h-1.0zM389.4,397.5h1.0v1.0h-1.0zM381.9,429.2h1.0v1.0h-1.0zM385.8,435.7h1.0v1.0h-1.0zM390.2,417.5h1.0v1.0h-1.0zM389.3,419.7h1.0v1.0h-1.0zM390.1,438.4h1.0v1.0h-1.0zM377.8,420.9h1.0v1.0h-1.0zM387.6,427.2h1.0v1.0h-1.0zM390.9,429.2h1.0v1.0h-1.0zM375.7,453.9h1.0v1.0h-1.0zM378.7,402.2h1.0v1.0h-1.0zM391.7,467.3h1.0v1.0h-1.0zM388.2,407.3h1.0v1.0h-1.0zM392.7,414.0h1.0v1.0h-1.0zM381.8,430.0h1.0v1.0h-1.0zM387.8,467.4h1.0v1.0h-1.0zM381.7,448.1h1.0v1.0h-1.0zM386.3,416.3h1.0v1.0h-1.0zM387.8,431.6h1.0v1.0h-1.0zM402.8,429.9h1.0v1.0h-1.0zM392.4,416.5h1.0v1.0h-1.0zM387.8,437.9h1.0v1.0h-1.0zM386.7,432.4h1.0v1.0h-1.0zM388.4,420.3h1.0v1.0h-1.0zM389.4,416.2h1.0v1.0h-1.0zM381.7,439.9h1.0v1.0h-1.0zM389.6,425.9h1.0v1.0h-1.0zM381.3,448.2h1.0v1.0h-1.0zM382.1,442.6h1.0v1.0h-1.0zM385.4,407.3h1.0v1.0h-1.0zM393.1,392.2h1.0v1.0h-1.0zM391.7,428.6h1.0v1.0h-1.0zM394.4,410.2h1.0v1.0h-1.0zM386.5,415.6h1.0v1.0h-1.0zM386.6,452.5h1.0v1.0h-1.0zM396.1,424.1h1.0v1.0h-1.0zM381.1,460.2h1.0v1.0h-1.0zM378.8,441.2h1.0v1.0h-1.0zM372.4,398.4h1.0v1.0h-1.0zM391.7,453.3h1.0v1.0h-1.0zM380.4,397.6h1.0v1.0h-1.0zM378.8,406.3h1.0v1.0h-1.0zM388.7,426.1h1.0v1.0h-1.0zM379.0,418.6h1.0v1.0h-1.0zM380.7,456.8h1.0v1.0h-1.0zM380.4,413.3h1.0v1.0h-1.0zM388.7,457.0h1.0v1.0h-1.0zM381.1,404.1h1.0v1.0h-1.0zM382.4,413.4h1.0v1.0h-1.0zM384.6,433.6h1.0v1.0h-1.0zM384.1,430.6h1.0v1.0h-1.0zM373.4,455.5h1.0v1.0h-1.0zM377.6,459.0h1.0v1.0h-1.0zM382.5,461.7h1.0v1.0h-1.0zM386.6,426.5h1.0v1.0h-1.0zM384.0,443.1h1.0v1.0h-1.0zM393.0,423.5h1.0v1.0h-1.0zM386.6,452.6h1.0v1.0h-1.0zM389.7,388.7h1.0v1.0h-1.0zM382.4,417.1h1.0v1.0h-1.0zM381.3,424.5h1.0v1.0h-1.0zM397.3,419.9h1.0v1.0h-1.0zM374.4,455.4h1.0v1.0h-1.0zM393.8,404.5h1.0v1.0h-1.0zM380.5,414.3h1.0v1.0h-1.0zM390.3,407.7h1.0v1.0h-1.0zM389.1,412.7h1.0v1.0h-1.0zM387.9,444.3h1.0v1.0h-1.0zM381.3,392.2h1.0v1.0h-1.0zM390.1,391.9h1.0v1.0h-1.0zM392.7,442.2h1.0v1.0h-1.0zM398.5,337.2h1.0v1.0h-1.0zM438.4,356.9h1.0v1.0h-1.0zM442.6,343.7h1.0v1.0h-1.0zM405.2,392.3h1.0v1.0h-1.0zM404.8,459.2h1.0v1.0h-1.0zM406.3,455.9h1.0v1.0h-1.0zM403.3,388.0h1.0v1.0h-1.0zM409.8,461.2h1.0v1.0h-1.0zM419.3,364.4h1.0v1.0h-1.0zM473.2,385.0h1.0v1.0h-1.0zM409.8,451.8h1.0v1.0h-1.0zM460.9,400.8h1.0v1.0h-1.0zM470.3,367.7h1.0v1.0h-1.0zM485.7,415.3h1.0v1.0h-1.0zM414.8,358.4h1.0v1.0h-1.0zM454.0,409.0h1.0v1.0h-1.0zM401.8,381.5h1.0v1.0h-1.0zM404.8,368.8h1.0v1.0h-1.0zM470.8,354.6h1.0v1.0h-1.0zM476.1,406.6h1.0v1.0h-1.0zM486.8,430.6h1.0v1.0h-1.0zM486.7,433.2h1.0v1.0h-1.0zM425.6,362.4h1.0v1.0h-1.0zM445.1,377.5h1.0v1.0h-1.0zM489.2,364.9h1.0v1.0h-1.0zM461.8,426.2h1.0v1.0h-1.0zM416.4,464.0h1.0v1.0h-1.0zM414.0,420.9h1.0v1.0h-1.0zM440.9,427.7h1.0v1.0h-1.0zM431.8,359.6h1.0v1.0h-1.0zM477.1,390.9h1.0v1.0h-1.0zM451.9,386.9h1.0v1.0h-1.0zM446.8,432.8h1.0v1.0h-1.0zM420.3,338.0h1.0v1.0h-1.0zM450.0,409.9h1.0v1.0h-1.0zM444.1,399.1h1.0v1.0h-1.0zM437.4,426.1h1.0v1.0h-1.0zM430.1,428.5h1.0v1.0h-1.0zM448.4,353.2h1.0v1.0h-1.0zM440.6,389.6h1.0v1.0h-1.0z" fill="#111"/>
<g fill="none" stroke="#000" stroke-width="1.1" stroke-linejoin="round"><path d="M193.5,464.1 189.5,464.1 187.0,463.6 178.5,460.0 167.5,455.8 155.0,449.2 145.4,443.5 139.0,440.2 137.5,439.2 136.1,437.5 135.1,435.5 134.8,433.5 135.1,432.0 135.8,431.0 137.0,429.9 140.0,427.6 142.0,426.6 152.0,423.3 167.0,419.3 177.5,417.2 180.0,416.9 189.5,416.8 193.5,417.4 196.0,418.1 197.5,419.2 199.5,421.1 200.4,422.5 201.0,424.0 201.7,431.0 201.6,445.0 200.5,454.5 199.3,458.0 198.2,460.5 196.9,462.5 195.5,463.6 193.5,464.1"/></g>
<g fill="none" stroke="#1a1a1a" stroke-width="0.85" stroke-linejoin="round"><path d="M193.5,461.6 190.0,461.8 188.0,461.4 180.5,458.2 169.5,454.0 167.2,453.0 155.9,447.0 146.5,441.4 140.0,438.0 138.8,437.0 137.8,435.5 137.4,434.0 137.6,433.0 138.3,432.0 140.1,430.5 141.6,429.5 143.5,428.6 152.9,425.5 167.0,421.8 178.0,419.5 180.0,419.3 189.5,419.2 193.0,419.7 195.0,420.4 196.0,421.0 197.5,422.5 198.2,423.5 198.7,425.0 199.3,431.0 199.2,444.5 198.3,453.0 197.7,455.5 196.5,458.5 195.5,460.3 194.5,461.2 193.5,461.6"/><path d="M193.0,460.0 190.5,460.2 188.5,459.9 181.0,456.7 168.8,452.0 156.5,445.5 147.5,440.2 141.4,437.0 140.0,436.0 139.5,435.3 139.2,434.5 139.3,433.5 140.0,432.6 141.4,431.5 144.2,430.0 153.4,427.0 168.7,423.0 178.5,421.0 180.0,420.9 189.0,420.8 191.5,421.1 194.0,421.7 195.3,422.5 196.5,423.8 197.0,424.9 197.2,426.0 197.7,431.0 197.7,444.5 197.0,450.7 196.4,454.5 194.5,458.9 194.0,459.5 193.0,460.0"/><path d="M192.5,459.5 189.5,460.0 187.1,459.5 179.0,456.4 169.0,453.5 162.5,450.7 156.0,447.2 141.1,438.0 139.9,437.0 139.0,435.5 138.9,434.5 139.1,433.5 140.0,432.5 142.0,431.0 145.1,429.5 154.4,426.0 166.5,422.5 177.7,420.5 181.0,420.2 189.0,420.2 191.5,420.7 193.8,421.5 195.2,422.5 196.5,423.9 197.0,424.9 197.5,426.5 198.0,429.0 198.4,432.5 198.5,441.0 198.0,446.4 196.4,453.5 194.5,457.6 193.5,458.9 192.5,459.5"/><path d="M190.0,458.1 188.0,458.3 186.0,457.9 179.0,455.4 169.2,453.0 163.0,450.5 156.5,447.0 142.8,438.5 141.0,437.0 140.3,436.0 140.0,435.0 140.3,434.0 141.1,433.0 143.2,431.5 148.6,429.0 156.6,426.0 166.7,423.0 175.9,421.5 182.0,420.9 188.5,420.9 190.5,421.3 192.3,422.0 193.9,423.0 195.3,424.5 196.0,425.7 197.0,428.4 197.5,430.6 197.9,434.0 197.9,441.5 197.5,445.0 197.0,447.4 196.0,450.8 195.3,452.5 194.5,454.0 193.0,455.9 191.5,457.3 190.0,458.1"/><path d="M187.0,456.0 185.0,455.7 179.0,453.8 173.0,453.1 169.8,452.5 166.8,451.5 163.1,450.0 156.6,446.5 144.0,438.5 142.9,437.5 142.1,436.5 141.9,435.5 142.0,435.0 142.7,434.0 144.5,432.5 149.2,430.0 157.8,426.5 165.8,424.0 172.0,422.9 183.5,421.9 187.5,422.0 190.0,422.6 192.0,423.8 193.5,425.3 195.0,427.4 196.0,429.5 196.7,432.0 197.1,434.5 197.2,438.0 197.1,441.5 196.6,444.5 196.0,447.0 195.0,449.5 193.5,452.0 192.0,453.8 190.5,455.0 189.0,455.7 187.0,456.0"/></g>
<g fill="#111" stroke="#000" stroke-width="0.8"><path d="M188.5,453.5 187.0,453.7 185.5,453.6 180.5,452.0 178.5,451.7 172.5,451.7 170.0,451.5 167.5,450.9 164.0,449.6 158.0,446.5 146.3,439.0 145.2,438.0 144.5,437.0 144.4,436.5 144.6,435.5 145.2,434.5 146.3,433.5 150.0,431.3 160.0,427.1 166.0,425.2 171.5,424.3 179.5,424.1 185.0,423.7 187.0,423.8 189.0,424.3 190.5,425.1 192.0,426.4 193.3,428.0 194.2,429.5 195.1,431.5 195.7,433.5 196.1,436.0 196.2,438.5 195.9,441.5 195.5,444.0 194.6,446.5 193.7,448.5 192.8,450.0 191.5,451.6 190.0,452.8 188.5,453.5Z"/></g>
<g fill="none" stroke="#5a5a5a" stroke-width="0.6"><path d="M188.5,449.5 187.5,449.8 186.0,449.9 179.0,448.0 177.0,447.9 170.0,448.1 167.0,447.8 164.5,447.0 161.0,445.3 151.7,439.0 150.3,437.5 150.0,436.7 150.1,436.0 150.6,435.0 151.5,434.2 154.6,432.5 161.5,429.9 167.0,428.4 171.5,427.8 179.5,427.8 185.0,427.3 186.5,427.3 188.0,427.7 190.1,429.0 191.1,430.0 192.1,431.5 193.2,434.5 193.7,438.0 193.4,442.0 192.2,445.5 190.5,448.1 189.5,449.0 188.5,449.5"/><path d="M187.0,447.0 185.0,446.9 181.0,445.5 179.0,445.0 177.0,445.0 171.0,445.4 168.5,445.1 166.5,444.6 163.0,442.9 157.6,439.0 156.0,437.5 155.6,436.5 155.7,436.0 156.5,434.9 159.0,433.5 163.5,431.9 168.0,430.8 172.0,430.4 179.5,430.7 185.0,430.0 186.5,430.1 187.5,430.4 189.2,431.5 190.7,433.5 191.6,436.0 191.9,439.0 191.4,442.0 190.4,444.5 189.0,446.1 188.0,446.7 187.0,447.0"/><path d="M187.5,443.6 186.5,444.0 185.0,443.8 180.5,441.7 178.5,441.3 177.0,441.5 172.0,442.7 170.5,442.7 169.0,442.4 167.0,441.5 164.5,439.5 163.2,438.0 162.8,437.0 162.9,436.5 163.6,435.5 165.3,434.5 167.5,433.6 169.5,433.1 172.5,433.1 177.0,434.1 179.0,434.4 180.5,434.2 184.5,433.1 186.5,433.2 188.0,434.0 188.8,435.0 189.5,436.5 189.8,438.0 189.7,440.0 189.3,441.5 188.5,442.8 187.5,443.6"/><path d="M172.0,441.1 170.5,441.1 169.5,440.8 168.3,440.0 167.5,439.0 167.2,438.0 167.3,437.0 167.9,436.0 169.0,435.1 170.5,434.7 172.5,434.9 174.0,435.8 174.8,437.0 174.9,438.5 174.4,439.5 173.3,440.5 172.0,441.1"/><path d="M186.0,439.4 185.5,439.5 185.0,439.1 184.7,438.5 185.0,437.7 185.5,437.4 186.0,437.6 186.5,438.4 186.4,439.0 186.0,439.4"/></g>
<g fill="#eee" stroke="#777" stroke-width="0.6"><path d="M172.0,439.6 170.5,439.7 169.4,439.0 169.1,438.5 169.0,437.5 169.7,436.5 170.5,436.1 171.5,436.1 172.3,436.5 172.8,437.0 173.0,437.5 173.0,438.5 172.7,439.0 172.0,439.6Z"/></g>
<g fill="none" stroke="#000" stroke-width="0.85" stroke-linejoin="round"><path d="M349.0,461.0 343.5,461.3 340.0,461.2 337.5,460.7 335.5,459.6 330.5,455.7 327.5,452.5 326.0,450.4 324.6,448.0 324.0,446.5 323.5,444.5 322.8,436.5 323.1,424.0 323.6,421.0 324.7,416.0 327.4,408.5 328.8,401.0 329.8,388.0 330.1,381.5 330.7,378.0 330.7,374.0 331.1,366.0 331.0,359.0 331.3,353.0 332.3,348.5 333.5,345.6 335.5,342.8 336.5,341.9 338.0,340.9 341.5,339.3 349.0,337.1 355.0,335.9 360.0,335.3 363.0,334.7 364.5,334.7 372.0,336.4 377.0,338.2 379.0,339.2 381.1,341.0 382.5,342.9 383.4,345.0 384.1,348.0 384.3,351.0 384.1,353.5 382.6,360.5 379.5,369.0 374.7,380.0 372.4,386.0 371.4,390.0 370.2,398.0 370.4,401.5 372.0,408.5 373.2,412.5 376.0,420.5 376.8,423.5 378.2,432.0 378.1,435.5 377.7,438.0 376.9,440.5 374.9,444.5 372.3,448.0 366.5,453.8 363.5,455.8 355.5,459.6 352.5,460.6 349.0,461.0"/><path d="M343.5,458.5 340.0,458.5 337.5,457.7 334.0,455.3 330.4,452.0 328.1,449.0 326.5,446.0 325.9,443.5 325.3,439.0 325.2,431.0 325.4,426.0 325.7,423.0 327.3,416.5 329.9,409.5 331.4,401.0 332.6,381.5 332.9,378.5 332.9,374.0 333.4,367.0 333.7,359.0 334.2,353.0 335.1,349.5 336.6,346.5 338.5,344.3 341.5,342.4 349.0,339.7 352.0,339.0 356.0,337.7 363.0,337.2 366.5,337.5 372.5,339.5 376.0,341.0 378.0,342.2 379.3,343.5 380.4,345.5 381.0,347.5 381.3,350.0 381.1,354.0 379.4,361.0 376.5,368.5 372.5,377.2 369.0,385.5 365.8,396.0 365.1,399.5 365.2,403.5 366.3,410.0 367.5,414.5 370.0,422.5 370.9,426.5 371.8,432.5 371.5,436.0 370.5,439.3 368.7,442.5 365.1,447.0 362.0,450.1 354.8,455.0 352.0,456.6 348.5,457.8 343.5,458.5"/><path d="M345.0,456.5 341.5,456.8 340.0,456.7 338.5,456.2 335.5,454.4 332.1,451.5 329.6,448.5 328.0,445.5 327.3,443.0 326.8,438.5 326.7,431.0 327.2,423.5 328.8,417.0 331.5,410.0 332.9,402.5 333.3,397.5 333.4,389.5 334.3,377.5 334.2,374.0 335.9,354.0 336.7,350.5 338.3,347.5 340.0,345.6 342.5,343.9 345.5,342.5 351.5,340.7 355.5,339.2 361.0,338.5 364.0,338.6 371.0,340.7 375.0,342.5 376.5,343.5 377.9,345.0 378.7,346.5 379.3,348.5 379.5,350.5 379.2,354.5 377.3,361.5 375.0,367.5 367.3,384.5 363.0,396.0 362.0,400.0 361.9,404.0 362.8,410.0 363.7,414.0 366.5,424.0 366.6,431.5 365.9,439.5 365.6,440.5 364.6,442.0 361.5,446.0 359.5,448.0 354.7,452.0 352.5,453.7 350.2,455.0 348.0,455.8 345.0,456.5"/><path d="M343.5,455.0 341.0,455.1 338.5,454.3 335.0,452.0 332.0,449.2 330.1,446.5 329.1,444.0 328.5,441.5 328.0,437.0 328.1,429.5 328.7,423.5 330.2,417.5 333.2,410.0 334.3,403.5 334.7,398.0 334.5,392.5 334.9,387.5 335.0,380.5 335.5,377.0 335.7,371.0 337.4,354.0 338.2,351.0 340.0,348.0 341.6,346.5 344.8,344.5 348.0,343.0 355.5,340.5 360.5,339.6 363.0,339.7 368.5,341.4 372.5,343.0 374.3,344.0 375.5,345.0 376.7,346.5 377.6,349.0 377.9,351.0 377.7,353.5 376.2,360.0 373.5,367.0 365.6,384.0 360.5,396.1 360.0,397.2 357.5,400.1 356.5,402.0 356.0,403.7 355.7,406.5 355.7,409.5 357.8,422.5 358.3,430.5 357.8,438.5 356.1,447.5 355.8,448.0 353.0,450.7 350.0,452.9 347.0,454.2 343.5,455.0"/><path d="M345.0,453.0 342.0,453.4 339.5,452.9 337.0,451.5 333.9,449.0 331.9,446.5 330.6,444.0 330.0,441.5 329.4,437.0 329.4,430.0 330.0,424.0 331.7,418.0 334.7,410.5 335.2,408.5 335.8,404.5 336.0,398.0 335.7,392.5 336.0,381.0 336.7,377.0 336.7,371.0 337.9,363.5 338.7,354.5 339.5,351.7 341.2,349.0 343.0,347.4 347.0,344.9 349.5,343.7 356.0,341.7 361.0,340.9 363.0,341.0 366.0,341.9 371.5,344.3 372.7,345.0 374.0,346.1 375.2,347.5 376.1,349.5 376.3,351.5 376.1,353.5 375.1,358.5 373.8,362.5 370.6,370.0 368.2,374.5 366.4,379.0 364.0,383.5 361.5,389.3 361.0,390.0 358.5,392.2 356.5,394.5 354.0,398.4 351.9,403.0 351.4,406.0 351.4,410.0 353.8,421.5 354.5,428.0 354.6,433.0 354.1,438.5 352.9,445.0 351.5,449.5 348.5,451.7 345.0,453.0"/><path d="M344.0,451.5 341.5,451.6 339.5,451.1 336.5,449.2 334.0,446.9 332.5,444.6 331.7,442.5 331.0,439.0 330.7,435.5 330.9,428.5 331.6,423.5 333.1,418.5 336.3,411.0 337.2,407.0 337.4,403.5 337.2,395.5 336.9,392.0 336.8,385.5 337.0,381.0 337.8,376.5 337.6,371.0 338.5,367.5 339.2,360.5 339.9,357.5 340.0,354.0 341.0,351.6 343.0,349.1 349.5,344.9 352.5,344.0 355.0,343.0 356.5,342.6 362.0,342.5 364.0,342.7 365.5,343.2 368.5,344.8 371.0,345.9 372.5,347.0 373.9,348.5 374.6,350.0 374.8,351.5 374.7,353.5 374.2,356.5 373.2,360.5 371.9,364.0 369.1,370.0 367.0,374.0 364.7,379.5 362.0,383.5 358.0,387.5 356.0,391.7 352.2,396.0 349.5,401.0 348.3,404.5 347.7,407.0 347.7,410.0 348.3,413.0 350.4,420.0 351.3,424.5 351.8,430.0 351.7,435.5 351.2,439.0 350.5,442.5 349.5,446.1 348.3,449.5 348.0,450.0 347.0,450.5 344.0,451.5"/><path d="M341.0,407.5 340.0,407.3 339.0,406.3 338.7,398.5 337.9,391.5 337.7,386.0 338.0,381.5 338.7,378.0 338.9,375.5 338.4,371.5 339.6,367.5 340.1,361.0 341.1,357.0 341.4,353.5 342.0,352.6 344.6,349.5 346.5,348.3 349.0,346.3 350.5,345.6 352.6,345.0 355.0,344.0 356.5,343.7 359.0,344.0 362.5,343.9 365.0,344.4 370.0,347.1 371.5,348.3 372.0,349.0 372.8,352.5 372.8,355.5 372.0,360.2 371.0,363.0 368.7,367.0 367.8,369.0 366.0,371.7 363.0,378.4 361.0,380.6 357.0,385.8 354.5,389.7 351.0,394.0 348.0,398.5 343.5,406.1 342.5,406.9 341.0,407.5"/><path d="M344.0,449.6 342.5,449.9 340.0,449.4 338.0,448.3 335.7,446.5 334.5,445.0 333.4,443.0 332.8,441.0 332.2,437.5 332.1,434.0 332.2,429.0 332.6,425.5 333.3,422.5 334.9,418.0 337.1,413.5 338.0,411.2 338.5,410.3 340.0,409.6 341.0,409.7 342.0,410.6 346.0,417.4 348.1,423.0 349.2,428.5 349.3,431.5 349.2,434.5 348.4,440.0 347.5,443.0 346.5,445.5 345.2,448.0 344.0,449.6"/><path d="M343.5,399.6 342.0,399.4 340.5,398.2 340.1,397.5 339.0,391.5 338.6,388.5 338.6,386.0 338.8,383.5 339.8,378.5 339.9,374.5 339.3,371.5 340.6,367.5 341.0,361.0 341.3,360.0 342.7,357.5 343.6,354.5 344.1,353.5 346.8,350.5 347.9,348.5 349.7,347.0 351.0,346.4 353.0,346.0 356.0,344.9 359.5,345.2 362.0,345.0 364.2,345.5 369.0,348.0 370.0,351.0 370.2,352.5 370.2,356.5 369.1,361.0 368.2,364.0 366.5,367.5 364.2,370.5 363.0,374.0 361.0,376.3 358.8,380.5 356.9,383.0 355.1,386.0 351.3,390.5 348.5,395.0 345.0,398.9 343.5,399.6"/><path d="M340.5,445.7 339.0,446.0 337.5,445.7 336.5,445.0 335.5,443.7 334.8,442.5 334.2,440.5 333.7,437.5 333.5,434.5 333.7,428.0 334.0,426.0 334.5,424.5 335.8,422.5 337.0,421.2 338.5,420.2 340.0,419.9 341.5,420.2 342.5,420.8 343.5,421.8 344.5,423.3 345.5,425.5 346.0,427.3 346.5,432.0 346.1,436.5 345.0,440.5 344.0,442.5 343.0,443.9 342.0,444.8 340.5,445.7"/><path d="M345.0,395.5 344.0,395.7 343.0,395.5 340.6,393.0 339.9,390.5 339.6,388.0 339.8,384.5 340.7,379.5 340.5,376.5 340.7,374.0 340.3,371.5 341.7,367.5 342.5,363.5 342.3,361.5 342.5,360.6 344.6,358.0 344.9,357.0 345.1,355.0 345.5,354.2 348.0,351.5 349.3,348.5 350.0,347.9 351.0,347.4 353.5,347.0 356.0,346.3 359.0,346.5 362.0,346.2 363.5,346.6 366.6,348.0 367.4,349.5 368.0,351.9 368.0,353.5 367.3,359.0 367.2,362.0 366.7,364.0 365.5,366.4 363.5,369.0 361.7,373.0 359.2,375.5 357.8,379.5 357.3,380.5 355.4,382.5 353.6,385.5 350.4,389.0 347.5,393.9 346.5,394.8 345.0,395.5"/><path d="M340.0,436.6 339.0,436.3 338.5,435.8 338.0,434.5 337.9,433.5 338.0,432.0 338.5,430.8 339.1,430.0 340.0,429.6 340.5,429.7 341.3,430.5 341.7,431.5 341.8,433.0 341.6,434.5 341.2,435.5 340.5,436.3 340.0,436.6"/><path d="M345.0,393.1 344.0,393.2 342.9,392.5 341.2,390.0 340.8,388.5 340.7,385.5 341.6,382.5 341.8,380.0 341.2,377.0 341.7,374.0 341.4,371.5 341.5,370.9 342.5,369.0 343.5,365.8 344.7,363.5 345.2,361.5 346.3,359.0 347.1,356.0 349.0,352.7 350.0,350.5 351.0,349.6 352.5,349.1 354.2,348.0 355.5,347.7 358.0,347.9 361.5,347.3 363.0,347.7 363.7,348.0 364.3,349.0 365.7,353.5 365.9,357.5 365.5,360.0 365.6,363.0 365.2,364.5 364.4,366.0 362.7,368.0 361.0,371.3 358.2,374.5 357.1,378.5 356.5,379.8 353.5,382.3 351.5,385.3 349.2,387.5 347.0,391.6 346.0,392.6 345.0,393.1"/><path d="M345.0,390.8 344.0,390.7 343.5,390.3 342.9,389.5 342.3,388.0 342.2,387.0 342.4,386.0 343.9,384.5 344.0,384.0 343.3,382.0 343.1,379.5 342.4,377.5 342.2,376.5 342.9,374.5 343.1,372.0 344.0,368.0 344.5,366.6 345.8,364.5 346.5,362.0 347.4,360.0 348.0,357.5 349.5,355.0 350.5,352.3 351.5,351.2 354.5,350.2 356.0,350.5 357.0,350.4 360.0,348.9 361.0,348.7 361.5,348.8 362.0,349.1 362.7,350.0 363.9,352.5 364.2,353.5 364.1,355.5 364.4,358.0 364.1,360.5 364.3,363.0 364.0,364.5 363.5,365.5 360.5,368.9 358.3,370.0 357.8,372.0 356.9,374.5 356.3,378.0 355.8,379.0 355.0,379.8 353.0,380.6 352.0,381.3 350.0,384.3 348.0,386.2 346.0,389.9 345.0,390.8"/><path d="M348.5,383.1 347.8,383.0 346.5,381.6 345.0,380.6 343.8,376.5 344.3,373.5 345.1,371.5 345.2,369.0 346.7,367.0 347.2,363.0 348.4,360.5 348.9,358.0 349.5,357.1 351.0,355.5 351.5,353.1 352.0,352.4 353.0,352.0 355.0,352.3 356.0,352.2 359.0,350.9 360.5,350.7 361.7,351.5 362.7,353.0 362.7,354.0 362.2,356.0 363.0,358.0 363.1,359.0 362.8,361.5 362.9,363.5 362.7,364.5 362.0,365.5 360.0,367.3 356.4,369.0 356.2,369.5 356.2,372.5 355.2,375.5 355.0,378.0 354.5,378.6 352.5,379.2 351.5,379.8 350.8,380.5 349.5,382.4 348.5,383.1"/><path d="M348.0,377.6 347.0,377.9 346.5,377.9 346.0,377.7 345.3,376.5 345.2,375.5 345.5,374.3 346.0,373.4 346.8,372.5 348.5,371.5 348.7,371.0 348.7,370.5 348.2,369.0 348.0,364.0 348.4,362.5 349.6,361.0 349.9,358.5 350.5,357.7 352.3,356.0 353.5,354.4 358.0,352.6 359.0,352.4 359.5,352.6 360.2,353.5 360.6,356.0 361.7,358.0 362.0,359.0 360.8,364.5 359.6,366.0 358.2,367.0 357.0,367.3 355.0,367.1 354.5,367.5 353.4,369.0 353.5,369.5 354.5,370.4 355.0,371.5 355.0,372.5 354.5,373.8 354.0,374.3 351.8,375.5 350.5,376.9 348.0,377.6"/><path d="M351.0,368.6 350.5,368.8 350.0,368.6 349.5,368.0 349.1,365.0 349.4,363.5 350.0,363.0 352.0,362.5 352.7,362.0 352.7,361.0 351.7,359.0 352.2,358.0 353.0,357.1 356.5,354.5 357.5,354.3 358.0,354.4 360.2,358.0 360.6,359.0 360.5,360.0 359.5,362.4 358.5,363.9 357.5,364.4 356.0,363.1 355.5,363.1 355.0,363.3 354.5,364.1 353.9,366.0 353.4,367.0 352.5,367.8 351.0,368.6"/><path d="M351.0,374.6 350.0,374.9 349.0,374.6 348.7,374.0 349.1,373.0 350.5,371.2 351.0,371.0 353.0,371.6 353.4,372.0 353.6,372.5 353.4,373.0 353.0,373.5 351.0,374.6"/><path d="M354.5,360.1 354.0,359.5 354.4,358.5 356.5,356.5 357.0,356.4 357.5,356.6 358.3,358.0 358.3,359.0 358.0,359.2 356.0,359.3 355.0,360.0 354.5,360.1"/><path d="M352.0,366.8 351.5,366.8 350.8,366.5 350.6,366.0 350.6,365.0 350.8,364.5 351.5,364.0 352.5,363.9 353.1,364.5 353.1,365.5 352.5,366.5 352.0,366.8"/></g>
<ellipse cx="342" cy="435.5" rx="16.3" ry="22.5" transform="rotate(-6 342 435.5)" fill="#0c0c0c"/>
<ellipse cx="344" cy="432.5" rx="9.6" ry="17.5" transform="rotate(-8 344 432.5)" fill="#5e5e5e"/>
<g fill="none" stroke="#111" stroke-width="0.8"><path d="M340.5,443.6 338.5,443.7 337.0,443.2 335.5,442.1 334.5,440.7 333.5,438.5 333.1,436.5 332.9,434.0 333.0,431.5 333.5,429.0 334.3,426.5 335.6,424.0 337.0,422.0 338.5,420.5 340.0,419.5 342.0,418.7 343.5,418.7 345.0,419.2 346.0,419.8 347.0,421.0 347.5,422.0 348.1,423.5 348.4,425.5 348.5,427.5 348.4,430.0 347.2,435.0 345.5,439.0 344.5,440.5 343.0,442.2 342.0,442.9 340.5,443.6"/><path d="M341.0,442.0 339.5,442.4 338.0,442.2 336.5,441.3 335.5,440.2 334.6,438.5 334.0,436.5 333.8,434.5 333.8,432.0 334.2,429.5 334.8,427.5 335.7,425.5 337.0,423.4 338.5,421.7 340.0,420.6 341.5,419.9 343.0,419.8 344.0,419.9 345.1,420.5 346.0,421.3 346.8,422.5 347.4,424.0 347.7,425.5 347.7,429.0 346.9,433.5 345.3,437.5 343.5,440.2 342.5,441.1 341.0,442.0"/><path d="M341.0,440.6 339.5,441.0 338.5,440.8 337.0,440.0 336.1,439.0 335.3,437.5 334.8,435.5 334.6,433.5 334.7,431.5 335.1,429.5 335.7,427.5 336.5,425.7 337.6,424.0 339.0,422.5 340.4,421.5 341.5,421.0 343.0,420.9 344.0,421.1 345.0,421.7 346.2,423.5 346.9,426.0 346.9,429.5 346.2,433.0 344.8,436.5 343.0,439.2 341.0,440.6"/><path d="M341.0,439.2 340.0,439.5 339.0,439.4 338.0,439.0 336.9,438.0 336.1,436.5 335.7,435.0 335.5,433.5 335.6,431.5 335.9,429.5 336.5,427.7 337.3,426.0 338.3,424.5 339.5,423.3 340.5,422.6 342.0,422.1 343.0,422.1 344.5,422.8 345.7,424.5 346.1,426.5 346.1,429.5 345.5,432.6 344.3,435.5 343.0,437.6 342.0,438.5 341.0,439.2"/><path d="M341.0,437.6 340.0,437.9 339.0,437.7 338.0,437.1 337.5,436.5 336.7,434.5 336.5,431.5 337.1,428.5 338.5,425.8 339.5,424.6 340.5,423.8 341.5,423.4 342.5,423.3 343.2,423.5 344.0,424.0 344.7,425.0 345.3,427.0 345.3,429.5 344.8,432.0 343.8,434.5 342.5,436.4 341.0,437.6"/></g>
<ellipse cx="340" cy="433" rx="2.2" ry="4.5" transform="rotate(15 340 433)" fill="#d8d8d8"/>
<g stroke="#383838" stroke-width="1.2"><line x1="35.5" y1="283.0" x2="40.5" y2="283.0"/><line x1="35.5" y1="330.5" x2="40.5" y2="330.5"/><line x1="35.5" y1="380.7" x2="40.5" y2="380.7"/><line x1="35.5" y1="429.0" x2="40.5" y2="429.0"/><line x1="35.5" y1="438.0" x2="40.5" y2="438.0"/><line x1="37.7" y1="365.6" x2="40.5" y2="365.6"/><line x1="37.7" y1="356.7" x2="40.5" y2="356.7"/><line x1="37.7" y1="350.5" x2="40.5" y2="350.5"/><line x1="37.7" y1="345.6" x2="40.5" y2="345.6"/><line x1="37.7" y1="341.6" x2="40.5" y2="341.6"/><line x1="37.7" y1="338.3" x2="40.5" y2="338.3"/><line x1="37.7" y1="335.4" x2="40.5" y2="335.4"/><line x1="37.7" y1="332.8" x2="40.5" y2="332.8"/><line x1="37.7" y1="316.2" x2="40.5" y2="316.2"/><line x1="37.7" y1="307.8" x2="40.5" y2="307.8"/><line x1="37.7" y1="301.9" x2="40.5" y2="301.9"/><line x1="37.7" y1="297.3" x2="40.5" y2="297.3"/><line x1="37.7" y1="293.5" x2="40.5" y2="293.5"/><line x1="37.7" y1="290.4" x2="40.5" y2="290.4"/><line x1="37.7" y1="287.6" x2="40.5" y2="287.6"/><line x1="37.7" y1="285.2" x2="40.5" y2="285.2"/><line x1="37.7" y1="268.7" x2="40.5" y2="268.7"/><line x1="37.7" y1="384.9" x2="40.5" y2="384.9"/><line x1="37.7" y1="387.0" x2="40.5" y2="387.0"/><line x1="37.7" y1="390.2" x2="40.5" y2="390.2"/><line x1="37.7" y1="393.4" x2="40.5" y2="393.4"/><line x1="37.7" y1="397.7" x2="40.5" y2="397.7"/><line x1="37.7" y1="403.0" x2="40.5" y2="403.0"/><line x1="37.7" y1="409.4" x2="40.5" y2="409.4"/><line x1="37.7" y1="419.0" x2="40.5" y2="419.0"/><line x1="37.7" y1="433.4" x2="40.5" y2="433.4"/><line x1="37.7" y1="441.3" x2="40.5" y2="441.3"/><line x1="37.7" y1="444.5" x2="40.5" y2="444.5"/><line x1="37.7" y1="449.8" x2="40.5" y2="449.8"/><line x1="37.7" y1="460.4" x2="40.5" y2="460.4"/><line x1="37.7" y1="468.3" x2="40.5" y2="468.3"/><line x1="84.2" y1="473.2" x2="84.2" y2="478.2"/><line x1="135.7" y1="473.2" x2="135.7" y2="478.2"/><line x1="183.0" y1="473.2" x2="183.0" y2="478.2"/><line x1="231.0" y1="473.2" x2="231.0" y2="478.2"/><line x1="42.0" y1="473.2" x2="42.0" y2="478.2"/><line x1="62.3" y1="473.2" x2="62.3" y2="478.2"/><line x1="99.7" y1="473.2" x2="99.7" y2="476.0"/><line x1="108.8" y1="473.2" x2="108.8" y2="476.0"/><line x1="115.2" y1="473.2" x2="115.2" y2="476.0"/><line x1="120.2" y1="473.2" x2="120.2" y2="476.0"/><line x1="124.3" y1="473.2" x2="124.3" y2="476.0"/><line x1="127.7" y1="473.2" x2="127.7" y2="476.0"/><line x1="130.7" y1="473.2" x2="130.7" y2="476.0"/><line x1="133.3" y1="473.2" x2="133.3" y2="476.0"/><line x1="149.9" y1="473.2" x2="149.9" y2="476.0"/><line x1="158.3" y1="473.2" x2="158.3" y2="476.0"/><line x1="164.2" y1="473.2" x2="164.2" y2="476.0"/><line x1="168.8" y1="473.2" x2="168.8" y2="476.0"/><line x1="172.5" y1="473.2" x2="172.5" y2="476.0"/><line x1="175.7" y1="473.2" x2="175.7" y2="476.0"/><line x1="178.4" y1="473.2" x2="178.4" y2="476.0"/><line x1="180.8" y1="473.2" x2="180.8" y2="476.0"/><line x1="197.4" y1="473.2" x2="197.4" y2="476.0"/><line x1="205.9" y1="473.2" x2="205.9" y2="476.0"/><line x1="211.9" y1="473.2" x2="211.9" y2="476.0"/><line x1="216.6" y1="473.2" x2="216.6" y2="476.0"/><line x1="220.4" y1="473.2" x2="220.4" y2="476.0"/><line x1="223.6" y1="473.2" x2="223.6" y2="476.0"/><line x1="226.3" y1="473.2" x2="226.3" y2="476.0"/><line x1="228.8" y1="473.2" x2="228.8" y2="476.0"/><line x1="245.4" y1="473.2" x2="245.4" y2="476.0"/><line x1="44.3" y1="473.2" x2="44.3" y2="476.0"/><line x1="47.0" y1="473.2" x2="47.0" y2="476.0"/><line x1="49.5" y1="473.2" x2="49.5" y2="476.0"/><line x1="51.8" y1="473.2" x2="51.8" y2="476.0"/><line x1="54.1" y1="473.2" x2="54.1" y2="476.0"/><line x1="56.5" y1="473.2" x2="56.5" y2="476.0"/><line x1="58.8" y1="473.2" x2="58.8" y2="476.0"/><line x1="60.5" y1="473.2" x2="60.5" y2="476.0"/><line x1="61.5" y1="473.2" x2="61.5" y2="476.0"/><line x1="63.2" y1="473.2" x2="63.2" y2="476.0"/><line x1="64.5" y1="473.2" x2="64.5" y2="476.0"/><line x1="70.9" y1="473.2" x2="70.9" y2="476.0"/><line x1="73.8" y1="473.2" x2="73.8" y2="476.0"/><line x1="76.6" y1="473.2" x2="76.6" y2="476.0"/><line x1="79.0" y1="473.2" x2="79.0" y2="476.0"/><line x1="81.3" y1="473.2" x2="81.3" y2="476.0"/><line x1="82.4" y1="473.2" x2="82.4" y2="476.0"/></g>
<rect x="40.5" y="263.8" width="209.8" height="209.4" fill="none" stroke="#383838" stroke-width="1.3"/>
<text x="32.5" y="287.6" font-size="10.5" text-anchor="end" fill="#161616">10<tspan font-size="8.6" dy="-5">5</tspan></text>
<text x="32.5" y="335.1" font-size="10.5" text-anchor="end" fill="#161616">10<tspan font-size="8.6" dy="-5">4</tspan></text>
<text x="32.5" y="385.3" font-size="10.5" text-anchor="end" fill="#161616">10<tspan font-size="8.6" dy="-5">3</tspan></text>
<text x="32.2" y="443.8" font-size="10.5" text-anchor="end" font-weight="normal" fill="#161616" >0</text>
<text x="63" y="494.4" font-size="10.5" text-anchor="middle" font-weight="normal" fill="#161616" >0</text>
<text x="85.2" y="494.4" font-size="10.5" text-anchor="middle" fill="#161616">10<tspan font-size="8.6" dy="-5">2</tspan></text>
<text x="136.6" y="494.4" font-size="10.5" text-anchor="middle" fill="#161616">10<tspan font-size="8.6" dy="-5">3</tspan></text>
<text x="184.0" y="494.4" font-size="10.5" text-anchor="middle" fill="#161616">10<tspan font-size="8.6" dy="-5">4</tspan></text>
<text x="232.0" y="494.4" font-size="10.5" text-anchor="middle" fill="#161616">10<tspan font-size="8.6" dy="-5">5</tspan></text>
<g stroke="#383838" stroke-width="1.2"><line x1="303.8" y1="283.0" x2="308.8" y2="283.0"/><line x1="303.8" y1="329.7" x2="308.8" y2="329.7"/><line x1="303.8" y1="378.1" x2="308.8" y2="378.1"/><line x1="303.8" y1="428.5" x2="308.8" y2="428.5"/><line x1="303.8" y1="470.0" x2="308.8" y2="470.0"/><line x1="306.0" y1="413.3" x2="308.8" y2="413.3"/><line x1="306.0" y1="404.5" x2="308.8" y2="404.5"/><line x1="306.0" y1="398.2" x2="308.8" y2="398.2"/><line x1="306.0" y1="393.3" x2="308.8" y2="393.3"/><line x1="306.0" y1="389.3" x2="308.8" y2="389.3"/><line x1="306.0" y1="385.9" x2="308.8" y2="385.9"/><line x1="306.0" y1="383.0" x2="308.8" y2="383.0"/><line x1="306.0" y1="380.4" x2="308.8" y2="380.4"/><line x1="306.0" y1="363.5" x2="308.8" y2="363.5"/><line x1="306.0" y1="355.0" x2="308.8" y2="355.0"/><line x1="306.0" y1="349.0" x2="308.8" y2="349.0"/><line x1="306.0" y1="344.3" x2="308.8" y2="344.3"/><line x1="306.0" y1="340.4" x2="308.8" y2="340.4"/><line x1="306.0" y1="337.2" x2="308.8" y2="337.2"/><line x1="306.0" y1="334.4" x2="308.8" y2="334.4"/><line x1="306.0" y1="331.9" x2="308.8" y2="331.9"/><line x1="306.0" y1="315.6" x2="308.8" y2="315.6"/><line x1="306.0" y1="307.4" x2="308.8" y2="307.4"/><line x1="306.0" y1="301.6" x2="308.8" y2="301.6"/><line x1="306.0" y1="297.1" x2="308.8" y2="297.1"/><line x1="306.0" y1="293.4" x2="308.8" y2="293.4"/><line x1="306.0" y1="290.2" x2="308.8" y2="290.2"/><line x1="306.0" y1="287.5" x2="308.8" y2="287.5"/><line x1="306.0" y1="285.1" x2="308.8" y2="285.1"/><line x1="306.0" y1="268.9" x2="308.8" y2="268.9"/><line x1="306.0" y1="433.0" x2="308.8" y2="433.0"/><line x1="306.0" y1="437.0" x2="308.8" y2="437.0"/><line x1="306.0" y1="441.0" x2="308.8" y2="441.0"/><line x1="306.0" y1="445.0" x2="308.8" y2="445.0"/><line x1="306.0" y1="449.0" x2="308.8" y2="449.0"/><line x1="306.0" y1="450.5" x2="308.8" y2="450.5"/><line x1="306.0" y1="452.5" x2="308.8" y2="452.5"/><line x1="306.0" y1="455.0" x2="308.8" y2="455.0"/><line x1="306.0" y1="459.0" x2="308.8" y2="459.0"/><line x1="306.0" y1="463.0" x2="308.8" y2="463.0"/><line x1="306.0" y1="467.0" x2="308.8" y2="467.0"/><line x1="353.0" y1="472.6" x2="353.0" y2="477.6"/><line x1="404.0" y1="472.6" x2="404.0" y2="477.6"/><line x1="451.3" y1="472.6" x2="451.3" y2="477.6"/><line x1="499.3" y1="472.6" x2="499.3" y2="477.6"/><line x1="332.0" y1="472.6" x2="332.0" y2="477.6"/><line x1="368.4" y1="472.6" x2="368.4" y2="475.40000000000003"/><line x1="377.3" y1="472.6" x2="377.3" y2="475.40000000000003"/><line x1="383.7" y1="472.6" x2="383.7" y2="475.40000000000003"/><line x1="388.6" y1="472.6" x2="388.6" y2="475.40000000000003"/><line x1="392.7" y1="472.6" x2="392.7" y2="475.40000000000003"/><line x1="396.1" y1="472.6" x2="396.1" y2="475.40000000000003"/><line x1="399.1" y1="472.6" x2="399.1" y2="475.40000000000003"/><line x1="401.7" y1="472.6" x2="401.7" y2="475.40000000000003"/><line x1="418.2" y1="472.6" x2="418.2" y2="475.40000000000003"/><line x1="426.6" y1="472.6" x2="426.6" y2="475.40000000000003"/><line x1="432.5" y1="472.6" x2="432.5" y2="475.40000000000003"/><line x1="437.1" y1="472.6" x2="437.1" y2="475.40000000000003"/><line x1="440.8" y1="472.6" x2="440.8" y2="475.40000000000003"/><line x1="444.0" y1="472.6" x2="444.0" y2="475.40000000000003"/><line x1="446.7" y1="472.6" x2="446.7" y2="475.40000000000003"/><line x1="449.1" y1="472.6" x2="449.1" y2="475.40000000000003"/><line x1="465.7" y1="472.6" x2="465.7" y2="475.40000000000003"/><line x1="474.2" y1="472.6" x2="474.2" y2="475.40000000000003"/><line x1="480.2" y1="472.6" x2="480.2" y2="475.40000000000003"/><line x1="484.9" y1="472.6" x2="484.9" y2="475.40000000000003"/><line x1="488.7" y1="472.6" x2="488.7" y2="475.40000000000003"/><line x1="491.9" y1="472.6" x2="491.9" y2="475.40000000000003"/><line x1="494.6" y1="472.6" x2="494.6" y2="475.40000000000003"/><line x1="497.1" y1="472.6" x2="497.1" y2="475.40000000000003"/><line x1="513.7" y1="472.6" x2="513.7" y2="475.40000000000003"/><line x1="312.0" y1="472.6" x2="312.0" y2="475.40000000000003"/><line x1="315.0" y1="472.6" x2="315.0" y2="475.40000000000003"/><line x1="318.0" y1="472.6" x2="318.0" y2="475.40000000000003"/><line x1="321.0" y1="472.6" x2="321.0" y2="475.40000000000003"/><line x1="324.0" y1="472.6" x2="324.0" y2="475.40000000000003"/><line x1="327.0" y1="472.6" x2="327.0" y2="475.40000000000003"/><line x1="329.0" y1="472.6" x2="329.0" y2="475.40000000000003"/><line x1="330.5" y1="472.6" x2="330.5" y2="475.40000000000003"/><line x1="333.5" y1="472.6" x2="333.5" y2="475.40000000000003"/><line x1="335.0" y1="472.6" x2="335.0" y2="475.40000000000003"/><line x1="337.0" y1="472.6" x2="337.0" y2="475.40000000000003"/><line x1="340.0" y1="472.6" x2="340.0" y2="475.40000000000003"/><line x1="343.0" y1="472.6" x2="343.0" y2="475.40000000000003"/><line x1="346.0" y1="472.6" x2="346.0" y2="475.40000000000003"/><line x1="349.0" y1="472.6" x2="349.0" y2="475.40000000000003"/><line x1="351.0" y1="472.6" x2="351.0" y2="475.40000000000003"/></g>
<rect x="308.8" y="263.8" width="208.9" height="208.8" fill="none" stroke="#383838" stroke-width="1.3"/>
<text x="300.8" y="287.6" font-size="10.5" text-anchor="end" fill="#161616">10<tspan font-size="8.6" dy="-5">5</tspan></text>
<text x="300.8" y="334.3" font-size="10.5" text-anchor="end" fill="#161616">10<tspan font-size="8.6" dy="-5">4</tspan></text>
<text x="300.8" y="382.7" font-size="10.5" text-anchor="end" fill="#161616">10<tspan font-size="8.6" dy="-5">3</tspan></text>
<text x="300.8" y="433.1" font-size="10.5" text-anchor="end" fill="#161616">10<tspan font-size="8.6" dy="-5">2</tspan></text>
<text x="300.5" y="455.3" font-size="10.5" text-anchor="end" font-weight="normal" fill="#161616" >0</text>
<text x="332.3" y="494.4" font-size="10.5" text-anchor="middle" font-weight="normal" fill="#161616" >0</text>
<text x="354.2" y="494.4" font-size="10.5" text-anchor="middle" fill="#161616">10<tspan font-size="8.6" dy="-5">2</tspan></text>
<text x="405.0" y="494.4" font-size="10.5" text-anchor="middle" fill="#161616">10<tspan font-size="8.6" dy="-5">3</tspan></text>
<text x="452.3" y="494.4" font-size="10.5" text-anchor="middle" fill="#161616">10<tspan font-size="8.6" dy="-5">4</tspan></text>
<text x="500.3" y="494.4" font-size="10.5" text-anchor="middle" fill="#161616">10<tspan font-size="8.6" dy="-5">5</tspan></text>
<text transform="translate(11.8,359) rotate(-90)" font-size="12.8" letter-spacing="0.5" text-anchor="middle" fill="#161616">pHrodo</text>
<text transform="translate(278,356.2) rotate(-90)" font-size="12.8" letter-spacing="0.3" text-anchor="middle" fill="#161616">pHRodo</text>
<text x="133" y="513.5" font-size="13" text-anchor="middle" font-weight="normal" fill="#161616" >IgM</text>
<text x="404.8" y="513.5" font-size="13" text-anchor="middle" font-weight="normal" fill="#161616" >IgM</text>
<text x="0.6" y="268.7" font-size="10.8" text-anchor="start" font-weight="bold" fill="#000" >B</text>
<rect x="130.5" y="283.3" width="111.8" height="124.2" fill="none" stroke="#7590aa" stroke-width="1.2"/>
<rect x="316.2" y="284.8" width="111.6" height="117.8" fill="none" stroke="#7590aa" stroke-width="1.2"/>
<text x="171" y="276.4" font-size="13" text-anchor="start" font-weight="normal" fill="#111" >B cells</text>
<text x="139.2" y="299.3" font-size="12.5" text-anchor="start" font-weight="normal" fill="#111" >1%</text>
<text x="331" y="276.8" font-size="13" text-anchor="start" font-weight="normal" fill="#111" letter-spacing="0.45">Granulocytes</text>
<text x="323.6" y="300.9" font-size="13" text-anchor="start" font-weight="normal" fill="#111" >55%</text>
</svg></body></html>
